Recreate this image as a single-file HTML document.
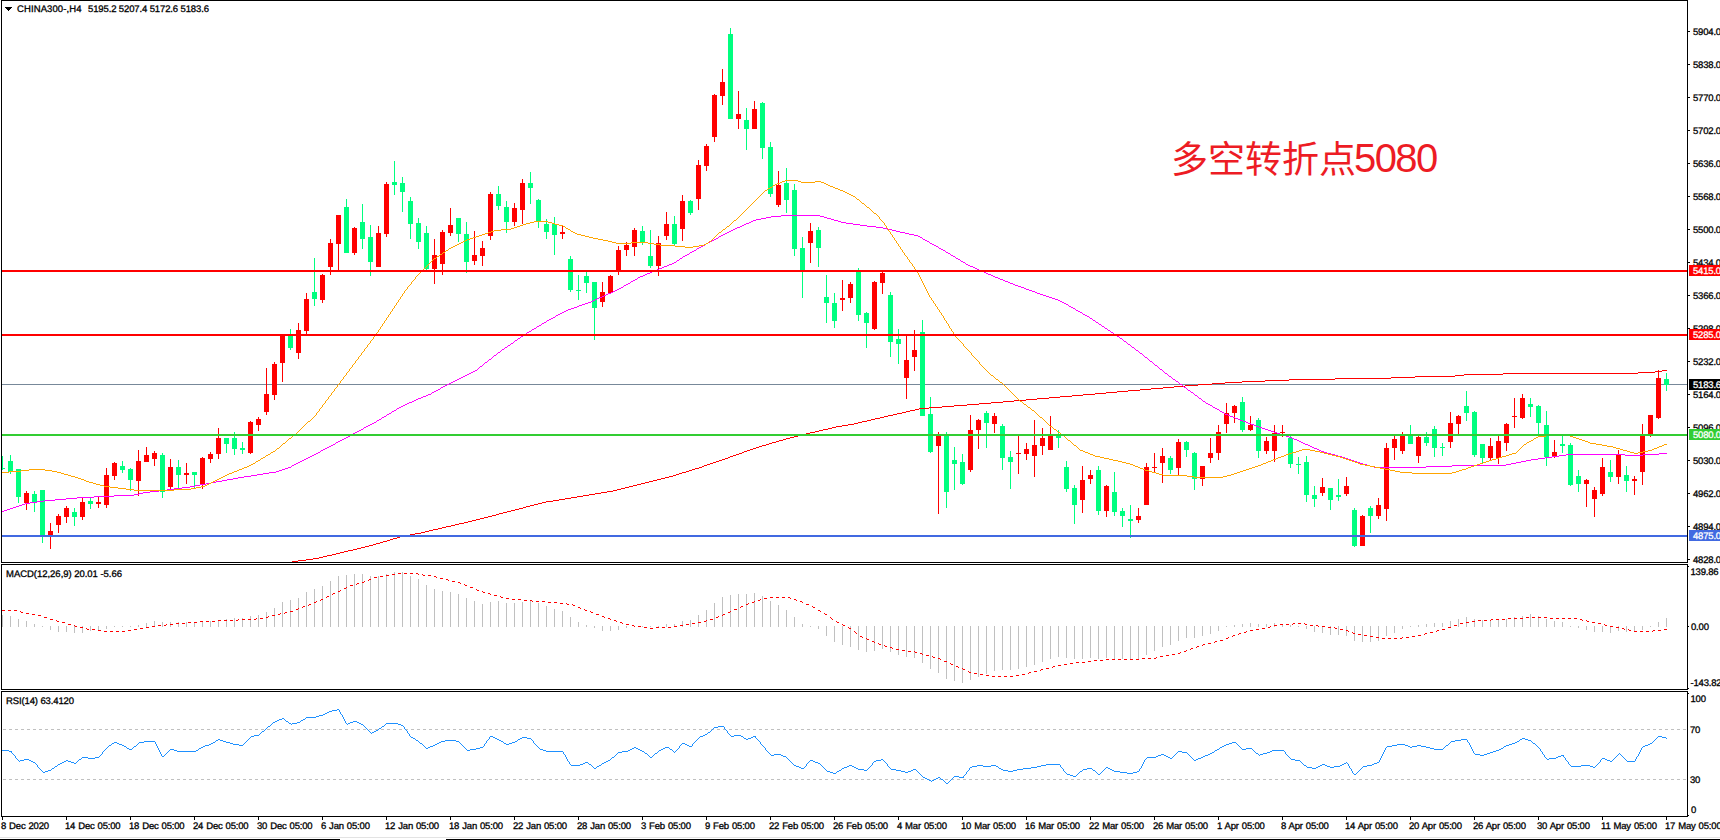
<!DOCTYPE html><html><head><meta charset="utf-8"><title>CHINA300 H4</title><style>html,body{margin:0;padding:0;background:#fff;overflow:hidden}#c{position:relative;width:1720px;height:840px;overflow:hidden}</style></head><body><div id="c"><svg width="1720" height="840" viewBox="0 0 1720 840" shape-rendering="crispEdges" style="position:absolute;left:0;top:0"><rect x="0" y="0" width="1720" height="840" fill="#fff"/><defs><clipPath id="cm"><rect x="2" y="1" width="1685" height="561"/></clipPath><clipPath id="c2"><rect x="2" y="565" width="1685" height="124"/></clipPath><clipPath id="c3"><rect x="2" y="692" width="1685" height="124"/></clipPath></defs><g clip-path="url(#cm)"><rect x="2" y="384" width="1685" height="1" fill="#778899"/><path d="M2 456h1v14h-1zM10 455h1v19h-1zM18 469h1v34h-1zM34 491h1v21h-1zM42 490h1v53h-1zM74 508h1v18h-1zM90 497h1v12h-1zM122 461h1v12h-1zM130 468h1v23h-1zM162 453h1v45h-1zM178 460h1v28h-1zM194 472h1v16h-1zM226 438h1v15h-1zM234 432h1v23h-1zM242 442h1v12h-1zM290 329h1v21h-1zM314 258h1v48h-1zM346 199h1v54h-1zM362 204h1v45h-1zM370 225h1v51h-1zM394 161h1v34h-1zM402 177h1v35h-1zM410 197h1v42h-1zM418 218h1v31h-1zM426 226h1v44h-1zM458 218h1v24h-1zM466 222h1v51h-1zM498 186h1v24h-1zM506 201h1v32h-1zM530 172h1v32h-1zM538 199h1v29h-1zM546 219h1v20h-1zM554 217h1v38h-1zM570 256h1v36h-1zM578 275h1v25h-1zM586 272h1v21h-1zM594 282h1v58h-1zM642 226h1v19h-1zM650 230h1v38h-1zM674 216h1v30h-1zM690 200h1v15h-1zM730 28h1v91h-1zM746 108h1v42h-1zM762 102h1v57h-1zM770 142h1v55h-1zM786 168h1v45h-1zM794 184h1v72h-1zM802 237h1v61h-1zM818 227h1v40h-1zM826 275h1v48h-1zM834 293h1v35h-1zM858 268h1v53h-1zM866 312h1v36h-1zM890 292h1v65h-1zM898 329h1v35h-1zM922 320h1v96h-1zM930 397h1v56h-1zM946 432h1v76h-1zM954 447h1v43h-1zM962 454h1v31h-1zM986 411h1v37h-1zM1002 424h1v46h-1zM1010 451h1v38h-1zM1058 430h1v18h-1zM1066 461h1v31h-1zM1074 485h1v39h-1zM1098 466h1v49h-1zM1114 472h1v44h-1zM1122 508h1v19h-1zM1130 505h1v33h-1zM1170 456h1v18h-1zM1186 441h1v16h-1zM1194 452h1v38h-1zM1242 397h1v35h-1zM1258 418h1v40h-1zM1290 436h1v32h-1zM1298 457h1v17h-1zM1306 456h1v46h-1zM1314 486h1v21h-1zM1330 488h1v22h-1zM1338 479h1v22h-1zM1354 508h1v39h-1zM1370 506h1v27h-1zM1410 425h1v19h-1zM1426 432h1v14h-1zM1434 426h1v31h-1zM1442 443h1v13h-1zM1466 391h1v30h-1zM1474 411h1v46h-1zM1482 444h1v19h-1zM1530 398h1v19h-1zM1538 405h1v30h-1zM1546 411h1v55h-1zM1562 436h1v17h-1zM1570 443h1v43h-1zM1578 470h1v22h-1zM1610 460h1v22h-1zM1626 466h1v26h-1zM1666 373h1v18h-1zM0 468h5v1h-5zM8 461h5v11h-5zM16 469h5v28h-5zM32 494h5v9h-5zM40 490h5v46h-5zM72 512h5v5h-5zM88 501h5v3h-5zM120 466h5v4h-5zM128 469h5v11h-5zM160 455h5v37h-5zM176 467h5v8h-5zM192 472h5v3h-5zM224 438h5v6h-5zM232 438h5v11h-5zM240 448h5v2h-5zM288 335h5v13h-5zM312 292h5v7h-5zM344 207h5v46h-5zM360 222h5v17h-5zM368 237h5v25h-5zM392 182h5v3h-5zM400 183h5v9h-5zM408 201h5v23h-5zM416 223h5v19h-5zM424 233h5v36h-5zM456 218h5v16h-5zM464 234h5v28h-5zM496 194h5v12h-5zM504 207h5v15h-5zM528 183h5v5h-5zM536 200h5v22h-5zM544 224h5v8h-5zM552 224h5v11h-5zM568 259h5v31h-5zM576 290h5v1h-5zM584 276h5v7h-5zM592 282h5v26h-5zM640 231h5v12h-5zM648 256h5v10h-5zM672 224h5v20h-5zM688 201h5v12h-5zM728 34h5v85h-5zM744 120h5v9h-5zM760 103h5v45h-5zM768 147h5v47h-5zM784 183h5v17h-5zM792 190h5v59h-5zM800 248h5v22h-5zM816 230h5v18h-5zM824 297h5v6h-5zM832 303h5v18h-5zM856 270h5v45h-5zM864 313h5v10h-5zM888 295h5v47h-5zM896 339h5v5h-5zM920 332h5v84h-5zM928 414h5v38h-5zM944 435h5v57h-5zM952 460h5v4h-5zM960 462h5v22h-5zM984 413h5v10h-5zM1000 426h5v32h-5zM1008 457h5v5h-5zM1056 436h5v2h-5zM1064 467h5v22h-5zM1072 488h5v17h-5zM1096 470h5v41h-5zM1112 492h5v20h-5zM1120 511h5v5h-5zM1128 519h5v2h-5zM1168 458h5v12h-5zM1184 442h5v8h-5zM1192 453h5v26h-5zM1240 402h5v28h-5zM1256 420h5v31h-5zM1288 438h5v26h-5zM1296 464h5v1h-5zM1304 462h5v33h-5zM1312 495h5v4h-5zM1328 488h5v12h-5zM1336 495h5v2h-5zM1352 510h5v36h-5zM1368 508h5v8h-5zM1408 436h5v8h-5zM1424 437h5v6h-5zM1432 429h5v19h-5zM1440 447h5v1h-5zM1464 406h5v7h-5zM1472 412h5v43h-5zM1480 444h5v14h-5zM1528 404h5v3h-5zM1536 406h5v17h-5zM1544 425h5v32h-5zM1560 444h5v2h-5zM1568 445h5v40h-5zM1576 476h5v8h-5zM1608 472h5v5h-5zM1624 475h5v6h-5zM1664 379h5v6h-5z" fill="#00ff7f"/><path d="M26 491h1v19h-1zM50 523h1v26h-1zM58 514h1v19h-1zM66 506h1v17h-1zM82 498h1v22h-1zM98 497h1v11h-1zM106 468h1v40h-1zM114 462h1v18h-1zM138 450h1v46h-1zM146 447h1v15h-1zM154 451h1v15h-1zM170 459h1v30h-1zM186 463h1v21h-1zM202 457h1v32h-1zM210 452h1v11h-1zM218 428h1v31h-1zM250 421h1v33h-1zM258 417h1v14h-1zM266 368h1v47h-1zM274 362h1v38h-1zM282 335h1v47h-1zM298 323h1v36h-1zM306 293h1v41h-1zM322 274h1v29h-1zM330 239h1v36h-1zM338 215h1v56h-1zM354 227h1v28h-1zM378 226h1v41h-1zM386 182h1v55h-1zM434 239h1v45h-1zM442 230h1v45h-1zM450 208h1v28h-1zM474 231h1v34h-1zM482 241h1v25h-1zM490 192h1v48h-1zM514 203h1v23h-1zM522 179h1v45h-1zM562 225h1v14h-1zM602 282h1v25h-1zM610 275h1v18h-1zM618 246h1v29h-1zM626 242h1v14h-1zM634 228h1v28h-1zM658 236h1v40h-1zM666 212h1v28h-1zM682 195h1v46h-1zM698 160h1v50h-1zM706 144h1v27h-1zM714 94h1v48h-1zM722 69h1v36h-1zM738 91h1v38h-1zM754 101h1v28h-1zM778 171h1v36h-1zM810 223h1v40h-1zM842 280h1v31h-1zM850 282h1v21h-1zM874 281h1v49h-1zM882 271h1v23h-1zM906 335h1v64h-1zM914 330h1v41h-1zM938 432h1v82h-1zM970 415h1v57h-1zM978 419h1v30h-1zM994 413h1v20h-1zM1018 436h1v38h-1zM1026 443h1v17h-1zM1034 420h1v57h-1zM1042 428h1v27h-1zM1050 416h1v34h-1zM1082 466h1v47h-1zM1090 470h1v14h-1zM1106 485h1v32h-1zM1138 508h1v15h-1zM1146 463h1v42h-1zM1154 453h1v19h-1zM1162 448h1v35h-1zM1178 439h1v36h-1zM1202 466h1v20h-1zM1210 438h1v25h-1zM1218 425h1v35h-1zM1226 403h1v30h-1zM1234 405h1v18h-1zM1250 416h1v15h-1zM1266 437h1v17h-1zM1274 425h1v37h-1zM1282 425h1v12h-1zM1322 478h1v18h-1zM1346 477h1v19h-1zM1362 515h1v31h-1zM1378 498h1v21h-1zM1386 443h1v78h-1zM1394 436h1v24h-1zM1402 432h1v22h-1zM1418 436h1v27h-1zM1450 412h1v36h-1zM1458 415h1v19h-1zM1490 438h1v22h-1zM1498 436h1v28h-1zM1506 423h1v28h-1zM1514 398h1v30h-1zM1522 394h1v25h-1zM1554 440h1v18h-1zM1586 479h1v28h-1zM1594 487h1v30h-1zM1602 458h1v38h-1zM1618 450h1v34h-1zM1634 476h1v19h-1zM1642 424h1v61h-1zM1650 415h1v22h-1zM1658 370h1v49h-1zM24 493h5v10h-5zM48 531h5v5h-5zM56 516h5v9h-5zM64 508h5v9h-5zM80 502h5v15h-5zM96 502h5v2h-5zM104 475h5v30h-5zM112 463h5v13h-5zM136 461h5v20h-5zM144 455h5v7h-5zM152 453h5v6h-5zM168 467h5v20h-5zM184 473h5v2h-5zM200 458h5v26h-5zM208 454h5v5h-5zM216 438h5v16h-5zM248 422h5v31h-5zM256 419h5v6h-5zM264 394h5v18h-5zM272 364h5v31h-5zM280 335h5v28h-5zM296 330h5v23h-5zM304 299h5v32h-5zM320 275h5v25h-5zM328 243h5v24h-5zM336 215h5v29h-5zM352 228h5v25h-5zM376 233h5v34h-5zM384 184h5v50h-5zM432 255h5v14h-5zM440 232h5v32h-5zM448 225h5v8h-5zM472 255h5v6h-5zM480 248h5v8h-5zM488 194h5v42h-5zM512 208h5v14h-5zM520 183h5v27h-5zM560 232h5v2h-5zM600 292h5v10h-5zM608 276h5v17h-5zM616 250h5v21h-5zM624 245h5v5h-5zM632 230h5v17h-5zM656 243h5v23h-5zM664 224h5v12h-5zM680 201h5v28h-5zM696 165h5v34h-5zM704 146h5v20h-5zM712 95h5v42h-5zM720 82h5v14h-5zM736 114h5v5h-5zM752 109h5v20h-5zM776 185h5v20h-5zM808 231h5v12h-5zM840 298h5v2h-5zM848 284h5v14h-5zM872 282h5v47h-5zM880 273h5v10h-5zM904 360h5v18h-5zM912 350h5v7h-5zM936 435h5v11h-5zM968 430h5v40h-5zM976 420h5v10h-5zM992 416h5v8h-5zM1016 453h5v1h-5zM1024 449h5v5h-5zM1032 445h5v11h-5zM1040 438h5v8h-5zM1048 435h5v15h-5zM1080 480h5v20h-5zM1088 475h5v4h-5zM1104 486h5v25h-5zM1136 516h5v4h-5zM1144 467h5v38h-5zM1152 467h5v1h-5zM1160 456h5v7h-5zM1176 442h5v26h-5zM1200 466h5v13h-5zM1208 453h5v5h-5zM1216 432h5v21h-5zM1224 413h5v11h-5zM1232 406h5v7h-5zM1248 425h5v5h-5zM1264 441h5v10h-5zM1272 433h5v18h-5zM1280 432h5v1h-5zM1320 487h5v6h-5zM1344 486h5v8h-5zM1360 516h5v30h-5zM1376 505h5v11h-5zM1384 448h5v61h-5zM1392 439h5v9h-5zM1400 436h5v15h-5zM1416 437h5v19h-5zM1448 423h5v19h-5zM1456 416h5v8h-5zM1488 446h5v12h-5zM1496 441h5v17h-5zM1504 424h5v19h-5zM1512 416h5v1h-5zM1520 398h5v20h-5zM1552 452h5v4h-5zM1584 480h5v4h-5zM1592 490h5v9h-5zM1600 467h5v27h-5zM1616 454h5v23h-5zM1632 479h5v2h-5zM1640 435h5v37h-5zM1648 415h5v20h-5zM1656 378h5v40h-5z" fill="#ff0000"/><path d="M291 562h1v1h-1zM292 561h1v1h-1zM293 561h1v1h-1zM294 561h1v1h-1zM295 561h1v1h-1zM296 561h1v1h-1zM297 561h1v1h-1zM298 560h1v1h-1zM299 560h1v1h-1zM300 560h1v1h-1zM301 560h1v1h-1zM302 560h1v1h-1zM303 560h1v1h-1zM304 560h1v1h-1zM305 560h1v1h-1zM306 559h1v1h-1zM307 559h1v1h-1zM308 559h1v1h-1zM309 559h1v1h-1zM310 559h1v1h-1zM311 559h1v1h-1zM312 559h1v1h-1zM313 558h1v1h-1zM314 558h1v1h-1zM315 558h1v1h-1zM316 558h1v1h-1zM317 558h1v1h-1zM318 558h1v1h-1zM319 557h1v1h-1zM320 557h1v1h-1zM321 557h1v1h-1zM322 557h1v1h-1zM323 556h1v1h-1zM324 556h1v1h-1zM325 556h1v1h-1zM326 556h1v1h-1zM327 555h1v1h-1zM328 555h1v1h-1zM329 555h1v1h-1zM330 555h1v1h-1zM331 555h1v1h-1zM332 554h1v1h-1zM333 554h1v1h-1zM334 554h1v1h-1zM335 554h1v1h-1zM336 553h1v1h-1zM337 553h1v1h-1zM338 553h1v1h-1zM339 553h1v1h-1zM340 552h1v1h-1zM341 552h1v1h-1zM342 552h1v1h-1zM343 552h1v1h-1zM344 551h1v1h-1zM345 551h1v1h-1zM346 551h1v1h-1zM347 551h1v1h-1zM348 550h1v1h-1zM349 550h1v1h-1zM350 550h1v1h-1zM351 550h1v1h-1zM352 550h1v1h-1zM353 549h1v1h-1zM354 549h1v1h-1zM355 549h1v1h-1zM356 549h1v1h-1zM357 548h1v1h-1zM358 548h1v1h-1zM359 548h1v1h-1zM360 548h1v1h-1zM361 547h1v1h-1zM362 547h1v1h-1zM363 547h1v1h-1zM364 547h1v1h-1zM365 546h1v1h-1zM366 546h1v1h-1zM367 546h1v1h-1zM368 546h1v1h-1zM369 545h1v1h-1zM370 545h1v1h-1zM371 545h1v1h-1zM372 545h1v1h-1zM373 544h1v1h-1zM374 544h1v1h-1zM375 544h1v1h-1zM376 543h1v1h-1zM377 543h1v1h-1zM378 543h1v1h-1zM379 543h1v1h-1zM380 542h1v1h-1zM381 542h1v1h-1zM382 542h1v1h-1zM383 541h1v1h-1zM384 541h1v1h-1zM385 541h1v1h-1zM386 541h1v1h-1zM387 540h1v1h-1zM388 540h1v1h-1zM389 540h1v1h-1zM390 539h1v1h-1zM391 539h1v1h-1zM392 539h1v1h-1zM393 538h1v1h-1zM394 538h1v1h-1zM395 538h1v1h-1zM396 538h1v1h-1zM397 537h1v1h-1zM398 537h1v1h-1zM399 537h1v1h-1zM400 536h1v1h-1zM401 536h1v1h-1zM402 536h1v1h-1zM403 536h1v1h-1zM404 536h1v1h-1zM405 535h1v1h-1zM406 535h1v1h-1zM407 535h1v1h-1zM408 535h1v1h-1zM409 535h1v1h-1zM410 534h1v1h-1zM411 534h1v1h-1zM412 534h1v1h-1zM413 534h1v1h-1zM414 534h1v1h-1zM415 533h1v1h-1zM416 533h1v1h-1zM417 533h1v1h-1zM418 533h1v1h-1zM419 533h1v1h-1zM420 533h1v1h-1zM421 532h1v1h-1zM422 532h1v1h-1zM423 532h1v1h-1zM424 532h1v1h-1zM425 531h1v1h-1zM426 531h1v1h-1zM427 531h1v1h-1zM428 531h1v1h-1zM429 530h1v1h-1zM430 530h1v1h-1zM431 530h1v1h-1zM432 530h1v1h-1zM433 529h1v1h-1zM434 529h1v1h-1zM435 529h1v1h-1zM436 529h1v1h-1zM437 529h1v1h-1zM438 528h1v1h-1zM439 528h1v1h-1zM440 528h1v1h-1zM441 528h1v1h-1zM442 527h1v1h-1zM443 527h1v1h-1zM444 527h1v1h-1zM445 527h1v1h-1zM446 526h1v1h-1zM447 526h1v1h-1zM448 526h1v1h-1zM449 526h1v1h-1zM450 526h1v1h-1zM451 525h1v1h-1zM452 525h1v1h-1zM453 525h1v1h-1zM454 525h1v1h-1zM455 524h1v1h-1zM456 524h1v1h-1zM457 524h1v1h-1zM458 524h1v1h-1zM459 523h1v1h-1zM460 523h1v1h-1zM461 523h1v1h-1zM462 523h1v1h-1zM463 523h1v1h-1zM464 522h1v1h-1zM465 522h1v1h-1zM466 522h1v1h-1zM467 522h1v1h-1zM468 521h1v1h-1zM469 521h1v1h-1zM470 521h1v1h-1zM471 521h1v1h-1zM472 520h1v1h-1zM473 520h1v1h-1zM474 520h1v1h-1zM475 520h1v1h-1zM476 519h1v1h-1zM477 519h1v1h-1zM478 519h1v1h-1zM479 519h1v1h-1zM480 518h1v1h-1zM481 518h1v1h-1zM482 518h1v1h-1zM483 518h1v1h-1zM484 517h1v1h-1zM485 517h1v1h-1zM486 517h1v1h-1zM487 517h1v1h-1zM488 516h1v1h-1zM489 516h1v1h-1zM490 516h1v1h-1zM491 516h1v1h-1zM492 515h1v1h-1zM493 515h1v1h-1zM494 515h1v1h-1zM495 515h1v1h-1zM496 514h1v1h-1zM497 514h1v1h-1zM498 514h1v1h-1zM499 513h1v1h-1zM500 513h1v1h-1zM501 513h1v1h-1zM502 513h1v1h-1zM503 512h1v1h-1zM504 512h1v1h-1zM505 512h1v1h-1zM506 512h1v1h-1zM507 511h1v1h-1zM508 511h1v1h-1zM509 511h1v1h-1zM510 511h1v1h-1zM511 510h1v1h-1zM512 510h1v1h-1zM513 510h1v1h-1zM514 510h1v1h-1zM515 509h1v1h-1zM516 509h1v1h-1zM517 509h1v1h-1zM518 509h1v1h-1zM519 508h1v1h-1zM520 508h1v1h-1zM521 508h1v1h-1zM522 508h1v1h-1zM523 507h1v1h-1zM524 507h1v1h-1zM525 507h1v1h-1zM526 506h1v1h-1zM527 506h1v1h-1zM528 506h1v1h-1zM529 506h1v1h-1zM530 505h1v1h-1zM531 505h1v1h-1zM532 505h1v1h-1zM533 505h1v1h-1zM534 504h1v1h-1zM535 504h1v1h-1zM536 504h1v1h-1zM537 504h1v1h-1zM538 503h1v1h-1zM539 503h1v1h-1zM540 503h1v1h-1zM541 503h1v1h-1zM542 502h1v1h-1zM543 502h1v1h-1zM544 502h1v1h-1zM545 502h1v1h-1zM546 501h1v1h-1zM547 501h1v1h-1zM548 501h1v1h-1zM549 501h1v1h-1zM550 501h1v1h-1zM551 501h1v1h-1zM552 501h1v1h-1zM553 500h1v1h-1zM554 500h1v1h-1zM555 500h1v1h-1zM556 500h1v1h-1zM557 500h1v1h-1zM558 500h1v1h-1zM559 499h1v1h-1zM560 499h1v1h-1zM561 499h1v1h-1zM562 499h1v1h-1zM563 499h1v1h-1zM564 499h1v1h-1zM565 498h1v1h-1zM566 498h1v1h-1zM567 498h1v1h-1zM568 498h1v1h-1zM569 498h1v1h-1zM570 498h1v1h-1zM571 497h1v1h-1zM572 497h1v1h-1zM573 497h1v1h-1zM574 497h1v1h-1zM575 497h1v1h-1zM576 497h1v1h-1zM577 496h1v1h-1zM578 496h1v1h-1zM579 496h1v1h-1zM580 496h1v1h-1zM581 496h1v1h-1zM582 496h1v1h-1zM583 495h1v1h-1zM584 495h1v1h-1zM585 495h1v1h-1zM586 495h1v1h-1zM587 495h1v1h-1zM588 495h1v1h-1zM589 494h1v1h-1zM590 494h1v1h-1zM591 494h1v1h-1zM592 494h1v1h-1zM593 494h1v1h-1zM594 494h1v1h-1zM595 493h1v1h-1zM596 493h1v1h-1zM597 493h1v1h-1zM598 493h1v1h-1zM599 493h1v1h-1zM600 493h1v1h-1zM601 492h1v1h-1zM602 492h1v1h-1zM603 492h1v1h-1zM604 492h1v1h-1zM605 492h1v1h-1zM606 492h1v1h-1zM607 491h1v1h-1zM608 491h1v1h-1zM609 491h1v1h-1zM610 491h1v1h-1zM611 491h1v1h-1zM612 491h1v1h-1zM613 490h1v1h-1zM614 490h1v1h-1zM615 490h1v1h-1zM616 490h1v1h-1zM617 489h1v1h-1zM618 489h1v1h-1zM619 489h1v1h-1zM620 489h1v1h-1zM621 488h1v1h-1zM622 488h1v1h-1zM623 488h1v1h-1zM624 488h1v1h-1zM625 487h1v1h-1zM626 487h1v1h-1zM627 487h1v1h-1zM628 487h1v1h-1zM629 486h1v1h-1zM630 486h1v1h-1zM631 486h1v1h-1zM632 486h1v1h-1zM633 485h1v1h-1zM634 485h1v1h-1zM635 485h1v1h-1zM636 485h1v1h-1zM637 484h1v1h-1zM638 484h1v1h-1zM639 484h1v1h-1zM640 484h1v1h-1zM641 483h1v1h-1zM642 483h1v1h-1zM643 483h1v1h-1zM644 483h1v1h-1zM645 482h1v1h-1zM646 482h1v1h-1zM647 482h1v1h-1zM648 482h1v1h-1zM649 481h1v1h-1zM650 481h1v1h-1zM651 481h1v1h-1zM652 481h1v1h-1zM653 480h1v1h-1zM654 480h1v1h-1zM655 480h1v1h-1zM656 480h1v1h-1zM657 479h1v1h-1zM658 479h1v1h-1zM659 479h1v1h-1zM660 479h1v1h-1zM661 478h1v1h-1zM662 478h1v1h-1zM663 478h1v1h-1zM664 478h1v1h-1zM665 477h1v1h-1zM666 477h1v1h-1zM667 477h1v1h-1zM668 477h1v1h-1zM669 476h1v1h-1zM670 476h1v1h-1zM671 476h1v1h-1zM672 476h1v1h-1zM673 475h1v1h-1zM674 475h1v1h-1zM675 475h1v1h-1zM676 474h1v1h-1zM677 474h1v1h-1zM678 474h1v1h-1zM679 473h1v1h-1zM680 473h1v1h-1zM681 473h1v1h-1zM682 472h1v1h-1zM683 472h1v1h-1zM684 472h1v1h-1zM685 472h1v1h-1zM686 471h1v1h-1zM687 471h1v1h-1zM688 471h1v1h-1zM689 470h1v1h-1zM690 470h1v1h-1zM691 470h1v1h-1zM692 469h1v1h-1zM693 469h1v1h-1zM694 469h1v1h-1zM695 468h1v1h-1zM696 468h1v1h-1zM697 468h1v1h-1zM698 468h1v1h-1zM699 467h1v1h-1zM700 467h1v1h-1zM701 467h1v1h-1zM702 466h1v1h-1zM703 466h1v1h-1zM704 465h1v1h-1zM705 465h1v1h-1zM706 465h1v1h-1zM707 464h1v1h-1zM708 464h1v1h-1zM709 464h1v1h-1zM710 463h1v1h-1zM711 463h1v1h-1zM712 463h1v1h-1zM713 462h1v1h-1zM714 462h1v1h-1zM715 462h1v1h-1zM716 461h1v1h-1zM717 461h1v1h-1zM718 461h1v1h-1zM719 460h1v1h-1zM720 460h1v1h-1zM721 460h1v1h-1zM722 459h1v1h-1zM723 459h1v1h-1zM724 459h1v1h-1zM725 458h1v1h-1zM726 458h1v1h-1zM727 458h1v1h-1zM728 457h1v1h-1zM729 457h1v1h-1zM730 456h1v1h-1zM731 456h1v1h-1zM732 456h1v1h-1zM733 455h1v1h-1zM734 455h1v1h-1zM735 455h1v1h-1zM736 454h1v1h-1zM737 454h1v1h-1zM738 454h1v1h-1zM739 453h1v1h-1zM740 453h1v1h-1zM741 453h1v1h-1zM742 452h1v1h-1zM743 452h1v1h-1zM744 451h1v1h-1zM745 451h1v1h-1zM746 451h1v1h-1zM747 450h1v1h-1zM748 450h1v1h-1zM749 450h1v1h-1zM750 449h1v1h-1zM751 449h1v1h-1zM752 449h1v1h-1zM753 448h1v1h-1zM754 448h1v1h-1zM755 448h1v1h-1zM756 447h1v1h-1zM757 447h1v1h-1zM758 447h1v1h-1zM759 446h1v1h-1zM760 446h1v1h-1zM761 446h1v1h-1zM762 445h1v1h-1zM763 445h1v1h-1zM764 445h1v1h-1zM765 445h1v1h-1zM766 444h1v1h-1zM767 444h1v1h-1zM768 444h1v1h-1zM769 443h1v1h-1zM770 443h1v1h-1zM771 443h1v1h-1zM772 442h1v1h-1zM773 442h1v1h-1zM774 442h1v1h-1zM775 442h1v1h-1zM776 441h1v1h-1zM777 441h1v1h-1zM778 441h1v1h-1zM779 440h1v1h-1zM780 440h1v1h-1zM781 440h1v1h-1zM782 440h1v1h-1zM783 439h1v1h-1zM784 439h1v1h-1zM785 439h1v1h-1zM786 438h1v1h-1zM787 438h1v1h-1zM788 438h1v1h-1zM789 438h1v1h-1zM790 437h1v1h-1zM791 437h1v1h-1zM792 437h1v1h-1zM793 437h1v1h-1zM794 436h1v1h-1zM795 436h1v1h-1zM796 436h1v1h-1zM797 436h1v1h-1zM798 435h1v1h-1zM799 435h1v1h-1zM800 435h1v1h-1zM801 435h1v1h-1zM802 434h1v1h-1zM803 434h1v1h-1zM804 434h1v1h-1zM805 434h1v1h-1zM806 433h1v1h-1zM807 433h1v1h-1zM808 433h1v1h-1zM809 433h1v1h-1zM810 432h1v1h-1zM811 432h1v1h-1zM812 432h1v1h-1zM813 432h1v1h-1zM814 432h1v1h-1zM815 431h1v1h-1zM816 431h1v1h-1zM817 431h1v1h-1zM818 431h1v1h-1zM819 430h1v1h-1zM820 430h1v1h-1zM821 430h1v1h-1zM822 430h1v1h-1zM823 429h1v1h-1zM824 429h1v1h-1zM825 429h1v1h-1zM826 429h1v1h-1zM827 429h1v1h-1zM828 428h1v1h-1zM829 428h1v1h-1zM830 428h1v1h-1zM831 428h1v1h-1zM832 427h1v1h-1zM833 427h1v1h-1zM834 427h1v1h-1zM835 427h1v1h-1zM836 426h1v1h-1zM837 426h1v1h-1zM838 426h1v1h-1zM839 426h1v1h-1zM840 426h1v1h-1zM841 426h1v1h-1zM842 425h1v1h-1zM843 425h1v1h-1zM844 425h1v1h-1zM845 425h1v1h-1zM846 425h1v1h-1zM847 425h1v1h-1zM848 424h1v1h-1zM849 424h1v1h-1zM850 424h1v1h-1zM851 424h1v1h-1zM852 424h1v1h-1zM853 424h1v1h-1zM854 423h1v1h-1zM855 423h1v1h-1zM856 423h1v1h-1zM857 423h1v1h-1zM858 422h1v1h-1zM859 422h1v1h-1zM860 422h1v1h-1zM861 422h1v1h-1zM862 421h1v1h-1zM863 421h1v1h-1zM864 421h1v1h-1zM865 421h1v1h-1zM866 421h1v1h-1zM867 420h1v1h-1zM868 420h1v1h-1zM869 420h1v1h-1zM870 420h1v1h-1zM871 419h1v1h-1zM872 419h1v1h-1zM873 419h1v1h-1zM874 419h1v1h-1zM875 418h1v1h-1zM876 418h1v1h-1zM877 418h1v1h-1zM878 418h1v1h-1zM879 418h1v1h-1zM880 417h1v1h-1zM881 417h1v1h-1zM882 417h1v1h-1zM883 417h1v1h-1zM884 416h1v1h-1zM885 416h1v1h-1zM886 416h1v1h-1zM887 416h1v1h-1zM888 415h1v1h-1zM889 415h1v1h-1zM890 415h1v1h-1zM891 415h1v1h-1zM892 415h1v1h-1zM893 414h1v1h-1zM894 414h1v1h-1zM895 414h1v1h-1zM896 414h1v1h-1zM897 413h1v1h-1zM898 413h1v1h-1zM899 413h1v1h-1zM900 413h1v1h-1zM901 413h1v1h-1zM902 412h1v1h-1zM903 412h1v1h-1zM904 412h1v1h-1zM905 412h1v1h-1zM906 411h1v1h-1zM907 411h1v1h-1zM908 411h1v1h-1zM909 411h1v1h-1zM910 410h1v1h-1zM911 410h1v1h-1zM912 410h1v1h-1zM913 410h1v1h-1zM914 410h1v1h-1zM915 409h1v1h-1zM916 409h1v1h-1zM917 409h1v1h-1zM918 409h1v1h-1zM919 408h1v1h-1zM920 408h1v1h-1zM921 408h1v1h-1zM922 408h1v1h-1zM923 408h1v1h-1zM924 408h1v1h-1zM925 408h1v1h-1zM926 408h1v1h-1zM927 408h1v1h-1zM928 408h1v1h-1zM929 407h1v1h-1zM930 407h1v1h-1zM931 407h1v1h-1zM932 407h1v1h-1zM933 407h1v1h-1zM934 407h1v1h-1zM935 407h1v1h-1zM936 407h1v1h-1zM937 407h1v1h-1zM938 407h1v1h-1zM939 407h1v1h-1zM940 407h1v1h-1zM941 407h1v1h-1zM942 406h1v1h-1zM943 406h1v1h-1zM944 406h1v1h-1zM945 406h1v1h-1zM946 406h1v1h-1zM947 406h1v1h-1zM948 406h1v1h-1zM949 406h1v1h-1zM950 406h1v1h-1zM951 406h1v1h-1zM952 406h1v1h-1zM953 406h1v1h-1zM954 405h1v1h-1zM955 405h1v1h-1zM956 405h1v1h-1zM957 405h1v1h-1zM958 405h1v1h-1zM959 405h1v1h-1zM960 405h1v1h-1zM961 405h1v1h-1zM962 405h1v1h-1zM963 405h1v1h-1zM964 405h1v1h-1zM965 405h1v1h-1zM966 405h1v1h-1zM967 404h1v1h-1zM968 404h1v1h-1zM969 404h1v1h-1zM970 404h1v1h-1zM971 404h1v1h-1zM972 404h1v1h-1zM973 404h1v1h-1zM974 404h1v1h-1zM975 404h1v1h-1zM976 404h1v1h-1zM977 404h1v1h-1zM978 404h1v1h-1zM979 403h1v1h-1zM980 403h1v1h-1zM981 403h1v1h-1zM982 403h1v1h-1zM983 403h1v1h-1zM984 403h1v1h-1zM985 403h1v1h-1zM986 403h1v1h-1zM987 403h1v1h-1zM988 403h1v1h-1zM989 403h1v1h-1zM990 403h1v1h-1zM991 402h1v1h-1zM992 402h1v1h-1zM993 402h1v1h-1zM994 402h1v1h-1zM995 402h1v1h-1zM996 402h1v1h-1zM997 402h1v1h-1zM998 402h1v1h-1zM999 402h1v1h-1zM1000 402h1v1h-1zM1001 402h1v1h-1zM1002 402h1v1h-1zM1003 401h1v1h-1zM1004 401h1v1h-1zM1005 401h1v1h-1zM1006 401h1v1h-1zM1007 401h1v1h-1zM1008 401h1v1h-1zM1009 401h1v1h-1zM1010 401h1v1h-1zM1011 401h1v1h-1zM1012 401h1v1h-1zM1013 401h1v1h-1zM1014 400h1v1h-1zM1015 400h1v1h-1zM1016 400h1v1h-1zM1017 400h1v1h-1zM1018 400h1v1h-1zM1019 400h1v1h-1zM1020 400h1v1h-1zM1021 400h1v1h-1zM1022 400h1v1h-1zM1023 400h1v1h-1zM1024 400h1v1h-1zM1025 400h1v1h-1zM1026 399h1v1h-1zM1027 399h1v1h-1zM1028 399h1v1h-1zM1029 399h1v1h-1zM1030 399h1v1h-1zM1031 399h1v1h-1zM1032 399h1v1h-1zM1033 399h1v1h-1zM1034 399h1v1h-1zM1035 399h1v1h-1zM1036 399h1v1h-1zM1037 398h1v1h-1zM1038 398h1v1h-1zM1039 398h1v1h-1zM1040 398h1v1h-1zM1041 398h1v1h-1zM1042 398h1v1h-1zM1043 398h1v1h-1zM1044 398h1v1h-1zM1045 398h1v1h-1zM1046 398h1v1h-1zM1047 398h1v1h-1zM1048 398h1v1h-1zM1049 397h1v1h-1zM1050 397h1v1h-1zM1051 397h1v1h-1zM1052 397h1v1h-1zM1053 397h1v1h-1zM1054 397h1v1h-1zM1055 397h1v1h-1zM1056 397h1v1h-1zM1057 397h1v1h-1zM1058 397h1v1h-1zM1059 397h1v1h-1zM1060 396h1v1h-1zM1061 396h1v1h-1zM1062 396h1v1h-1zM1063 396h1v1h-1zM1064 396h1v1h-1zM1065 396h1v1h-1zM1066 396h1v1h-1zM1067 396h1v1h-1zM1068 396h1v1h-1zM1069 396h1v1h-1zM1070 396h1v1h-1zM1071 396h1v1h-1zM1072 395h1v1h-1zM1073 395h1v1h-1zM1074 395h1v1h-1zM1075 395h1v1h-1zM1076 395h1v1h-1zM1077 395h1v1h-1zM1078 395h1v1h-1zM1079 395h1v1h-1zM1080 395h1v1h-1zM1081 395h1v1h-1zM1082 395h1v1h-1zM1083 394h1v1h-1zM1084 394h1v1h-1zM1085 394h1v1h-1zM1086 394h1v1h-1zM1087 394h1v1h-1zM1088 394h1v1h-1zM1089 394h1v1h-1zM1090 394h1v1h-1zM1091 394h1v1h-1zM1092 394h1v1h-1zM1093 394h1v1h-1zM1094 394h1v1h-1zM1095 393h1v1h-1zM1096 393h1v1h-1zM1097 393h1v1h-1zM1098 393h1v1h-1zM1099 393h1v1h-1zM1100 393h1v1h-1zM1101 393h1v1h-1zM1102 393h1v1h-1zM1103 393h1v1h-1zM1104 393h1v1h-1zM1105 393h1v1h-1zM1106 392h1v1h-1zM1107 392h1v1h-1zM1108 392h1v1h-1zM1109 392h1v1h-1zM1110 392h1v1h-1zM1111 392h1v1h-1zM1112 392h1v1h-1zM1113 392h1v1h-1zM1114 392h1v1h-1zM1115 392h1v1h-1zM1116 392h1v1h-1zM1117 391h1v1h-1zM1118 391h1v1h-1zM1119 391h1v1h-1zM1120 391h1v1h-1zM1121 391h1v1h-1zM1122 391h1v1h-1zM1123 391h1v1h-1zM1124 391h1v1h-1zM1125 391h1v1h-1zM1126 391h1v1h-1zM1127 391h1v1h-1zM1128 390h1v1h-1zM1129 390h1v1h-1zM1130 390h1v1h-1zM1131 390h1v1h-1zM1132 390h1v1h-1zM1133 390h1v1h-1zM1134 390h1v1h-1zM1135 390h1v1h-1zM1136 390h1v1h-1zM1137 390h1v1h-1zM1138 390h1v1h-1zM1139 390h1v1h-1zM1140 389h1v1h-1zM1141 389h1v1h-1zM1142 389h1v1h-1zM1143 389h1v1h-1zM1144 389h1v1h-1zM1145 389h1v1h-1zM1146 389h1v1h-1zM1147 389h1v1h-1zM1148 389h1v1h-1zM1149 389h1v1h-1zM1150 389h1v1h-1zM1151 388h1v1h-1zM1152 388h1v1h-1zM1153 388h1v1h-1zM1154 388h1v1h-1zM1155 388h1v1h-1zM1156 388h1v1h-1zM1157 388h1v1h-1zM1158 388h1v1h-1zM1159 388h1v1h-1zM1160 388h1v1h-1zM1161 388h1v1h-1zM1162 388h1v1h-1zM1163 387h1v1h-1zM1164 387h1v1h-1zM1165 387h1v1h-1zM1166 387h1v1h-1zM1167 387h1v1h-1zM1168 387h1v1h-1zM1169 387h1v1h-1zM1170 387h1v1h-1zM1171 387h1v1h-1zM1172 387h1v1h-1zM1173 387h1v1h-1zM1174 386h1v1h-1zM1175 386h1v1h-1zM1176 386h1v1h-1zM1177 386h1v1h-1zM1178 386h1v1h-1zM1179 386h1v1h-1zM1180 386h1v1h-1zM1181 386h1v1h-1zM1182 386h1v1h-1zM1183 386h1v1h-1zM1184 386h1v1h-1zM1185 385h1v1h-1zM1186 385h1v1h-1zM1187 385h1v1h-1zM1188 385h1v1h-1zM1189 385h1v1h-1zM1190 385h1v1h-1zM1191 385h1v1h-1zM1192 385h1v1h-1zM1193 385h1v1h-1zM1194 385h1v1h-1zM1195 385h1v1h-1zM1196 385h1v1h-1zM1197 385h1v1h-1zM1198 384h1v1h-1zM1199 384h1v1h-1zM1200 384h1v1h-1zM1201 384h1v1h-1zM1202 384h1v1h-1zM1203 384h1v1h-1zM1204 384h1v1h-1zM1205 384h1v1h-1zM1206 384h1v1h-1zM1207 384h1v1h-1zM1208 384h1v1h-1zM1209 384h1v1h-1zM1210 384h1v1h-1zM1211 384h1v1h-1zM1212 383h1v1h-1zM1213 383h1v1h-1zM1214 383h1v1h-1zM1215 383h1v1h-1zM1216 383h1v1h-1zM1217 383h1v1h-1zM1218 383h1v1h-1zM1219 383h1v1h-1zM1220 383h1v1h-1zM1221 383h1v1h-1zM1222 383h1v1h-1zM1223 383h1v1h-1zM1224 383h1v1h-1zM1225 382h1v1h-1zM1226 382h1v1h-1zM1227 382h1v1h-1zM1228 382h1v1h-1zM1229 382h1v1h-1zM1230 382h1v1h-1zM1231 382h1v1h-1zM1232 382h1v1h-1zM1233 382h1v1h-1zM1234 382h1v1h-1zM1235 382h1v1h-1zM1236 382h1v1h-1zM1237 382h1v1h-1zM1238 382h1v1h-1zM1239 382h1v1h-1zM1240 382h1v1h-1zM1241 382h1v1h-1zM1242 381h1v1h-1zM1243 381h1v1h-1zM1244 381h1v1h-1zM1245 381h1v1h-1zM1246 381h1v1h-1zM1247 381h1v1h-1zM1248 381h1v1h-1zM1249 381h1v1h-1zM1250 381h1v1h-1zM1251 381h1v1h-1zM1252 381h1v1h-1zM1253 381h1v1h-1zM1254 381h1v1h-1zM1255 381h1v1h-1zM1256 381h1v1h-1zM1257 381h1v1h-1zM1258 381h1v1h-1zM1259 381h1v1h-1zM1260 381h1v1h-1zM1261 381h1v1h-1zM1262 381h1v1h-1zM1263 381h1v1h-1zM1264 381h1v1h-1zM1265 380h1v1h-1zM1266 380h1v1h-1zM1267 380h1v1h-1zM1268 380h1v1h-1zM1269 380h1v1h-1zM1270 380h1v1h-1zM1271 380h1v1h-1zM1272 380h1v1h-1zM1273 380h1v1h-1zM1274 380h1v1h-1zM1275 380h1v1h-1zM1276 380h1v1h-1zM1277 380h1v1h-1zM1278 380h1v1h-1zM1279 380h1v1h-1zM1280 380h1v1h-1zM1281 380h1v1h-1zM1282 380h1v1h-1zM1283 380h1v1h-1zM1284 380h1v1h-1zM1285 380h1v1h-1zM1286 380h1v1h-1zM1287 380h1v1h-1zM1288 380h1v1h-1zM1289 379h1v1h-1zM1290 379h1v1h-1zM1291 379h1v1h-1zM1292 379h1v1h-1zM1293 379h1v1h-1zM1294 379h1v1h-1zM1295 379h1v1h-1zM1296 379h1v1h-1zM1297 379h1v1h-1zM1298 379h1v1h-1zM1299 379h1v1h-1zM1300 379h1v1h-1zM1301 379h1v1h-1zM1302 379h1v1h-1zM1303 379h1v1h-1zM1304 379h1v1h-1zM1305 379h1v1h-1zM1306 379h1v1h-1zM1307 379h1v1h-1zM1308 379h1v1h-1zM1309 379h1v1h-1zM1310 379h1v1h-1zM1311 379h1v1h-1zM1312 379h1v1h-1zM1313 379h1v1h-1zM1314 379h1v1h-1zM1315 379h1v1h-1zM1316 379h1v1h-1zM1317 379h1v1h-1zM1318 379h1v1h-1zM1319 379h1v1h-1zM1320 379h1v1h-1zM1321 379h1v1h-1zM1322 379h1v1h-1zM1323 379h1v1h-1zM1324 379h1v1h-1zM1325 379h1v1h-1zM1326 379h1v1h-1zM1327 379h1v1h-1zM1328 379h1v1h-1zM1329 379h1v1h-1zM1330 379h1v1h-1zM1331 379h1v1h-1zM1332 379h1v1h-1zM1333 379h1v1h-1zM1334 379h1v1h-1zM1335 378h1v1h-1zM1336 378h1v1h-1zM1337 378h1v1h-1zM1338 378h1v1h-1zM1339 378h1v1h-1zM1340 378h1v1h-1zM1341 378h1v1h-1zM1342 378h1v1h-1zM1343 378h1v1h-1zM1344 378h1v1h-1zM1345 378h1v1h-1zM1346 378h1v1h-1zM1347 378h1v1h-1zM1348 378h1v1h-1zM1349 378h1v1h-1zM1350 378h1v1h-1zM1351 378h1v1h-1zM1352 378h1v1h-1zM1353 378h1v1h-1zM1354 378h1v1h-1zM1355 378h1v1h-1zM1356 378h1v1h-1zM1357 378h1v1h-1zM1358 378h1v1h-1zM1359 378h1v1h-1zM1360 378h1v1h-1zM1361 378h1v1h-1zM1362 378h1v1h-1zM1363 378h1v1h-1zM1364 378h1v1h-1zM1365 378h1v1h-1zM1366 378h1v1h-1zM1367 378h1v1h-1zM1368 378h1v1h-1zM1369 378h1v1h-1zM1370 378h1v1h-1zM1371 378h1v1h-1zM1372 378h1v1h-1zM1373 378h1v1h-1zM1374 378h1v1h-1zM1375 378h1v1h-1zM1376 378h1v1h-1zM1377 378h1v1h-1zM1378 378h1v1h-1zM1379 378h1v1h-1zM1380 378h1v1h-1zM1381 378h1v1h-1zM1382 378h1v1h-1zM1383 378h1v1h-1zM1384 378h1v1h-1zM1385 378h1v1h-1zM1386 378h1v1h-1zM1387 378h1v1h-1zM1388 378h1v1h-1zM1389 378h1v1h-1zM1390 378h1v1h-1zM1391 377h1v1h-1zM1392 377h1v1h-1zM1393 377h1v1h-1zM1394 377h1v1h-1zM1395 377h1v1h-1zM1396 377h1v1h-1zM1397 377h1v1h-1zM1398 377h1v1h-1zM1399 377h1v1h-1zM1400 377h1v1h-1zM1401 377h1v1h-1zM1402 377h1v1h-1zM1403 377h1v1h-1zM1404 377h1v1h-1zM1405 377h1v1h-1zM1406 377h1v1h-1zM1407 377h1v1h-1zM1408 377h1v1h-1zM1409 377h1v1h-1zM1410 377h1v1h-1zM1411 377h1v1h-1zM1412 377h1v1h-1zM1413 377h1v1h-1zM1414 377h1v1h-1zM1415 376h1v1h-1zM1416 376h1v1h-1zM1417 376h1v1h-1zM1418 376h1v1h-1zM1419 376h1v1h-1zM1420 376h1v1h-1zM1421 376h1v1h-1zM1422 376h1v1h-1zM1423 376h1v1h-1zM1424 376h1v1h-1zM1425 376h1v1h-1zM1426 376h1v1h-1zM1427 376h1v1h-1zM1428 376h1v1h-1zM1429 376h1v1h-1zM1430 376h1v1h-1zM1431 376h1v1h-1zM1432 376h1v1h-1zM1433 376h1v1h-1zM1434 376h1v1h-1zM1435 376h1v1h-1zM1436 376h1v1h-1zM1437 376h1v1h-1zM1438 376h1v1h-1zM1439 376h1v1h-1zM1440 376h1v1h-1zM1441 376h1v1h-1zM1442 376h1v1h-1zM1443 376h1v1h-1zM1444 376h1v1h-1zM1445 376h1v1h-1zM1446 376h1v1h-1zM1447 376h1v1h-1zM1448 376h1v1h-1zM1449 376h1v1h-1zM1450 376h1v1h-1zM1451 376h1v1h-1zM1452 376h1v1h-1zM1453 376h1v1h-1zM1454 376h1v1h-1zM1455 375h1v1h-1zM1456 375h1v1h-1zM1457 375h1v1h-1zM1458 375h1v1h-1zM1459 375h1v1h-1zM1460 375h1v1h-1zM1461 375h1v1h-1zM1462 375h1v1h-1zM1463 375h1v1h-1zM1464 374h1v1h-1zM1465 374h1v1h-1zM1466 374h1v1h-1zM1467 374h1v1h-1zM1468 374h1v1h-1zM1469 374h1v1h-1zM1470 374h1v1h-1zM1471 374h1v1h-1zM1472 374h1v1h-1zM1473 374h1v1h-1zM1474 374h1v1h-1zM1475 374h1v1h-1zM1476 374h1v1h-1zM1477 374h1v1h-1zM1478 374h1v1h-1zM1479 374h1v1h-1zM1480 374h1v1h-1zM1481 374h1v1h-1zM1482 374h1v1h-1zM1483 374h1v1h-1zM1484 374h1v1h-1zM1485 374h1v1h-1zM1486 374h1v1h-1zM1487 374h1v1h-1zM1488 374h1v1h-1zM1489 374h1v1h-1zM1490 374h1v1h-1zM1491 374h1v1h-1zM1492 374h1v1h-1zM1493 374h1v1h-1zM1494 374h1v1h-1zM1495 374h1v1h-1zM1496 374h1v1h-1zM1497 374h1v1h-1zM1498 374h1v1h-1zM1499 374h1v1h-1zM1500 374h1v1h-1zM1501 374h1v1h-1zM1502 374h1v1h-1zM1503 373h1v1h-1zM1504 373h1v1h-1zM1505 373h1v1h-1zM1506 373h1v1h-1zM1507 373h1v1h-1zM1508 373h1v1h-1zM1509 373h1v1h-1zM1510 373h1v1h-1zM1511 373h1v1h-1zM1512 373h1v1h-1zM1513 373h1v1h-1zM1514 373h1v1h-1zM1515 373h1v1h-1zM1516 373h1v1h-1zM1517 373h1v1h-1zM1518 373h1v1h-1zM1519 373h1v1h-1zM1520 373h1v1h-1zM1521 373h1v1h-1zM1522 373h1v1h-1zM1523 373h1v1h-1zM1524 373h1v1h-1zM1525 373h1v1h-1zM1526 373h1v1h-1zM1527 373h1v1h-1zM1528 373h1v1h-1zM1529 373h1v1h-1zM1530 373h1v1h-1zM1531 373h1v1h-1zM1532 373h1v1h-1zM1533 373h1v1h-1zM1534 373h1v1h-1zM1535 373h1v1h-1zM1536 373h1v1h-1zM1537 373h1v1h-1zM1538 373h1v1h-1zM1539 373h1v1h-1zM1540 373h1v1h-1zM1541 373h1v1h-1zM1542 373h1v1h-1zM1543 373h1v1h-1zM1544 373h1v1h-1zM1545 373h1v1h-1zM1546 373h1v1h-1zM1547 373h1v1h-1zM1548 373h1v1h-1zM1549 373h1v1h-1zM1550 373h1v1h-1zM1551 373h1v1h-1zM1552 373h1v1h-1zM1553 373h1v1h-1zM1554 373h1v1h-1zM1555 373h1v1h-1zM1556 373h1v1h-1zM1557 373h1v1h-1zM1558 373h1v1h-1zM1559 373h1v1h-1zM1560 373h1v1h-1zM1561 373h1v1h-1zM1562 373h1v1h-1zM1563 373h1v1h-1zM1564 373h1v1h-1zM1565 373h1v1h-1zM1566 373h1v1h-1zM1567 373h1v1h-1zM1568 373h1v1h-1zM1569 373h1v1h-1zM1570 373h1v1h-1zM1571 373h1v1h-1zM1572 373h1v1h-1zM1573 373h1v1h-1zM1574 373h1v1h-1zM1575 373h1v1h-1zM1576 373h1v1h-1zM1577 373h1v1h-1zM1578 373h1v1h-1zM1579 373h1v1h-1zM1580 373h1v1h-1zM1581 373h1v1h-1zM1582 373h1v1h-1zM1583 373h1v1h-1zM1584 373h1v1h-1zM1585 373h1v1h-1zM1586 373h1v1h-1zM1587 373h1v1h-1zM1588 373h1v1h-1zM1589 373h1v1h-1zM1590 373h1v1h-1zM1591 373h1v1h-1zM1592 373h1v1h-1zM1593 373h1v1h-1zM1594 373h1v1h-1zM1595 373h1v1h-1zM1596 373h1v1h-1zM1597 373h1v1h-1zM1598 373h1v1h-1zM1599 373h1v1h-1zM1600 373h1v1h-1zM1601 373h1v1h-1zM1602 373h1v1h-1zM1603 373h1v1h-1zM1604 373h1v1h-1zM1605 373h1v1h-1zM1606 373h1v1h-1zM1607 373h1v1h-1zM1608 373h1v1h-1zM1609 373h1v1h-1zM1610 373h1v1h-1zM1611 373h1v1h-1zM1612 373h1v1h-1zM1613 373h1v1h-1zM1614 373h1v1h-1zM1615 373h1v1h-1zM1616 373h1v1h-1zM1617 373h1v1h-1zM1618 373h1v1h-1zM1619 373h1v1h-1zM1620 373h1v1h-1zM1621 373h1v1h-1zM1622 373h1v1h-1zM1623 373h1v1h-1zM1624 373h1v1h-1zM1625 373h1v1h-1zM1626 373h1v1h-1zM1627 373h1v1h-1zM1628 373h1v1h-1zM1629 373h1v1h-1zM1630 373h1v1h-1zM1631 373h1v1h-1zM1632 373h1v1h-1zM1633 373h1v1h-1zM1634 373h1v1h-1zM1635 373h1v1h-1zM1636 373h1v1h-1zM1637 373h1v1h-1zM1638 372h1v1h-1zM1639 372h1v1h-1zM1640 372h1v1h-1zM1641 372h1v1h-1zM1642 372h1v1h-1zM1643 372h1v1h-1zM1644 372h1v1h-1zM1645 372h1v1h-1zM1646 372h1v1h-1zM1647 372h1v1h-1zM1648 372h1v1h-1zM1649 372h1v1h-1zM1650 372h1v1h-1zM1651 372h1v1h-1zM1652 372h1v1h-1zM1653 372h1v1h-1zM1654 372h1v1h-1zM1655 371h1v1h-1zM1656 371h1v1h-1zM1657 371h1v1h-1zM1658 371h1v1h-1zM1659 371h1v1h-1zM1660 371h1v1h-1zM1661 371h1v1h-1zM1662 370h1v1h-1zM1663 370h1v1h-1zM1664 370h1v1h-1zM1665 370h1v1h-1zM1666 370h1v1h-1z" fill="#ff0000"/><path d="M2 511h1v1h-1zM3 511h1v1h-1zM4 510h1v1h-1zM5 510h1v1h-1zM6 510h1v1h-1zM7 509h1v1h-1zM8 509h1v1h-1zM9 509h1v1h-1zM10 508h1v1h-1zM11 508h1v1h-1zM12 508h1v1h-1zM13 507h1v1h-1zM14 507h1v1h-1zM15 507h1v1h-1zM16 506h1v1h-1zM17 506h1v1h-1zM18 506h1v1h-1zM19 505h1v1h-1zM20 505h1v1h-1zM21 505h1v1h-1zM22 504h1v1h-1zM23 504h1v1h-1zM24 504h1v1h-1zM25 503h1v1h-1zM26 503h1v1h-1zM27 503h1v1h-1zM28 503h1v1h-1zM29 503h1v1h-1zM30 502h1v1h-1zM31 502h1v1h-1zM32 502h1v1h-1zM33 502h1v1h-1zM34 502h1v1h-1zM35 502h1v1h-1zM36 502h1v1h-1zM37 501h1v1h-1zM38 501h1v1h-1zM39 501h1v1h-1zM40 501h1v1h-1zM41 501h1v1h-1zM42 501h1v1h-1zM43 501h1v1h-1zM44 500h1v1h-1zM45 500h1v1h-1zM46 500h1v1h-1zM47 500h1v1h-1zM48 500h1v1h-1zM49 500h1v1h-1zM50 500h1v1h-1zM51 500h1v1h-1zM52 500h1v1h-1zM53 500h1v1h-1zM54 500h1v1h-1zM55 499h1v1h-1zM56 499h1v1h-1zM57 499h1v1h-1zM58 499h1v1h-1zM59 499h1v1h-1zM60 499h1v1h-1zM61 499h1v1h-1zM62 499h1v1h-1zM63 499h1v1h-1zM64 499h1v1h-1zM65 499h1v1h-1zM66 498h1v1h-1zM67 498h1v1h-1zM68 498h1v1h-1zM69 498h1v1h-1zM70 498h1v1h-1zM71 498h1v1h-1zM72 498h1v1h-1zM73 498h1v1h-1zM74 498h1v1h-1zM75 498h1v1h-1zM76 498h1v1h-1zM77 497h1v1h-1zM78 497h1v1h-1zM79 497h1v1h-1zM80 497h1v1h-1zM81 497h1v1h-1zM82 497h1v1h-1zM83 497h1v1h-1zM84 497h1v1h-1zM85 497h1v1h-1zM86 497h1v1h-1zM87 497h1v1h-1zM88 497h1v1h-1zM89 497h1v1h-1zM90 497h1v1h-1zM91 497h1v1h-1zM92 497h1v1h-1zM93 497h1v1h-1zM94 496h1v1h-1zM95 496h1v1h-1zM96 496h1v1h-1zM97 496h1v1h-1zM98 496h1v1h-1zM99 496h1v1h-1zM100 496h1v1h-1zM101 496h1v1h-1zM102 496h1v1h-1zM103 496h1v1h-1zM104 496h1v1h-1zM105 496h1v1h-1zM106 496h1v1h-1zM107 496h1v1h-1zM108 496h1v1h-1zM109 496h1v1h-1zM110 496h1v1h-1zM111 496h1v1h-1zM112 496h1v1h-1zM113 496h1v1h-1zM114 495h1v1h-1zM115 495h1v1h-1zM116 495h1v1h-1zM117 495h1v1h-1zM118 495h1v1h-1zM119 495h1v1h-1zM120 495h1v1h-1zM121 495h1v1h-1zM122 495h1v1h-1zM123 495h1v1h-1zM124 495h1v1h-1zM125 495h1v1h-1zM126 495h1v1h-1zM127 495h1v1h-1zM128 495h1v1h-1zM129 495h1v1h-1zM130 495h1v1h-1zM131 495h1v1h-1zM132 495h1v1h-1zM133 495h1v1h-1zM134 494h1v1h-1zM135 494h1v1h-1zM136 494h1v1h-1zM137 494h1v1h-1zM138 494h1v1h-1zM139 493h1v1h-1zM140 493h1v1h-1zM141 493h1v1h-1zM142 493h1v1h-1zM143 492h1v1h-1zM144 492h1v1h-1zM145 492h1v1h-1zM146 492h1v1h-1zM147 492h1v1h-1zM148 492h1v1h-1zM149 492h1v1h-1zM150 491h1v1h-1zM151 491h1v1h-1zM152 491h1v1h-1zM153 491h1v1h-1zM154 491h1v1h-1zM155 491h1v1h-1zM156 491h1v1h-1zM157 491h1v1h-1zM158 491h1v1h-1zM159 490h1v1h-1zM160 490h1v1h-1zM161 490h1v1h-1zM162 490h1v1h-1zM163 490h1v1h-1zM164 490h1v1h-1zM165 490h1v1h-1zM166 490h1v1h-1zM167 489h1v1h-1zM168 489h1v1h-1zM169 489h1v1h-1zM170 489h1v1h-1zM171 489h1v1h-1zM172 489h1v1h-1zM173 489h1v1h-1zM174 488h1v1h-1zM175 488h1v1h-1zM176 488h1v1h-1zM177 488h1v1h-1zM178 488h1v1h-1zM179 488h1v1h-1zM180 488h1v1h-1zM181 488h1v1h-1zM182 487h1v1h-1zM183 487h1v1h-1zM184 487h1v1h-1zM185 487h1v1h-1zM186 487h1v1h-1zM187 487h1v1h-1zM188 487h1v1h-1zM189 487h1v1h-1zM190 486h1v1h-1zM191 486h1v1h-1zM192 486h1v1h-1zM193 486h1v1h-1zM194 486h1v1h-1zM195 485h1v1h-1zM196 485h1v1h-1zM197 485h1v1h-1zM198 485h1v1h-1zM199 485h1v1h-1zM200 484h1v1h-1zM201 484h1v1h-1zM202 484h1v1h-1zM203 484h1v1h-1zM204 484h1v1h-1zM205 484h1v1h-1zM206 483h1v1h-1zM207 483h1v1h-1zM208 483h1v1h-1zM209 483h1v1h-1zM210 483h1v1h-1zM211 482h1v1h-1zM212 482h1v1h-1zM213 482h1v1h-1zM214 482h1v1h-1zM215 482h1v1h-1zM216 481h1v1h-1zM217 481h1v1h-1zM218 481h1v1h-1zM219 481h1v1h-1zM220 481h1v1h-1zM221 481h1v1h-1zM222 480h1v1h-1zM223 480h1v1h-1zM224 480h1v1h-1zM225 480h1v1h-1zM226 480h1v1h-1zM227 479h1v1h-1zM228 479h1v1h-1zM229 479h1v1h-1zM230 479h1v1h-1zM231 479h1v1h-1zM232 479h1v1h-1zM233 478h1v1h-1zM234 478h1v1h-1zM235 478h1v1h-1zM236 478h1v1h-1zM237 478h1v1h-1zM238 477h1v1h-1zM239 477h1v1h-1zM240 477h1v1h-1zM241 477h1v1h-1zM242 477h1v1h-1zM243 477h1v1h-1zM244 476h1v1h-1zM245 476h1v1h-1zM246 476h1v1h-1zM247 476h1v1h-1zM248 476h1v1h-1zM249 476h1v1h-1zM250 476h1v1h-1zM251 475h1v1h-1zM252 475h1v1h-1zM253 475h1v1h-1zM254 475h1v1h-1zM255 475h1v1h-1zM256 475h1v1h-1zM257 474h1v1h-1zM258 474h1v1h-1zM259 474h1v1h-1zM260 474h1v1h-1zM261 474h1v1h-1zM262 474h1v1h-1zM263 473h1v1h-1zM264 473h1v1h-1zM265 473h1v1h-1zM266 473h1v1h-1zM267 473h1v1h-1zM268 473h1v1h-1zM269 472h1v1h-1zM270 472h1v1h-1zM271 472h1v1h-1zM272 472h1v1h-1zM273 472h1v1h-1zM274 472h1v1h-1zM275 472h1v1h-1zM276 471h1v1h-1zM277 471h1v1h-1zM278 471h1v1h-1zM279 470h1v1h-1zM280 470h1v1h-1zM281 470h1v1h-1zM282 469h1v1h-1zM283 469h1v1h-1zM284 469h1v1h-1zM285 468h1v1h-1zM286 468h1v1h-1zM287 468h1v1h-1zM288 467h1v1h-1zM289 467h1v1h-1zM290 467h1v1h-1zM291 466h1v1h-1zM292 465h1v1h-1zM293 465h1v1h-1zM294 464h1v1h-1zM295 464h1v1h-1zM296 463h1v1h-1zM297 463h1v1h-1zM298 462h1v1h-1zM299 462h1v1h-1zM300 461h1v1h-1zM301 461h1v1h-1zM302 460h1v1h-1zM303 460h1v1h-1zM304 459h1v1h-1zM305 459h1v1h-1zM306 458h1v1h-1zM307 458h1v1h-1zM308 457h1v1h-1zM309 457h1v1h-1zM310 456h1v1h-1zM311 456h1v1h-1zM312 455h1v1h-1zM313 455h1v1h-1zM314 454h1v1h-1zM315 454h1v1h-1zM316 453h1v1h-1zM317 453h1v1h-1zM318 452h1v1h-1zM319 452h1v1h-1zM320 451h1v1h-1zM321 450h1v1h-1zM322 450h1v1h-1zM323 449h1v1h-1zM324 449h1v1h-1zM325 448h1v1h-1zM326 448h1v1h-1zM327 447h1v1h-1zM328 447h1v1h-1zM329 446h1v1h-1zM330 446h1v1h-1zM331 445h1v1h-1zM332 445h1v1h-1zM333 444h1v1h-1zM334 444h1v1h-1zM335 443h1v1h-1zM336 442h1v1h-1zM337 442h1v1h-1zM338 441h1v1h-1zM339 441h1v1h-1zM340 440h1v1h-1zM341 440h1v1h-1zM342 439h1v1h-1zM343 439h1v1h-1zM344 438h1v1h-1zM345 438h1v1h-1zM346 437h1v1h-1zM347 437h1v1h-1zM348 436h1v1h-1zM349 436h1v1h-1zM350 435h1v1h-1zM351 434h1v1h-1zM352 434h1v1h-1zM353 433h1v1h-1zM354 433h1v1h-1zM355 432h1v1h-1zM356 432h1v1h-1zM357 431h1v1h-1zM358 431h1v1h-1zM359 430h1v1h-1zM360 430h1v1h-1zM361 429h1v1h-1zM362 429h1v1h-1zM363 428h1v1h-1zM364 427h1v1h-1zM365 427h1v1h-1zM366 426h1v1h-1zM367 426h1v1h-1zM368 425h1v1h-1zM369 425h1v1h-1zM370 424h1v1h-1zM371 424h1v1h-1zM372 423h1v1h-1zM373 423h1v1h-1zM374 422h1v1h-1zM375 422h1v1h-1zM376 421h1v1h-1zM377 420h1v1h-1zM378 420h1v1h-1zM379 419h1v1h-1zM380 419h1v1h-1zM381 418h1v1h-1zM382 417h1v1h-1zM383 417h1v1h-1zM384 416h1v1h-1zM385 416h1v1h-1zM386 415h1v1h-1zM387 414h1v1h-1zM388 414h1v1h-1zM389 413h1v1h-1zM390 413h1v1h-1zM391 412h1v1h-1zM392 411h1v1h-1zM393 411h1v1h-1zM394 410h1v1h-1zM395 410h1v1h-1zM396 409h1v1h-1zM397 408h1v1h-1zM398 408h1v1h-1zM399 407h1v1h-1zM400 407h1v1h-1zM401 406h1v1h-1zM402 406h1v1h-1zM403 405h1v1h-1zM404 405h1v1h-1zM405 404h1v1h-1zM406 404h1v1h-1zM407 403h1v1h-1zM408 403h1v1h-1zM409 402h1v1h-1zM410 402h1v1h-1zM411 402h1v1h-1zM412 401h1v1h-1zM413 401h1v1h-1zM414 400h1v1h-1zM415 400h1v1h-1zM416 399h1v1h-1zM417 399h1v1h-1zM418 398h1v1h-1zM419 398h1v1h-1zM420 398h1v1h-1zM421 397h1v1h-1zM422 397h1v1h-1zM423 396h1v1h-1zM424 396h1v1h-1zM425 396h1v1h-1zM426 395h1v1h-1zM427 395h1v1h-1zM428 394h1v1h-1zM429 394h1v1h-1zM430 394h1v1h-1zM431 393h1v1h-1zM432 392h1v1h-1zM433 392h1v1h-1zM434 391h1v1h-1zM435 391h1v1h-1zM436 390h1v1h-1zM437 390h1v1h-1zM438 389h1v1h-1zM439 389h1v1h-1zM440 388h1v1h-1zM441 387h1v1h-1zM442 387h1v1h-1zM443 386h1v1h-1zM444 386h1v1h-1zM445 385h1v1h-1zM446 385h1v1h-1zM447 384h1v1h-1zM448 384h1v1h-1zM449 383h1v1h-1zM450 383h1v1h-1zM451 382h1v1h-1zM452 382h1v1h-1zM453 381h1v1h-1zM454 381h1v1h-1zM455 380h1v1h-1zM456 380h1v1h-1zM457 379h1v1h-1zM458 379h1v1h-1zM459 378h1v1h-1zM460 378h1v1h-1zM461 377h1v1h-1zM462 377h1v1h-1zM463 376h1v1h-1zM464 376h1v1h-1zM465 375h1v1h-1zM466 375h1v1h-1zM467 374h1v1h-1zM468 374h1v1h-1zM469 373h1v1h-1zM470 373h1v1h-1zM471 372h1v1h-1zM472 372h1v1h-1zM473 371h1v1h-1zM474 371h1v1h-1zM475 370h1v1h-1zM476 370h1v1h-1zM477 369h1v1h-1zM478 368h1v1h-1zM479 367h1v1h-1zM480 366h1v1h-1zM481 366h1v1h-1zM482 365h1v1h-1zM483 364h1v1h-1zM484 363h1v1h-1zM485 362h1v1h-1zM486 362h1v1h-1zM487 361h1v1h-1zM488 360h1v1h-1zM489 359h1v1h-1zM490 359h1v1h-1zM491 358h1v1h-1zM492 357h1v1h-1zM493 356h1v1h-1zM494 355h1v1h-1zM495 355h1v1h-1zM496 354h1v1h-1zM497 353h1v1h-1zM498 352h1v1h-1zM499 352h1v1h-1zM500 351h1v1h-1zM501 350h1v1h-1zM502 349h1v1h-1zM503 349h1v1h-1zM504 348h1v1h-1zM505 347h1v1h-1zM506 347h1v1h-1zM507 346h1v1h-1zM508 345h1v1h-1zM509 345h1v1h-1zM510 344h1v1h-1zM511 343h1v1h-1zM512 343h1v1h-1zM513 342h1v1h-1zM514 341h1v1h-1zM515 340h1v1h-1zM516 340h1v1h-1zM517 339h1v1h-1zM518 338h1v1h-1zM519 338h1v1h-1zM520 337h1v1h-1zM521 336h1v1h-1zM522 336h1v1h-1zM523 335h1v1h-1zM524 334h1v1h-1zM525 334h1v1h-1zM526 333h1v1h-1zM527 332h1v1h-1zM528 332h1v1h-1zM529 331h1v1h-1zM530 331h1v1h-1zM531 330h1v1h-1zM532 329h1v1h-1zM533 329h1v1h-1zM534 328h1v1h-1zM535 328h1v1h-1zM536 327h1v1h-1zM537 326h1v1h-1zM538 326h1v1h-1zM539 325h1v1h-1zM540 325h1v1h-1zM541 324h1v1h-1zM542 323h1v1h-1zM543 323h1v1h-1zM544 322h1v1h-1zM545 322h1v1h-1zM546 321h1v1h-1zM547 320h1v1h-1zM548 320h1v1h-1zM549 319h1v1h-1zM550 319h1v1h-1zM551 318h1v1h-1zM552 318h1v1h-1zM553 317h1v1h-1zM554 317h1v1h-1zM555 316h1v1h-1zM556 315h1v1h-1zM557 315h1v1h-1zM558 314h1v1h-1zM559 314h1v1h-1zM560 313h1v1h-1zM561 313h1v1h-1zM562 312h1v1h-1zM563 312h1v1h-1zM564 311h1v1h-1zM565 311h1v1h-1zM566 310h1v1h-1zM567 310h1v1h-1zM568 309h1v1h-1zM569 309h1v1h-1zM570 309h1v1h-1zM571 308h1v1h-1zM572 308h1v1h-1zM573 308h1v1h-1zM574 307h1v1h-1zM575 307h1v1h-1zM576 307h1v1h-1zM577 306h1v1h-1zM578 306h1v1h-1zM579 305h1v1h-1zM580 305h1v1h-1zM581 305h1v1h-1zM582 304h1v1h-1zM583 304h1v1h-1zM584 304h1v1h-1zM585 303h1v1h-1zM586 303h1v1h-1zM587 303h1v1h-1zM588 302h1v1h-1zM589 302h1v1h-1zM590 302h1v1h-1zM591 301h1v1h-1zM592 301h1v1h-1zM593 300h1v1h-1zM594 300h1v1h-1zM595 299h1v1h-1zM596 299h1v1h-1zM597 298h1v1h-1zM598 298h1v1h-1zM599 297h1v1h-1zM600 297h1v1h-1zM601 297h1v1h-1zM602 296h1v1h-1zM603 296h1v1h-1zM604 295h1v1h-1zM605 295h1v1h-1zM606 294h1v1h-1zM607 294h1v1h-1zM608 293h1v1h-1zM609 293h1v1h-1zM610 293h1v1h-1zM611 292h1v1h-1zM612 292h1v1h-1zM613 291h1v1h-1zM614 291h1v1h-1zM615 290h1v1h-1zM616 290h1v1h-1zM617 289h1v1h-1zM618 289h1v1h-1zM619 288h1v1h-1zM620 288h1v1h-1zM621 287h1v1h-1zM622 287h1v1h-1zM623 286h1v1h-1zM624 285h1v1h-1zM625 285h1v1h-1zM626 284h1v1h-1zM627 284h1v1h-1zM628 283h1v1h-1zM629 283h1v1h-1zM630 282h1v1h-1zM631 281h1v1h-1zM632 281h1v1h-1zM633 280h1v1h-1zM634 280h1v1h-1zM635 279h1v1h-1zM636 279h1v1h-1zM637 278h1v1h-1zM638 277h1v1h-1zM639 277h1v1h-1zM640 276h1v1h-1zM641 276h1v1h-1zM642 276h1v1h-1zM643 275h1v1h-1zM644 275h1v1h-1zM645 274h1v1h-1zM646 274h1v1h-1zM647 273h1v1h-1zM648 273h1v1h-1zM649 273h1v1h-1zM650 272h1v1h-1zM651 272h1v1h-1zM652 271h1v1h-1zM653 271h1v1h-1zM654 270h1v1h-1zM655 270h1v1h-1zM656 270h1v1h-1zM657 269h1v1h-1zM658 269h1v1h-1zM659 268h1v1h-1zM660 268h1v1h-1zM661 268h1v1h-1zM662 267h1v1h-1zM663 267h1v1h-1zM664 266h1v1h-1zM665 266h1v1h-1zM666 266h1v1h-1zM667 265h1v1h-1zM668 265h1v1h-1zM669 264h1v1h-1zM670 264h1v1h-1zM671 264h1v1h-1zM672 263h1v1h-1zM673 263h1v1h-1zM674 262h1v1h-1zM675 262h1v1h-1zM676 261h1v1h-1zM677 260h1v1h-1zM678 260h1v1h-1zM679 259h1v1h-1zM680 258h1v1h-1zM681 258h1v1h-1zM682 257h1v1h-1zM683 256h1v1h-1zM684 256h1v1h-1zM685 255h1v1h-1zM686 255h1v1h-1zM687 254h1v1h-1zM688 254h1v1h-1zM689 253h1v1h-1zM690 252h1v1h-1zM691 252h1v1h-1zM692 251h1v1h-1zM693 251h1v1h-1zM694 250h1v1h-1zM695 250h1v1h-1zM696 249h1v1h-1zM697 248h1v1h-1zM698 248h1v1h-1zM699 247h1v1h-1zM700 247h1v1h-1zM701 246h1v1h-1zM702 246h1v1h-1zM703 245h1v1h-1zM704 245h1v1h-1zM705 244h1v1h-1zM706 243h1v1h-1zM707 243h1v1h-1zM708 242h1v1h-1zM709 242h1v1h-1zM710 241h1v1h-1zM711 241h1v1h-1zM712 240h1v1h-1zM713 240h1v1h-1zM714 239h1v1h-1zM715 239h1v1h-1zM716 238h1v1h-1zM717 238h1v1h-1zM718 237h1v1h-1zM719 236h1v1h-1zM720 236h1v1h-1zM721 235h1v1h-1zM722 235h1v1h-1zM723 234h1v1h-1zM724 234h1v1h-1zM725 233h1v1h-1zM726 233h1v1h-1zM727 232h1v1h-1zM728 232h1v1h-1zM729 231h1v1h-1zM730 231h1v1h-1zM731 230h1v1h-1zM732 230h1v1h-1zM733 229h1v1h-1zM734 229h1v1h-1zM735 228h1v1h-1zM736 228h1v1h-1zM737 227h1v1h-1zM738 227h1v1h-1zM739 227h1v1h-1zM740 226h1v1h-1zM741 226h1v1h-1zM742 225h1v1h-1zM743 225h1v1h-1zM744 224h1v1h-1zM745 224h1v1h-1zM746 223h1v1h-1zM747 223h1v1h-1zM748 223h1v1h-1zM749 222h1v1h-1zM750 222h1v1h-1zM751 221h1v1h-1zM752 221h1v1h-1zM753 220h1v1h-1zM754 220h1v1h-1zM755 220h1v1h-1zM756 219h1v1h-1zM757 219h1v1h-1zM758 219h1v1h-1zM759 219h1v1h-1zM760 219h1v1h-1zM761 218h1v1h-1zM762 218h1v1h-1zM763 218h1v1h-1zM764 218h1v1h-1zM765 218h1v1h-1zM766 217h1v1h-1zM767 217h1v1h-1zM768 217h1v1h-1zM769 217h1v1h-1zM770 217h1v1h-1zM771 216h1v1h-1zM772 216h1v1h-1zM773 216h1v1h-1zM774 216h1v1h-1zM775 216h1v1h-1zM776 216h1v1h-1zM777 216h1v1h-1zM778 216h1v1h-1zM779 216h1v1h-1zM780 216h1v1h-1zM781 215h1v1h-1zM782 215h1v1h-1zM783 215h1v1h-1zM784 215h1v1h-1zM785 215h1v1h-1zM786 215h1v1h-1zM787 215h1v1h-1zM788 215h1v1h-1zM789 215h1v1h-1zM790 215h1v1h-1zM791 215h1v1h-1zM792 215h1v1h-1zM793 215h1v1h-1zM794 215h1v1h-1zM795 215h1v1h-1zM796 215h1v1h-1zM797 215h1v1h-1zM798 215h1v1h-1zM799 215h1v1h-1zM800 215h1v1h-1zM801 215h1v1h-1zM802 215h1v1h-1zM803 215h1v1h-1zM804 215h1v1h-1zM805 215h1v1h-1zM806 215h1v1h-1zM807 215h1v1h-1zM808 215h1v1h-1zM809 215h1v1h-1zM810 215h1v1h-1zM811 215h1v1h-1zM812 215h1v1h-1zM813 215h1v1h-1zM814 215h1v1h-1zM815 215h1v1h-1zM816 215h1v1h-1zM817 215h1v1h-1zM818 215h1v1h-1zM819 215h1v1h-1zM820 216h1v1h-1zM821 216h1v1h-1zM822 216h1v1h-1zM823 216h1v1h-1zM824 217h1v1h-1zM825 217h1v1h-1zM826 217h1v1h-1zM827 218h1v1h-1zM828 218h1v1h-1zM829 218h1v1h-1zM830 218h1v1h-1zM831 219h1v1h-1zM832 219h1v1h-1zM833 219h1v1h-1zM834 220h1v1h-1zM835 220h1v1h-1zM836 220h1v1h-1zM837 220h1v1h-1zM838 221h1v1h-1zM839 221h1v1h-1zM840 221h1v1h-1zM841 222h1v1h-1zM842 222h1v1h-1zM843 222h1v1h-1zM844 222h1v1h-1zM845 222h1v1h-1zM846 223h1v1h-1zM847 223h1v1h-1zM848 223h1v1h-1zM849 223h1v1h-1zM850 223h1v1h-1zM851 223h1v1h-1zM852 223h1v1h-1zM853 224h1v1h-1zM854 224h1v1h-1zM855 224h1v1h-1zM856 224h1v1h-1zM857 224h1v1h-1zM858 224h1v1h-1zM859 224h1v1h-1zM860 225h1v1h-1zM861 225h1v1h-1zM862 225h1v1h-1zM863 225h1v1h-1zM864 225h1v1h-1zM865 225h1v1h-1zM866 225h1v1h-1zM867 226h1v1h-1zM868 226h1v1h-1zM869 226h1v1h-1zM870 226h1v1h-1zM871 226h1v1h-1zM872 226h1v1h-1zM873 226h1v1h-1zM874 226h1v1h-1zM875 226h1v1h-1zM876 227h1v1h-1zM877 227h1v1h-1zM878 227h1v1h-1zM879 227h1v1h-1zM880 227h1v1h-1zM881 227h1v1h-1zM882 227h1v1h-1zM883 228h1v1h-1zM884 228h1v1h-1zM885 228h1v1h-1zM886 228h1v1h-1zM887 229h1v1h-1zM888 229h1v1h-1zM889 229h1v1h-1zM890 229h1v1h-1zM891 229h1v1h-1zM892 230h1v1h-1zM893 230h1v1h-1zM894 230h1v1h-1zM895 230h1v1h-1zM896 231h1v1h-1zM897 231h1v1h-1zM898 231h1v1h-1zM899 231h1v1h-1zM900 232h1v1h-1zM901 232h1v1h-1zM902 232h1v1h-1zM903 232h1v1h-1zM904 232h1v1h-1zM905 233h1v1h-1zM906 233h1v1h-1zM907 233h1v1h-1zM908 233h1v1h-1zM909 234h1v1h-1zM910 234h1v1h-1zM911 234h1v1h-1zM912 234h1v1h-1zM913 234h1v1h-1zM914 235h1v1h-1zM915 235h1v1h-1zM916 235h1v1h-1zM917 235h1v1h-1zM918 236h1v1h-1zM919 236h1v1h-1zM920 237h1v1h-1zM921 237h1v1h-1zM922 238h1v1h-1zM923 239h1v1h-1zM924 239h1v1h-1zM925 240h1v1h-1zM926 240h1v1h-1zM927 241h1v1h-1zM928 241h1v1h-1zM929 242h1v1h-1zM930 243h1v1h-1zM931 243h1v1h-1zM932 244h1v1h-1zM933 244h1v1h-1zM934 245h1v1h-1zM935 245h1v1h-1zM936 246h1v1h-1zM937 246h1v1h-1zM938 247h1v1h-1zM939 248h1v1h-1zM940 248h1v1h-1zM941 249h1v1h-1zM942 249h1v1h-1zM943 250h1v1h-1zM944 250h1v1h-1zM945 251h1v1h-1zM946 252h1v1h-1zM947 252h1v1h-1zM948 253h1v1h-1zM949 253h1v1h-1zM950 254h1v1h-1zM951 255h1v1h-1zM952 255h1v1h-1zM953 256h1v1h-1zM954 256h1v1h-1zM955 257h1v1h-1zM956 258h1v1h-1zM957 258h1v1h-1zM958 259h1v1h-1zM959 259h1v1h-1zM960 260h1v1h-1zM961 261h1v1h-1zM962 261h1v1h-1zM963 262h1v1h-1zM964 262h1v1h-1zM965 263h1v1h-1zM966 264h1v1h-1zM967 264h1v1h-1zM968 265h1v1h-1zM969 265h1v1h-1zM970 266h1v1h-1zM971 266h1v1h-1zM972 266h1v1h-1zM973 267h1v1h-1zM974 267h1v1h-1zM975 268h1v1h-1zM976 268h1v1h-1zM977 269h1v1h-1zM978 269h1v1h-1zM979 270h1v1h-1zM980 270h1v1h-1zM981 270h1v1h-1zM982 271h1v1h-1zM983 271h1v1h-1zM984 272h1v1h-1zM985 272h1v1h-1zM986 273h1v1h-1zM987 273h1v1h-1zM988 274h1v1h-1zM989 274h1v1h-1zM990 274h1v1h-1zM991 275h1v1h-1zM992 275h1v1h-1zM993 276h1v1h-1zM994 276h1v1h-1zM995 277h1v1h-1zM996 277h1v1h-1zM997 277h1v1h-1zM998 278h1v1h-1zM999 278h1v1h-1zM1000 279h1v1h-1zM1001 279h1v1h-1zM1002 279h1v1h-1zM1003 280h1v1h-1zM1004 280h1v1h-1zM1005 281h1v1h-1zM1006 281h1v1h-1zM1007 281h1v1h-1zM1008 282h1v1h-1zM1009 282h1v1h-1zM1010 283h1v1h-1zM1011 283h1v1h-1zM1012 283h1v1h-1zM1013 284h1v1h-1zM1014 284h1v1h-1zM1015 285h1v1h-1zM1016 285h1v1h-1zM1017 285h1v1h-1zM1018 286h1v1h-1zM1019 286h1v1h-1zM1020 286h1v1h-1zM1021 287h1v1h-1zM1022 287h1v1h-1zM1023 287h1v1h-1zM1024 288h1v1h-1zM1025 288h1v1h-1zM1026 289h1v1h-1zM1027 289h1v1h-1zM1028 289h1v1h-1zM1029 290h1v1h-1zM1030 290h1v1h-1zM1031 290h1v1h-1zM1032 291h1v1h-1zM1033 291h1v1h-1zM1034 291h1v1h-1zM1035 292h1v1h-1zM1036 292h1v1h-1zM1037 293h1v1h-1zM1038 293h1v1h-1zM1039 293h1v1h-1zM1040 294h1v1h-1zM1041 294h1v1h-1zM1042 294h1v1h-1zM1043 295h1v1h-1zM1044 295h1v1h-1zM1045 295h1v1h-1zM1046 296h1v1h-1zM1047 296h1v1h-1zM1048 296h1v1h-1zM1049 297h1v1h-1zM1050 297h1v1h-1zM1051 297h1v1h-1zM1052 298h1v1h-1zM1053 298h1v1h-1zM1054 298h1v1h-1zM1055 299h1v1h-1zM1056 299h1v1h-1zM1057 299h1v1h-1zM1058 300h1v1h-1zM1059 300h1v1h-1zM1060 301h1v1h-1zM1061 301h1v1h-1zM1062 302h1v1h-1zM1063 302h1v1h-1zM1064 303h1v1h-1zM1065 303h1v1h-1zM1066 304h1v1h-1zM1067 304h1v1h-1zM1068 305h1v1h-1zM1069 306h1v1h-1zM1070 306h1v1h-1zM1071 307h1v1h-1zM1072 307h1v1h-1zM1073 308h1v1h-1zM1074 308h1v1h-1zM1075 309h1v1h-1zM1076 310h1v1h-1zM1077 310h1v1h-1zM1078 311h1v1h-1zM1079 311h1v1h-1zM1080 312h1v1h-1zM1081 312h1v1h-1zM1082 313h1v1h-1zM1083 314h1v1h-1zM1084 314h1v1h-1zM1085 315h1v1h-1zM1086 315h1v1h-1zM1087 316h1v1h-1zM1088 316h1v1h-1zM1089 317h1v1h-1zM1090 318h1v1h-1zM1091 318h1v1h-1zM1092 319h1v1h-1zM1093 320h1v1h-1zM1094 320h1v1h-1zM1095 321h1v1h-1zM1096 322h1v1h-1zM1097 322h1v1h-1zM1098 323h1v1h-1zM1099 324h1v1h-1zM1100 324h1v1h-1zM1101 325h1v1h-1zM1102 326h1v1h-1zM1103 326h1v1h-1zM1104 327h1v1h-1zM1105 328h1v1h-1zM1106 328h1v1h-1zM1107 329h1v1h-1zM1108 330h1v1h-1zM1109 330h1v1h-1zM1110 331h1v1h-1zM1111 332h1v1h-1zM1112 332h1v1h-1zM1113 333h1v1h-1zM1114 334h1v1h-1zM1115 334h1v1h-1zM1116 335h1v1h-1zM1117 336h1v1h-1zM1118 336h1v1h-1zM1119 337h1v1h-1zM1120 338h1v1h-1zM1121 338h1v1h-1zM1122 339h1v1h-1zM1123 340h1v1h-1zM1124 341h1v1h-1zM1125 341h1v1h-1zM1126 342h1v1h-1zM1127 343h1v1h-1zM1128 344h1v1h-1zM1129 344h1v1h-1zM1130 345h1v1h-1zM1131 346h1v1h-1zM1132 347h1v1h-1zM1133 347h1v1h-1zM1134 348h1v1h-1zM1135 349h1v1h-1zM1136 350h1v1h-1zM1137 350h1v1h-1zM1138 351h1v1h-1zM1139 352h1v1h-1zM1140 353h1v1h-1zM1141 353h1v1h-1zM1142 354h1v1h-1zM1143 355h1v1h-1zM1144 356h1v1h-1zM1145 357h1v1h-1zM1146 357h1v1h-1zM1147 358h1v1h-1zM1148 359h1v1h-1zM1149 360h1v1h-1zM1150 361h1v1h-1zM1151 361h1v1h-1zM1152 362h1v1h-1zM1153 363h1v1h-1zM1154 364h1v1h-1zM1155 365h1v1h-1zM1156 365h1v1h-1zM1157 366h1v1h-1zM1158 367h1v1h-1zM1159 368h1v1h-1zM1160 369h1v1h-1zM1161 369h1v1h-1zM1162 370h1v1h-1zM1163 371h1v1h-1zM1164 372h1v1h-1zM1165 373h1v1h-1zM1166 373h1v1h-1zM1167 374h1v1h-1zM1168 375h1v1h-1zM1169 376h1v1h-1zM1170 376h1v1h-1zM1171 377h1v1h-1zM1172 378h1v1h-1zM1173 379h1v1h-1zM1174 379h1v1h-1zM1175 380h1v1h-1zM1176 381h1v1h-1zM1177 381h1v1h-1zM1178 382h1v1h-1zM1179 383h1v1h-1zM1180 384h1v1h-1zM1181 384h1v1h-1zM1182 385h1v1h-1zM1183 386h1v1h-1zM1184 387h1v1h-1zM1185 387h1v1h-1zM1186 388h1v1h-1zM1187 389h1v1h-1zM1188 390h1v1h-1zM1189 390h1v1h-1zM1190 391h1v1h-1zM1191 392h1v1h-1zM1192 392h1v1h-1zM1193 393h1v1h-1zM1194 394h1v1h-1zM1195 395h1v1h-1zM1196 395h1v1h-1zM1197 396h1v1h-1zM1198 397h1v1h-1zM1199 398h1v1h-1zM1200 398h1v1h-1zM1201 399h1v1h-1zM1202 400h1v1h-1zM1203 401h1v1h-1zM1204 401h1v1h-1zM1205 402h1v1h-1zM1206 403h1v1h-1zM1207 403h1v1h-1zM1208 404h1v1h-1zM1209 404h1v1h-1zM1210 405h1v1h-1zM1211 405h1v1h-1zM1212 406h1v1h-1zM1213 407h1v1h-1zM1214 407h1v1h-1zM1215 408h1v1h-1zM1216 408h1v1h-1zM1217 409h1v1h-1zM1218 409h1v1h-1zM1219 410h1v1h-1zM1220 411h1v1h-1zM1221 411h1v1h-1zM1222 412h1v1h-1zM1223 412h1v1h-1zM1224 413h1v1h-1zM1225 414h1v1h-1zM1226 414h1v1h-1zM1227 414h1v1h-1zM1228 415h1v1h-1zM1229 415h1v1h-1zM1230 416h1v1h-1zM1231 416h1v1h-1zM1232 416h1v1h-1zM1233 417h1v1h-1zM1234 417h1v1h-1zM1235 418h1v1h-1zM1236 418h1v1h-1zM1237 418h1v1h-1zM1238 419h1v1h-1zM1239 419h1v1h-1zM1240 420h1v1h-1zM1241 420h1v1h-1zM1242 420h1v1h-1zM1243 421h1v1h-1zM1244 421h1v1h-1zM1245 421h1v1h-1zM1246 422h1v1h-1zM1247 422h1v1h-1zM1248 423h1v1h-1zM1249 423h1v1h-1zM1250 423h1v1h-1zM1251 424h1v1h-1zM1252 424h1v1h-1zM1253 424h1v1h-1zM1254 425h1v1h-1zM1255 425h1v1h-1zM1256 426h1v1h-1zM1257 426h1v1h-1zM1258 426h1v1h-1zM1259 427h1v1h-1zM1260 427h1v1h-1zM1261 427h1v1h-1zM1262 428h1v1h-1zM1263 428h1v1h-1zM1264 428h1v1h-1zM1265 429h1v1h-1zM1266 429h1v1h-1zM1267 429h1v1h-1zM1268 430h1v1h-1zM1269 430h1v1h-1zM1270 430h1v1h-1zM1271 431h1v1h-1zM1272 431h1v1h-1zM1273 431h1v1h-1zM1274 432h1v1h-1zM1275 432h1v1h-1zM1276 432h1v1h-1zM1277 433h1v1h-1zM1278 433h1v1h-1zM1279 433h1v1h-1zM1280 434h1v1h-1zM1281 434h1v1h-1zM1282 434h1v1h-1zM1283 435h1v1h-1zM1284 435h1v1h-1zM1285 435h1v1h-1zM1286 436h1v1h-1zM1287 436h1v1h-1zM1288 436h1v1h-1zM1289 437h1v1h-1zM1290 437h1v1h-1zM1291 437h1v1h-1zM1292 438h1v1h-1zM1293 438h1v1h-1zM1294 439h1v1h-1zM1295 439h1v1h-1zM1296 439h1v1h-1zM1297 440h1v1h-1zM1298 440h1v1h-1zM1299 441h1v1h-1zM1300 441h1v1h-1zM1301 442h1v1h-1zM1302 442h1v1h-1zM1303 443h1v1h-1zM1304 443h1v1h-1zM1305 444h1v1h-1zM1306 444h1v1h-1zM1307 444h1v1h-1zM1308 445h1v1h-1zM1309 445h1v1h-1zM1310 446h1v1h-1zM1311 446h1v1h-1zM1312 447h1v1h-1zM1313 447h1v1h-1zM1314 448h1v1h-1zM1315 448h1v1h-1zM1316 448h1v1h-1zM1317 449h1v1h-1zM1318 449h1v1h-1zM1319 450h1v1h-1zM1320 450h1v1h-1zM1321 451h1v1h-1zM1322 451h1v1h-1zM1323 451h1v1h-1zM1324 452h1v1h-1zM1325 452h1v1h-1zM1326 452h1v1h-1zM1327 453h1v1h-1zM1328 453h1v1h-1zM1329 453h1v1h-1zM1330 453h1v1h-1zM1331 454h1v1h-1zM1332 454h1v1h-1zM1333 454h1v1h-1zM1334 454h1v1h-1zM1335 455h1v1h-1zM1336 455h1v1h-1zM1337 455h1v1h-1zM1338 456h1v1h-1zM1339 456h1v1h-1zM1340 456h1v1h-1zM1341 456h1v1h-1zM1342 457h1v1h-1zM1343 457h1v1h-1zM1344 457h1v1h-1zM1345 458h1v1h-1zM1346 458h1v1h-1zM1347 458h1v1h-1zM1348 459h1v1h-1zM1349 459h1v1h-1zM1350 459h1v1h-1zM1351 460h1v1h-1zM1352 460h1v1h-1zM1353 460h1v1h-1zM1354 461h1v1h-1zM1355 461h1v1h-1zM1356 461h1v1h-1zM1357 462h1v1h-1zM1358 462h1v1h-1zM1359 462h1v1h-1zM1360 463h1v1h-1zM1361 463h1v1h-1zM1362 463h1v1h-1zM1363 464h1v1h-1zM1364 464h1v1h-1zM1365 464h1v1h-1zM1366 464h1v1h-1zM1367 465h1v1h-1zM1368 465h1v1h-1zM1369 465h1v1h-1zM1370 466h1v1h-1zM1371 466h1v1h-1zM1372 466h1v1h-1zM1373 466h1v1h-1zM1374 467h1v1h-1zM1375 467h1v1h-1zM1376 467h1v1h-1zM1377 467h1v1h-1zM1378 467h1v1h-1zM1379 467h1v1h-1zM1380 467h1v1h-1zM1381 467h1v1h-1zM1382 467h1v1h-1zM1383 467h1v1h-1zM1384 467h1v1h-1zM1385 467h1v1h-1zM1386 467h1v1h-1zM1387 467h1v1h-1zM1388 467h1v1h-1zM1389 467h1v1h-1zM1390 467h1v1h-1zM1391 467h1v1h-1zM1392 467h1v1h-1zM1393 467h1v1h-1zM1394 467h1v1h-1zM1395 467h1v1h-1zM1396 467h1v1h-1zM1397 467h1v1h-1zM1398 467h1v1h-1zM1399 467h1v1h-1zM1400 467h1v1h-1zM1401 467h1v1h-1zM1402 467h1v1h-1zM1403 467h1v1h-1zM1404 467h1v1h-1zM1405 467h1v1h-1zM1406 467h1v1h-1zM1407 467h1v1h-1zM1408 467h1v1h-1zM1409 467h1v1h-1zM1410 467h1v1h-1zM1411 467h1v1h-1zM1412 467h1v1h-1zM1413 467h1v1h-1zM1414 467h1v1h-1zM1415 467h1v1h-1zM1416 467h1v1h-1zM1417 467h1v1h-1zM1418 467h1v1h-1zM1419 467h1v1h-1zM1420 467h1v1h-1zM1421 467h1v1h-1zM1422 467h1v1h-1zM1423 467h1v1h-1zM1424 467h1v1h-1zM1425 467h1v1h-1zM1426 466h1v1h-1zM1427 466h1v1h-1zM1428 466h1v1h-1zM1429 466h1v1h-1zM1430 466h1v1h-1zM1431 466h1v1h-1zM1432 466h1v1h-1zM1433 466h1v1h-1zM1434 466h1v1h-1zM1435 466h1v1h-1zM1436 466h1v1h-1zM1437 466h1v1h-1zM1438 466h1v1h-1zM1439 466h1v1h-1zM1440 466h1v1h-1zM1441 466h1v1h-1zM1442 466h1v1h-1zM1443 466h1v1h-1zM1444 466h1v1h-1zM1445 466h1v1h-1zM1446 466h1v1h-1zM1447 466h1v1h-1zM1448 466h1v1h-1zM1449 466h1v1h-1zM1450 466h1v1h-1zM1451 466h1v1h-1zM1452 465h1v1h-1zM1453 465h1v1h-1zM1454 465h1v1h-1zM1455 465h1v1h-1zM1456 465h1v1h-1zM1457 465h1v1h-1zM1458 465h1v1h-1zM1459 465h1v1h-1zM1460 465h1v1h-1zM1461 465h1v1h-1zM1462 465h1v1h-1zM1463 465h1v1h-1zM1464 465h1v1h-1zM1465 465h1v1h-1zM1466 465h1v1h-1zM1467 465h1v1h-1zM1468 465h1v1h-1zM1469 465h1v1h-1zM1470 465h1v1h-1zM1471 465h1v1h-1zM1472 465h1v1h-1zM1473 465h1v1h-1zM1474 465h1v1h-1zM1475 465h1v1h-1zM1476 465h1v1h-1zM1477 465h1v1h-1zM1478 465h1v1h-1zM1479 465h1v1h-1zM1480 465h1v1h-1zM1481 465h1v1h-1zM1482 465h1v1h-1zM1483 465h1v1h-1zM1484 465h1v1h-1zM1485 465h1v1h-1zM1486 465h1v1h-1zM1487 465h1v1h-1zM1488 465h1v1h-1zM1489 465h1v1h-1zM1490 465h1v1h-1zM1491 465h1v1h-1zM1492 465h1v1h-1zM1493 465h1v1h-1zM1494 465h1v1h-1zM1495 465h1v1h-1zM1496 465h1v1h-1zM1497 465h1v1h-1zM1498 465h1v1h-1zM1499 465h1v1h-1zM1500 465h1v1h-1zM1501 465h1v1h-1zM1502 465h1v1h-1zM1503 465h1v1h-1zM1504 465h1v1h-1zM1505 465h1v1h-1zM1506 464h1v1h-1zM1507 464h1v1h-1zM1508 464h1v1h-1zM1509 464h1v1h-1zM1510 464h1v1h-1zM1511 463h1v1h-1zM1512 463h1v1h-1zM1513 463h1v1h-1zM1514 463h1v1h-1zM1515 463h1v1h-1zM1516 462h1v1h-1zM1517 462h1v1h-1zM1518 462h1v1h-1zM1519 462h1v1h-1zM1520 462h1v1h-1zM1521 461h1v1h-1zM1522 461h1v1h-1zM1523 461h1v1h-1zM1524 461h1v1h-1zM1525 461h1v1h-1zM1526 460h1v1h-1zM1527 460h1v1h-1zM1528 460h1v1h-1zM1529 460h1v1h-1zM1530 460h1v1h-1zM1531 459h1v1h-1zM1532 459h1v1h-1zM1533 459h1v1h-1zM1534 459h1v1h-1zM1535 459h1v1h-1zM1536 459h1v1h-1zM1537 459h1v1h-1zM1538 458h1v1h-1zM1539 458h1v1h-1zM1540 458h1v1h-1zM1541 458h1v1h-1zM1542 458h1v1h-1zM1543 458h1v1h-1zM1544 458h1v1h-1zM1545 457h1v1h-1zM1546 457h1v1h-1zM1547 457h1v1h-1zM1548 457h1v1h-1zM1549 457h1v1h-1zM1550 457h1v1h-1zM1551 457h1v1h-1zM1552 456h1v1h-1zM1553 456h1v1h-1zM1554 456h1v1h-1zM1555 456h1v1h-1zM1556 456h1v1h-1zM1557 456h1v1h-1zM1558 456h1v1h-1zM1559 455h1v1h-1zM1560 455h1v1h-1zM1561 455h1v1h-1zM1562 455h1v1h-1zM1563 455h1v1h-1zM1564 455h1v1h-1zM1565 455h1v1h-1zM1566 454h1v1h-1zM1567 454h1v1h-1zM1568 454h1v1h-1zM1569 454h1v1h-1zM1570 454h1v1h-1zM1571 454h1v1h-1zM1572 454h1v1h-1zM1573 454h1v1h-1zM1574 454h1v1h-1zM1575 454h1v1h-1zM1576 454h1v1h-1zM1577 454h1v1h-1zM1578 454h1v1h-1zM1579 454h1v1h-1zM1580 454h1v1h-1zM1581 454h1v1h-1zM1582 454h1v1h-1zM1583 454h1v1h-1zM1584 454h1v1h-1zM1585 454h1v1h-1zM1586 454h1v1h-1zM1587 454h1v1h-1zM1588 454h1v1h-1zM1589 454h1v1h-1zM1590 454h1v1h-1zM1591 454h1v1h-1zM1592 454h1v1h-1zM1593 454h1v1h-1zM1594 454h1v1h-1zM1595 454h1v1h-1zM1596 454h1v1h-1zM1597 454h1v1h-1zM1598 454h1v1h-1zM1599 454h1v1h-1zM1600 454h1v1h-1zM1601 454h1v1h-1zM1602 454h1v1h-1zM1603 454h1v1h-1zM1604 454h1v1h-1zM1605 454h1v1h-1zM1606 454h1v1h-1zM1607 454h1v1h-1zM1608 454h1v1h-1zM1609 454h1v1h-1zM1610 454h1v1h-1zM1611 454h1v1h-1zM1612 454h1v1h-1zM1613 454h1v1h-1zM1614 454h1v1h-1zM1615 454h1v1h-1zM1616 454h1v1h-1zM1617 454h1v1h-1zM1618 454h1v1h-1zM1619 454h1v1h-1zM1620 454h1v1h-1zM1621 454h1v1h-1zM1622 454h1v1h-1zM1623 454h1v1h-1zM1624 454h1v1h-1zM1625 455h1v1h-1zM1626 455h1v1h-1zM1627 455h1v1h-1zM1628 455h1v1h-1zM1629 455h1v1h-1zM1630 455h1v1h-1zM1631 455h1v1h-1zM1632 455h1v1h-1zM1633 455h1v1h-1zM1634 455h1v1h-1zM1635 455h1v1h-1zM1636 455h1v1h-1zM1637 455h1v1h-1zM1638 455h1v1h-1zM1639 455h1v1h-1zM1640 455h1v1h-1zM1641 455h1v1h-1zM1642 455h1v1h-1zM1643 454h1v1h-1zM1644 454h1v1h-1zM1645 454h1v1h-1zM1646 454h1v1h-1zM1647 454h1v1h-1zM1648 454h1v1h-1zM1649 454h1v1h-1zM1650 454h1v1h-1zM1651 454h1v1h-1zM1652 454h1v1h-1zM1653 454h1v1h-1zM1654 454h1v1h-1zM1655 454h1v1h-1zM1656 454h1v1h-1zM1657 454h1v1h-1zM1658 454h1v1h-1zM1659 453h1v1h-1zM1660 453h1v1h-1zM1661 453h1v1h-1zM1662 453h1v1h-1zM1663 453h1v1h-1zM1664 453h1v1h-1zM1665 453h1v1h-1zM1666 453h1v1h-1z" fill="#ff00ff"/><path d="M2 472h1v1h-1zM3 472h1v1h-1zM4 472h1v1h-1zM5 472h1v1h-1zM6 472h1v1h-1zM7 472h1v1h-1zM8 472h1v1h-1zM9 471h1v1h-1zM10 471h1v1h-1zM11 471h1v1h-1zM12 471h1v1h-1zM13 471h1v1h-1zM14 471h1v1h-1zM15 471h1v1h-1zM16 471h1v1h-1zM17 471h1v1h-1zM18 471h1v1h-1zM19 471h1v1h-1zM20 471h1v1h-1zM21 470h1v1h-1zM22 470h1v1h-1zM23 470h1v1h-1zM24 470h1v1h-1zM25 470h1v1h-1zM26 470h1v1h-1zM27 470h1v1h-1zM28 470h1v1h-1zM29 469h1v1h-1zM30 469h1v1h-1zM31 469h1v1h-1zM32 469h1v1h-1zM33 469h1v1h-1zM34 469h1v1h-1zM35 469h1v1h-1zM36 469h1v1h-1zM37 469h1v1h-1zM38 469h1v1h-1zM39 469h1v1h-1zM40 469h1v1h-1zM41 469h1v1h-1zM42 469h1v1h-1zM43 469h1v1h-1zM44 469h1v1h-1zM45 470h1v1h-1zM46 470h1v1h-1zM47 470h1v1h-1zM48 470h1v1h-1zM49 470h1v1h-1zM50 470h1v1h-1zM51 470h1v1h-1zM52 471h1v1h-1zM53 471h1v1h-1zM54 471h1v1h-1zM55 471h1v1h-1zM56 471h1v1h-1zM57 472h1v1h-1zM58 472h1v1h-1zM59 472h1v1h-1zM60 472h1v1h-1zM61 473h1v1h-1zM62 473h1v1h-1zM63 473h1v1h-1zM64 474h1v1h-1zM65 474h1v1h-1zM66 474h1v1h-1zM67 474h1v1h-1zM68 475h1v1h-1zM69 475h1v1h-1zM70 475h1v1h-1zM71 476h1v1h-1zM72 476h1v1h-1zM73 476h1v1h-1zM74 476h1v1h-1zM75 477h1v1h-1zM76 477h1v1h-1zM77 477h1v1h-1zM78 478h1v1h-1zM79 478h1v1h-1zM80 478h1v1h-1zM81 479h1v1h-1zM82 479h1v1h-1zM83 479h1v1h-1zM84 480h1v1h-1zM85 480h1v1h-1zM86 481h1v1h-1zM87 481h1v1h-1zM88 481h1v1h-1zM89 482h1v1h-1zM90 482h1v1h-1zM91 482h1v1h-1zM92 482h1v1h-1zM93 483h1v1h-1zM94 483h1v1h-1zM95 483h1v1h-1zM96 484h1v1h-1zM97 484h1v1h-1zM98 484h1v1h-1zM99 484h1v1h-1zM100 485h1v1h-1zM101 485h1v1h-1zM102 485h1v1h-1zM103 485h1v1h-1zM104 486h1v1h-1zM105 486h1v1h-1zM106 486h1v1h-1zM107 486h1v1h-1zM108 486h1v1h-1zM109 486h1v1h-1zM110 487h1v1h-1zM111 487h1v1h-1zM112 487h1v1h-1zM113 487h1v1h-1zM114 487h1v1h-1zM115 487h1v1h-1zM116 487h1v1h-1zM117 487h1v1h-1zM118 488h1v1h-1zM119 488h1v1h-1zM120 488h1v1h-1zM121 488h1v1h-1zM122 488h1v1h-1zM123 488h1v1h-1zM124 488h1v1h-1zM125 488h1v1h-1zM126 489h1v1h-1zM127 489h1v1h-1zM128 489h1v1h-1zM129 489h1v1h-1zM130 489h1v1h-1zM131 489h1v1h-1zM132 489h1v1h-1zM133 489h1v1h-1zM134 490h1v1h-1zM135 490h1v1h-1zM136 490h1v1h-1zM137 490h1v1h-1zM138 490h1v1h-1zM139 490h1v1h-1zM140 490h1v1h-1zM141 490h1v1h-1zM142 490h1v1h-1zM143 490h1v1h-1zM144 490h1v1h-1zM145 490h1v1h-1zM146 490h1v1h-1zM147 490h1v1h-1zM148 490h1v1h-1zM149 490h1v1h-1zM150 490h1v1h-1zM151 490h1v1h-1zM152 490h1v1h-1zM153 490h1v1h-1zM154 490h1v1h-1zM155 490h1v1h-1zM156 490h1v1h-1zM157 490h1v1h-1zM158 490h1v1h-1zM159 490h1v1h-1zM160 490h1v1h-1zM161 490h1v1h-1zM162 490h1v1h-1zM163 490h1v1h-1zM164 490h1v1h-1zM165 490h1v1h-1zM166 490h1v1h-1zM167 490h1v1h-1zM168 490h1v1h-1zM169 490h1v1h-1zM170 490h1v1h-1zM171 490h1v1h-1zM172 490h1v1h-1zM173 490h1v1h-1zM174 489h1v1h-1zM175 489h1v1h-1zM176 489h1v1h-1zM177 489h1v1h-1zM178 489h1v1h-1zM179 489h1v1h-1zM180 489h1v1h-1zM181 489h1v1h-1zM182 489h1v1h-1zM183 489h1v1h-1zM184 489h1v1h-1zM185 489h1v1h-1zM186 489h1v1h-1zM187 489h1v1h-1zM188 489h1v1h-1zM189 489h1v1h-1zM190 489h1v1h-1zM191 488h1v1h-1zM192 488h1v1h-1zM193 488h1v1h-1zM194 488h1v1h-1zM195 488h1v1h-1zM196 487h1v1h-1zM197 487h1v1h-1zM198 487h1v1h-1zM199 487h1v1h-1zM200 487h1v1h-1zM201 486h1v1h-1zM202 486h1v1h-1zM203 486h1v1h-1zM204 486h1v1h-1zM205 485h1v1h-1zM206 485h1v1h-1zM207 484h1v1h-1zM208 484h1v1h-1zM209 483h1v1h-1zM210 483h1v1h-1zM211 482h1v1h-1zM212 482h1v1h-1zM213 481h1v1h-1zM214 481h1v1h-1zM215 480h1v1h-1zM216 480h1v1h-1zM217 479h1v1h-1zM218 479h1v1h-1zM219 478h1v1h-1zM220 478h1v1h-1zM221 477h1v1h-1zM222 477h1v1h-1zM223 476h1v1h-1zM224 476h1v1h-1zM225 475h1v1h-1zM226 475h1v1h-1zM227 474h1v1h-1zM228 474h1v1h-1zM229 473h1v1h-1zM230 473h1v1h-1zM231 473h1v1h-1zM232 472h1v1h-1zM233 472h1v1h-1zM234 471h1v1h-1zM235 471h1v1h-1zM236 471h1v1h-1zM237 470h1v1h-1zM238 470h1v1h-1zM239 469h1v1h-1zM240 469h1v1h-1zM241 469h1v1h-1zM242 468h1v1h-1zM243 468h1v1h-1zM244 467h1v1h-1zM245 467h1v1h-1zM246 467h1v1h-1zM247 466h1v1h-1zM248 466h1v1h-1zM249 465h1v1h-1zM250 465h1v1h-1zM251 464h1v1h-1zM252 464h1v1h-1zM253 463h1v1h-1zM254 463h1v1h-1zM255 462h1v1h-1zM256 461h1v1h-1zM257 461h1v1h-1zM258 460h1v1h-1zM259 460h1v1h-1zM260 459h1v1h-1zM261 458h1v1h-1zM262 458h1v1h-1zM263 457h1v1h-1zM264 457h1v1h-1zM265 456h1v1h-1zM266 455h1v1h-1zM267 455h1v1h-1zM268 454h1v1h-1zM269 454h1v1h-1zM270 453h1v1h-1zM271 452h1v1h-1zM272 452h1v1h-1zM273 451h1v1h-1zM274 451h1v1h-1zM275 450h1v1h-1zM276 449h1v1h-1zM277 448h1v1h-1zM278 448h1v1h-1zM279 447h1v1h-1zM280 446h1v1h-1zM281 445h1v1h-1zM282 444h1v1h-1zM283 443h1v1h-1zM284 443h1v1h-1zM285 442h1v1h-1zM286 441h1v1h-1zM287 440h1v1h-1zM288 439h1v1h-1zM289 438h1v1h-1zM290 438h1v1h-1zM291 437h1v1h-1zM292 436h1v1h-1zM293 435h1v1h-1zM294 434h1v1h-1zM295 434h1v1h-1zM296 433h1v1h-1zM297 432h1v1h-1zM298 431h1v1h-1zM299 430h1v1h-1zM300 429h1v1h-1zM301 428h1v1h-1zM302 427h1v1h-1zM303 426h1v1h-1zM304 425h1v1h-1zM305 424h1v1h-1zM306 423h1v1h-1zM307 422h1v1h-1zM308 421h1v1h-1zM309 421h1v1h-1zM310 420h1v1h-1zM311 419h1v1h-1zM312 418h1v1h-1zM313 417h1v1h-1zM314 416h1v1h-1zM315 415h1v1h-1zM316 413h1v2h-1zM317 412h1v1h-1zM318 411h1v1h-1zM319 409h1v2h-1zM320 408h1v1h-1zM321 407h1v1h-1zM322 405h1v2h-1zM323 404h1v1h-1zM324 403h1v1h-1zM325 401h1v2h-1zM326 400h1v1h-1zM327 399h1v1h-1zM328 397h1v2h-1zM329 396h1v1h-1zM330 395h1v1h-1zM331 393h1v2h-1zM332 392h1v1h-1zM333 391h1v1h-1zM334 389h1v2h-1zM335 388h1v1h-1zM336 387h1v1h-1zM337 385h1v2h-1zM338 384h1v1h-1zM339 383h1v1h-1zM340 381h1v2h-1zM341 380h1v1h-1zM342 379h1v1h-1zM343 377h1v2h-1zM344 376h1v1h-1zM345 375h1v1h-1zM346 373h1v2h-1zM347 372h1v1h-1zM348 371h1v1h-1zM349 369h1v2h-1zM350 368h1v1h-1zM351 367h1v1h-1zM352 365h1v2h-1zM353 364h1v1h-1zM354 363h1v1h-1zM355 361h1v2h-1zM356 360h1v1h-1zM357 359h1v1h-1zM358 357h1v2h-1zM359 356h1v1h-1zM360 355h1v1h-1zM361 353h1v2h-1zM362 352h1v1h-1zM363 351h1v1h-1zM364 349h1v2h-1zM365 348h1v1h-1zM366 347h1v1h-1zM367 345h1v2h-1zM368 344h1v1h-1zM369 343h1v1h-1zM370 341h1v2h-1zM371 340h1v1h-1zM372 339h1v1h-1zM373 337h1v2h-1zM374 336h1v1h-1zM375 335h1v1h-1zM376 333h1v2h-1zM377 332h1v1h-1zM378 330h1v2h-1zM379 329h1v1h-1zM380 327h1v2h-1zM381 326h1v1h-1zM382 324h1v2h-1zM383 323h1v1h-1zM384 321h1v2h-1zM385 320h1v1h-1zM386 318h1v2h-1zM387 317h1v1h-1zM388 315h1v2h-1zM389 314h1v1h-1zM390 312h1v2h-1zM391 311h1v1h-1zM392 309h1v2h-1zM393 308h1v1h-1zM394 306h1v2h-1zM395 305h1v1h-1zM396 303h1v2h-1zM397 302h1v1h-1zM398 300h1v2h-1zM399 299h1v1h-1zM400 297h1v2h-1zM401 296h1v1h-1zM402 294h1v2h-1zM403 293h1v1h-1zM404 291h1v2h-1zM405 290h1v1h-1zM406 289h1v1h-1zM407 287h1v2h-1zM408 286h1v1h-1zM409 285h1v1h-1zM410 284h1v1h-1zM411 282h1v2h-1zM412 281h1v1h-1zM413 280h1v1h-1zM414 279h1v1h-1zM415 277h1v2h-1zM416 276h1v1h-1zM417 275h1v1h-1zM418 274h1v1h-1zM419 273h1v1h-1zM420 272h1v1h-1zM421 271h1v1h-1zM422 270h1v1h-1zM423 269h1v1h-1zM424 268h1v1h-1zM425 267h1v1h-1zM426 266h1v1h-1zM427 265h1v1h-1zM428 264h1v1h-1zM429 263h1v1h-1zM430 262h1v1h-1zM431 261h1v1h-1zM432 260h1v1h-1zM433 259h1v1h-1zM434 258h1v1h-1zM435 258h1v1h-1zM436 257h1v1h-1zM437 256h1v1h-1zM438 256h1v1h-1zM439 255h1v1h-1zM440 254h1v1h-1zM441 254h1v1h-1zM442 253h1v1h-1zM443 252h1v1h-1zM444 252h1v1h-1zM445 251h1v1h-1zM446 250h1v1h-1zM447 250h1v1h-1zM448 249h1v1h-1zM449 248h1v1h-1zM450 248h1v1h-1zM451 247h1v1h-1zM452 247h1v1h-1zM453 246h1v1h-1zM454 246h1v1h-1zM455 245h1v1h-1zM456 245h1v1h-1zM457 244h1v1h-1zM458 244h1v1h-1zM459 243h1v1h-1zM460 243h1v1h-1zM461 242h1v1h-1zM462 242h1v1h-1zM463 241h1v1h-1zM464 241h1v1h-1zM465 240h1v1h-1zM466 240h1v1h-1zM467 239h1v1h-1zM468 239h1v1h-1zM469 239h1v1h-1zM470 238h1v1h-1zM471 238h1v1h-1zM472 238h1v1h-1zM473 237h1v1h-1zM474 237h1v1h-1zM475 237h1v1h-1zM476 236h1v1h-1zM477 236h1v1h-1zM478 236h1v1h-1zM479 235h1v1h-1zM480 235h1v1h-1zM481 235h1v1h-1zM482 234h1v1h-1zM483 234h1v1h-1zM484 234h1v1h-1zM485 233h1v1h-1zM486 233h1v1h-1zM487 233h1v1h-1zM488 232h1v1h-1zM489 232h1v1h-1zM490 232h1v1h-1zM491 231h1v1h-1zM492 231h1v1h-1zM493 231h1v1h-1zM494 230h1v1h-1zM495 230h1v1h-1zM496 230h1v1h-1zM497 230h1v1h-1zM498 230h1v1h-1zM499 230h1v1h-1zM500 230h1v1h-1zM501 229h1v1h-1zM502 229h1v1h-1zM503 229h1v1h-1zM504 229h1v1h-1zM505 229h1v1h-1zM506 229h1v1h-1zM507 229h1v1h-1zM508 229h1v1h-1zM509 229h1v1h-1zM510 229h1v1h-1zM511 228h1v1h-1zM512 228h1v1h-1zM513 228h1v1h-1zM514 227h1v1h-1zM515 227h1v1h-1zM516 227h1v1h-1zM517 226h1v1h-1zM518 226h1v1h-1zM519 226h1v1h-1zM520 225h1v1h-1zM521 225h1v1h-1zM522 225h1v1h-1zM523 224h1v1h-1zM524 224h1v1h-1zM525 224h1v1h-1zM526 223h1v1h-1zM527 223h1v1h-1zM528 223h1v1h-1zM529 223h1v1h-1zM530 222h1v1h-1zM531 222h1v1h-1zM532 222h1v1h-1zM533 222h1v1h-1zM534 221h1v1h-1zM535 221h1v1h-1zM536 221h1v1h-1zM537 221h1v1h-1zM538 221h1v1h-1zM539 221h1v1h-1zM540 221h1v1h-1zM541 221h1v1h-1zM542 221h1v1h-1zM543 221h1v1h-1zM544 221h1v1h-1zM545 221h1v1h-1zM546 221h1v1h-1zM547 221h1v1h-1zM548 222h1v1h-1zM549 222h1v1h-1zM550 222h1v1h-1zM551 222h1v1h-1zM552 223h1v1h-1zM553 223h1v1h-1zM554 223h1v1h-1zM555 224h1v1h-1zM556 224h1v1h-1zM557 224h1v1h-1zM558 224h1v1h-1zM559 225h1v1h-1zM560 225h1v1h-1zM561 225h1v1h-1zM562 225h1v1h-1zM563 226h1v1h-1zM564 226h1v1h-1zM565 227h1v1h-1zM566 228h1v1h-1zM567 228h1v1h-1zM568 229h1v1h-1zM569 229h1v1h-1zM570 230h1v1h-1zM571 231h1v1h-1zM572 231h1v1h-1zM573 232h1v1h-1zM574 232h1v1h-1zM575 233h1v1h-1zM576 233h1v1h-1zM577 234h1v1h-1zM578 234h1v1h-1zM579 234h1v1h-1zM580 234h1v1h-1zM581 235h1v1h-1zM582 235h1v1h-1zM583 235h1v1h-1zM584 235h1v1h-1zM585 236h1v1h-1zM586 236h1v1h-1zM587 236h1v1h-1zM588 236h1v1h-1zM589 237h1v1h-1zM590 237h1v1h-1zM591 237h1v1h-1zM592 237h1v1h-1zM593 238h1v1h-1zM594 238h1v1h-1zM595 238h1v1h-1zM596 238h1v1h-1zM597 238h1v1h-1zM598 239h1v1h-1zM599 239h1v1h-1zM600 239h1v1h-1zM601 239h1v1h-1zM602 239h1v1h-1zM603 240h1v1h-1zM604 240h1v1h-1zM605 240h1v1h-1zM606 240h1v1h-1zM607 240h1v1h-1zM608 241h1v1h-1zM609 241h1v1h-1zM610 241h1v1h-1zM611 241h1v1h-1zM612 242h1v1h-1zM613 242h1v1h-1zM614 242h1v1h-1zM615 242h1v1h-1zM616 243h1v1h-1zM617 243h1v1h-1zM618 243h1v1h-1zM619 243h1v1h-1zM620 243h1v1h-1zM621 243h1v1h-1zM622 243h1v1h-1zM623 243h1v1h-1zM624 243h1v1h-1zM625 243h1v1h-1zM626 243h1v1h-1zM627 243h1v1h-1zM628 243h1v1h-1zM629 243h1v1h-1zM630 243h1v1h-1zM631 242h1v1h-1zM632 242h1v1h-1zM633 242h1v1h-1zM634 242h1v1h-1zM635 242h1v1h-1zM636 242h1v1h-1zM637 242h1v1h-1zM638 242h1v1h-1zM639 242h1v1h-1zM640 242h1v1h-1zM641 242h1v1h-1zM642 242h1v1h-1zM643 242h1v1h-1zM644 242h1v1h-1zM645 242h1v1h-1zM646 242h1v1h-1zM647 242h1v1h-1zM648 243h1v1h-1zM649 243h1v1h-1zM650 243h1v1h-1zM651 243h1v1h-1zM652 243h1v1h-1zM653 243h1v1h-1zM654 244h1v1h-1zM655 244h1v1h-1zM656 244h1v1h-1zM657 244h1v1h-1zM658 244h1v1h-1zM659 244h1v1h-1zM660 245h1v1h-1zM661 245h1v1h-1zM662 245h1v1h-1zM663 245h1v1h-1zM664 245h1v1h-1zM665 245h1v1h-1zM666 245h1v1h-1zM667 245h1v1h-1zM668 245h1v1h-1zM669 245h1v1h-1zM670 245h1v1h-1zM671 245h1v1h-1zM672 245h1v1h-1zM673 245h1v1h-1zM674 245h1v1h-1zM675 246h1v1h-1zM676 246h1v1h-1zM677 246h1v1h-1zM678 246h1v1h-1zM679 246h1v1h-1zM680 246h1v1h-1zM681 246h1v1h-1zM682 246h1v1h-1zM683 246h1v1h-1zM684 246h1v1h-1zM685 247h1v1h-1zM686 247h1v1h-1zM687 247h1v1h-1zM688 247h1v1h-1zM689 247h1v1h-1zM690 247h1v1h-1zM691 247h1v1h-1zM692 247h1v1h-1zM693 246h1v1h-1zM694 246h1v1h-1zM695 246h1v1h-1zM696 246h1v1h-1zM697 246h1v1h-1zM698 246h1v1h-1zM699 245h1v1h-1zM700 245h1v1h-1zM701 245h1v1h-1zM702 245h1v1h-1zM703 245h1v1h-1zM704 244h1v1h-1zM705 244h1v1h-1zM706 243h1v1h-1zM707 243h1v1h-1zM708 242h1v1h-1zM709 241h1v1h-1zM710 241h1v1h-1zM711 240h1v1h-1zM712 239h1v1h-1zM713 238h1v1h-1zM714 237h1v1h-1zM715 236h1v1h-1zM716 235h1v1h-1zM717 234h1v1h-1zM718 233h1v1h-1zM719 232h1v1h-1zM720 232h1v1h-1zM721 231h1v1h-1zM722 230h1v1h-1zM723 229h1v1h-1zM724 229h1v1h-1zM725 228h1v1h-1zM726 227h1v1h-1zM727 226h1v1h-1zM728 226h1v1h-1zM729 225h1v1h-1zM730 224h1v1h-1zM731 223h1v1h-1zM732 222h1v1h-1zM733 221h1v1h-1zM734 220h1v1h-1zM735 220h1v1h-1zM736 219h1v1h-1zM737 218h1v1h-1zM738 217h1v1h-1zM739 216h1v1h-1zM740 215h1v1h-1zM741 214h1v1h-1zM742 213h1v1h-1zM743 212h1v1h-1zM744 211h1v1h-1zM745 210h1v1h-1zM746 209h1v1h-1zM747 208h1v1h-1zM748 207h1v1h-1zM749 206h1v1h-1zM750 205h1v1h-1zM751 204h1v1h-1zM752 203h1v1h-1zM753 202h1v1h-1zM754 201h1v1h-1zM755 200h1v1h-1zM756 199h1v1h-1zM757 198h1v1h-1zM758 197h1v1h-1zM759 196h1v1h-1zM760 195h1v1h-1zM761 194h1v1h-1zM762 193h1v1h-1zM763 192h1v1h-1zM764 191h1v1h-1zM765 190h1v1h-1zM766 190h1v1h-1zM767 189h1v1h-1zM768 188h1v1h-1zM769 188h1v1h-1zM770 187h1v1h-1zM771 187h1v1h-1zM772 186h1v1h-1zM773 185h1v1h-1zM774 185h1v1h-1zM775 184h1v1h-1zM776 184h1v1h-1zM777 183h1v1h-1zM778 183h1v1h-1zM779 183h1v1h-1zM780 182h1v1h-1zM781 182h1v1h-1zM782 181h1v1h-1zM783 181h1v1h-1zM784 181h1v1h-1zM785 180h1v1h-1zM786 180h1v1h-1zM787 180h1v1h-1zM788 180h1v1h-1zM789 180h1v1h-1zM790 180h1v1h-1zM791 180h1v1h-1zM792 180h1v1h-1zM793 180h1v1h-1zM794 180h1v1h-1zM795 180h1v1h-1zM796 180h1v1h-1zM797 180h1v1h-1zM798 181h1v1h-1zM799 181h1v1h-1zM800 181h1v1h-1zM801 182h1v1h-1zM802 182h1v1h-1zM803 182h1v1h-1zM804 182h1v1h-1zM805 182h1v1h-1zM806 182h1v1h-1zM807 182h1v1h-1zM808 182h1v1h-1zM809 182h1v1h-1zM810 182h1v1h-1zM811 182h1v1h-1zM812 182h1v1h-1zM813 182h1v1h-1zM814 182h1v1h-1zM815 181h1v1h-1zM816 181h1v1h-1zM817 181h1v1h-1zM818 181h1v1h-1zM819 181h1v1h-1zM820 181h1v1h-1zM821 182h1v1h-1zM822 182h1v1h-1zM823 182h1v1h-1zM824 183h1v1h-1zM825 183h1v1h-1zM826 184h1v1h-1zM827 184h1v1h-1zM828 185h1v1h-1zM829 185h1v1h-1zM830 186h1v1h-1zM831 186h1v1h-1zM832 186h1v1h-1zM833 187h1v1h-1zM834 187h1v1h-1zM835 188h1v1h-1zM836 188h1v1h-1zM837 188h1v1h-1zM838 189h1v1h-1zM839 189h1v1h-1zM840 190h1v1h-1zM841 190h1v1h-1zM842 190h1v1h-1zM843 191h1v1h-1zM844 191h1v1h-1zM845 192h1v1h-1zM846 192h1v1h-1zM847 193h1v1h-1zM848 193h1v1h-1zM849 194h1v1h-1zM850 194h1v1h-1zM851 195h1v1h-1zM852 195h1v1h-1zM853 196h1v1h-1zM854 196h1v1h-1zM855 197h1v1h-1zM856 198h1v1h-1zM857 199h1v1h-1zM858 199h1v1h-1zM859 200h1v1h-1zM860 201h1v1h-1zM861 202h1v1h-1zM862 203h1v1h-1zM863 203h1v1h-1zM864 204h1v1h-1zM865 205h1v1h-1zM866 206h1v1h-1zM867 207h1v1h-1zM868 207h1v1h-1zM869 208h1v1h-1zM870 209h1v1h-1zM871 210h1v1h-1zM872 211h1v1h-1zM873 212h1v1h-1zM874 213h1v1h-1zM875 213h1v1h-1zM876 214h1v1h-1zM877 215h1v1h-1zM878 216h1v1h-1zM879 217h1v2h-1zM880 219h1v1h-1zM881 220h1v1h-1zM882 221h1v1h-1zM883 222h1v1h-1zM884 223h1v2h-1zM885 225h1v1h-1zM886 226h1v2h-1zM887 228h1v1h-1zM888 229h1v2h-1zM889 231h1v1h-1zM890 232h1v2h-1zM891 234h1v1h-1zM892 235h1v2h-1zM893 237h1v1h-1zM894 238h1v2h-1zM895 240h1v1h-1zM896 241h1v2h-1zM897 243h1v1h-1zM898 244h1v2h-1zM899 246h1v1h-1zM900 247h1v2h-1zM901 249h1v1h-1zM902 250h1v2h-1zM903 252h1v1h-1zM904 253h1v2h-1zM905 255h1v1h-1zM906 256h1v1h-1zM907 257h1v2h-1zM908 259h1v1h-1zM909 260h1v2h-1zM910 262h1v1h-1zM911 263h1v1h-1zM912 264h1v2h-1zM913 266h1v1h-1zM914 267h1v2h-1zM915 269h1v1h-1zM916 270h1v1h-1zM917 271h1v2h-1zM918 273h1v2h-1zM919 275h1v2h-1zM920 277h1v2h-1zM921 279h1v2h-1zM922 281h1v2h-1zM923 283h1v2h-1zM924 285h1v2h-1zM925 287h1v2h-1zM926 289h1v2h-1zM927 291h1v2h-1zM928 293h1v2h-1zM929 295h1v2h-1zM930 297h1v1h-1zM931 298h1v2h-1zM932 300h1v1h-1zM933 301h1v2h-1zM934 303h1v1h-1zM935 304h1v2h-1zM936 306h1v1h-1zM937 307h1v2h-1zM938 309h1v1h-1zM939 310h1v2h-1zM940 312h1v1h-1zM941 313h1v2h-1zM942 315h1v1h-1zM943 316h1v2h-1zM944 318h1v2h-1zM945 320h1v1h-1zM946 321h1v2h-1zM947 323h1v1h-1zM948 324h1v2h-1zM949 326h1v2h-1zM950 328h1v1h-1zM951 329h1v2h-1zM952 331h1v1h-1zM953 332h1v2h-1zM954 334h1v2h-1zM955 336h1v1h-1zM956 337h1v1h-1zM957 338h1v1h-1zM958 339h1v1h-1zM959 340h1v1h-1zM960 341h1v1h-1zM961 342h1v1h-1zM962 343h1v1h-1zM963 344h1v2h-1zM964 346h1v1h-1zM965 347h1v1h-1zM966 348h1v1h-1zM967 349h1v1h-1zM968 350h1v1h-1zM969 351h1v1h-1zM970 352h1v1h-1zM971 353h1v2h-1zM972 355h1v1h-1zM973 356h1v1h-1zM974 357h1v1h-1zM975 358h1v1h-1zM976 359h1v1h-1zM977 360h1v1h-1zM978 361h1v1h-1zM979 362h1v2h-1zM980 364h1v1h-1zM981 365h1v1h-1zM982 366h1v1h-1zM983 367h1v1h-1zM984 368h1v1h-1zM985 369h1v1h-1zM986 370h1v1h-1zM987 371h1v1h-1zM988 372h1v1h-1zM989 373h1v1h-1zM990 374h1v1h-1zM991 375h1v1h-1zM992 375h1v1h-1zM993 376h1v1h-1zM994 377h1v1h-1zM995 378h1v1h-1zM996 379h1v1h-1zM997 379h1v1h-1zM998 380h1v1h-1zM999 381h1v1h-1zM1000 382h1v1h-1zM1001 382h1v1h-1zM1002 383h1v1h-1zM1003 384h1v1h-1zM1004 385h1v1h-1zM1005 386h1v1h-1zM1006 387h1v1h-1zM1007 388h1v1h-1zM1008 389h1v1h-1zM1009 390h1v1h-1zM1010 391h1v1h-1zM1011 392h1v1h-1zM1012 393h1v1h-1zM1013 394h1v1h-1zM1014 395h1v1h-1zM1015 396h1v1h-1zM1016 397h1v1h-1zM1017 398h1v1h-1zM1018 399h1v1h-1zM1019 400h1v1h-1zM1020 401h1v1h-1zM1021 401h1v1h-1zM1022 402h1v1h-1zM1023 403h1v1h-1zM1024 404h1v1h-1zM1025 404h1v1h-1zM1026 405h1v1h-1zM1027 406h1v1h-1zM1028 407h1v1h-1zM1029 407h1v1h-1zM1030 408h1v1h-1zM1031 409h1v1h-1zM1032 410h1v1h-1zM1033 410h1v1h-1zM1034 411h1v1h-1zM1035 412h1v1h-1zM1036 413h1v1h-1zM1037 414h1v1h-1zM1038 415h1v1h-1zM1039 416h1v1h-1zM1040 417h1v1h-1zM1041 417h1v1h-1zM1042 418h1v1h-1zM1043 419h1v1h-1zM1044 420h1v1h-1zM1045 421h1v1h-1zM1046 422h1v1h-1zM1047 423h1v1h-1zM1048 424h1v1h-1zM1049 425h1v1h-1zM1050 426h1v1h-1zM1051 426h1v1h-1zM1052 427h1v1h-1zM1053 428h1v1h-1zM1054 429h1v1h-1zM1055 429h1v1h-1zM1056 430h1v1h-1zM1057 431h1v1h-1zM1058 432h1v1h-1zM1059 432h1v1h-1zM1060 433h1v1h-1zM1061 434h1v1h-1zM1062 435h1v1h-1zM1063 435h1v1h-1zM1064 436h1v1h-1zM1065 437h1v1h-1zM1066 438h1v1h-1zM1067 439h1v1h-1zM1068 440h1v1h-1zM1069 440h1v1h-1zM1070 441h1v1h-1zM1071 442h1v1h-1zM1072 443h1v1h-1zM1073 444h1v1h-1zM1074 445h1v1h-1zM1075 445h1v1h-1zM1076 446h1v1h-1zM1077 447h1v1h-1zM1078 448h1v1h-1zM1079 449h1v1h-1zM1080 450h1v1h-1zM1081 450h1v1h-1zM1082 450h1v1h-1zM1083 451h1v1h-1zM1084 451h1v1h-1zM1085 452h1v1h-1zM1086 452h1v1h-1zM1087 452h1v1h-1zM1088 453h1v1h-1zM1089 453h1v1h-1zM1090 454h1v1h-1zM1091 454h1v1h-1zM1092 454h1v1h-1zM1093 455h1v1h-1zM1094 455h1v1h-1zM1095 456h1v1h-1zM1096 456h1v1h-1zM1097 456h1v1h-1zM1098 456h1v1h-1zM1099 456h1v1h-1zM1100 457h1v1h-1zM1101 457h1v1h-1zM1102 457h1v1h-1zM1103 457h1v1h-1zM1104 458h1v1h-1zM1105 458h1v1h-1zM1106 458h1v1h-1zM1107 458h1v1h-1zM1108 458h1v1h-1zM1109 459h1v1h-1zM1110 459h1v1h-1zM1111 459h1v1h-1zM1112 459h1v1h-1zM1113 460h1v1h-1zM1114 460h1v1h-1zM1115 460h1v1h-1zM1116 460h1v1h-1zM1117 460h1v1h-1zM1118 461h1v1h-1zM1119 461h1v1h-1zM1120 461h1v1h-1zM1121 461h1v1h-1zM1122 462h1v1h-1zM1123 462h1v1h-1zM1124 462h1v1h-1zM1125 462h1v1h-1zM1126 463h1v1h-1zM1127 463h1v1h-1zM1128 463h1v1h-1zM1129 463h1v1h-1zM1130 464h1v1h-1zM1131 464h1v1h-1zM1132 464h1v1h-1zM1133 465h1v1h-1zM1134 465h1v1h-1zM1135 466h1v1h-1zM1136 466h1v1h-1zM1137 466h1v1h-1zM1138 467h1v1h-1zM1139 467h1v1h-1zM1140 468h1v1h-1zM1141 468h1v1h-1zM1142 468h1v1h-1zM1143 469h1v1h-1zM1144 469h1v1h-1zM1145 470h1v1h-1zM1146 470h1v1h-1zM1147 470h1v1h-1zM1148 470h1v1h-1zM1149 471h1v1h-1zM1150 471h1v1h-1zM1151 471h1v1h-1zM1152 472h1v1h-1zM1153 472h1v1h-1zM1154 472h1v1h-1zM1155 472h1v1h-1zM1156 473h1v1h-1zM1157 473h1v1h-1zM1158 473h1v1h-1zM1159 474h1v1h-1zM1160 474h1v1h-1zM1161 474h1v1h-1zM1162 474h1v1h-1zM1163 475h1v1h-1zM1164 475h1v1h-1zM1165 475h1v1h-1zM1166 475h1v1h-1zM1167 475h1v1h-1zM1168 475h1v1h-1zM1169 475h1v1h-1zM1170 475h1v1h-1zM1171 475h1v1h-1zM1172 475h1v1h-1zM1173 475h1v1h-1zM1174 475h1v1h-1zM1175 475h1v1h-1zM1176 475h1v1h-1zM1177 475h1v1h-1zM1178 475h1v1h-1zM1179 475h1v1h-1zM1180 475h1v1h-1zM1181 475h1v1h-1zM1182 475h1v1h-1zM1183 475h1v1h-1zM1184 475h1v1h-1zM1185 475h1v1h-1zM1186 475h1v1h-1zM1187 476h1v1h-1zM1188 476h1v1h-1zM1189 476h1v1h-1zM1190 476h1v1h-1zM1191 476h1v1h-1zM1192 476h1v1h-1zM1193 476h1v1h-1zM1194 477h1v1h-1zM1195 477h1v1h-1zM1196 477h1v1h-1zM1197 477h1v1h-1zM1198 477h1v1h-1zM1199 477h1v1h-1zM1200 477h1v1h-1zM1201 477h1v1h-1zM1202 477h1v1h-1zM1203 477h1v1h-1zM1204 477h1v1h-1zM1205 477h1v1h-1zM1206 477h1v1h-1zM1207 477h1v1h-1zM1208 477h1v1h-1zM1209 477h1v1h-1zM1210 477h1v1h-1zM1211 477h1v1h-1zM1212 477h1v1h-1zM1213 477h1v1h-1zM1214 477h1v1h-1zM1215 477h1v1h-1zM1216 477h1v1h-1zM1217 477h1v1h-1zM1218 477h1v1h-1zM1219 477h1v1h-1zM1220 477h1v1h-1zM1221 477h1v1h-1zM1222 477h1v1h-1zM1223 476h1v1h-1zM1224 476h1v1h-1zM1225 476h1v1h-1zM1226 476h1v1h-1zM1227 475h1v1h-1zM1228 475h1v1h-1zM1229 475h1v1h-1zM1230 475h1v1h-1zM1231 474h1v1h-1zM1232 474h1v1h-1zM1233 474h1v1h-1zM1234 473h1v1h-1zM1235 473h1v1h-1zM1236 473h1v1h-1zM1237 472h1v1h-1zM1238 472h1v1h-1zM1239 472h1v1h-1zM1240 471h1v1h-1zM1241 471h1v1h-1zM1242 471h1v1h-1zM1243 470h1v1h-1zM1244 470h1v1h-1zM1245 470h1v1h-1zM1246 469h1v1h-1zM1247 469h1v1h-1zM1248 469h1v1h-1zM1249 468h1v1h-1zM1250 468h1v1h-1zM1251 468h1v1h-1zM1252 467h1v1h-1zM1253 467h1v1h-1zM1254 467h1v1h-1zM1255 466h1v1h-1zM1256 466h1v1h-1zM1257 466h1v1h-1zM1258 465h1v1h-1zM1259 465h1v1h-1zM1260 465h1v1h-1zM1261 464h1v1h-1zM1262 464h1v1h-1zM1263 463h1v1h-1zM1264 463h1v1h-1zM1265 463h1v1h-1zM1266 462h1v1h-1zM1267 462h1v1h-1zM1268 461h1v1h-1zM1269 461h1v1h-1zM1270 461h1v1h-1zM1271 460h1v1h-1zM1272 460h1v1h-1zM1273 459h1v1h-1zM1274 459h1v1h-1zM1275 459h1v1h-1zM1276 458h1v1h-1zM1277 458h1v1h-1zM1278 457h1v1h-1zM1279 457h1v1h-1zM1280 457h1v1h-1zM1281 456h1v1h-1zM1282 456h1v1h-1zM1283 456h1v1h-1zM1284 455h1v1h-1zM1285 455h1v1h-1zM1286 454h1v1h-1zM1287 454h1v1h-1zM1288 454h1v1h-1zM1289 453h1v1h-1zM1290 453h1v1h-1zM1291 453h1v1h-1zM1292 452h1v1h-1zM1293 452h1v1h-1zM1294 452h1v1h-1zM1295 452h1v1h-1zM1296 451h1v1h-1zM1297 451h1v1h-1zM1298 451h1v1h-1zM1299 450h1v1h-1zM1300 450h1v1h-1zM1301 450h1v1h-1zM1302 449h1v1h-1zM1303 449h1v1h-1zM1304 449h1v1h-1zM1305 449h1v1h-1zM1306 449h1v1h-1zM1307 449h1v1h-1zM1308 449h1v1h-1zM1309 449h1v1h-1zM1310 450h1v1h-1zM1311 450h1v1h-1zM1312 450h1v1h-1zM1313 450h1v1h-1zM1314 450h1v1h-1zM1315 451h1v1h-1zM1316 451h1v1h-1zM1317 451h1v1h-1zM1318 451h1v1h-1zM1319 451h1v1h-1zM1320 452h1v1h-1zM1321 452h1v1h-1zM1322 452h1v1h-1zM1323 452h1v1h-1zM1324 453h1v1h-1zM1325 453h1v1h-1zM1326 453h1v1h-1zM1327 453h1v1h-1zM1328 454h1v1h-1zM1329 454h1v1h-1zM1330 454h1v1h-1zM1331 454h1v1h-1zM1332 455h1v1h-1zM1333 455h1v1h-1zM1334 455h1v1h-1zM1335 455h1v1h-1zM1336 456h1v1h-1zM1337 456h1v1h-1zM1338 456h1v1h-1zM1339 456h1v1h-1zM1340 457h1v1h-1zM1341 457h1v1h-1zM1342 457h1v1h-1zM1343 458h1v1h-1zM1344 458h1v1h-1zM1345 458h1v1h-1zM1346 459h1v1h-1zM1347 459h1v1h-1zM1348 459h1v1h-1zM1349 460h1v1h-1zM1350 460h1v1h-1zM1351 460h1v1h-1zM1352 461h1v1h-1zM1353 461h1v1h-1zM1354 461h1v1h-1zM1355 462h1v1h-1zM1356 462h1v1h-1zM1357 462h1v1h-1zM1358 463h1v1h-1zM1359 463h1v1h-1zM1360 464h1v1h-1zM1361 464h1v1h-1zM1362 464h1v1h-1zM1363 464h1v1h-1zM1364 464h1v1h-1zM1365 465h1v1h-1zM1366 465h1v1h-1zM1367 465h1v1h-1zM1368 465h1v1h-1zM1369 465h1v1h-1zM1370 466h1v1h-1zM1371 466h1v1h-1zM1372 466h1v1h-1zM1373 466h1v1h-1zM1374 466h1v1h-1zM1375 467h1v1h-1zM1376 467h1v1h-1zM1377 467h1v1h-1zM1378 467h1v1h-1zM1379 467h1v1h-1zM1380 468h1v1h-1zM1381 468h1v1h-1zM1382 468h1v1h-1zM1383 468h1v1h-1zM1384 468h1v1h-1zM1385 469h1v1h-1zM1386 469h1v1h-1zM1387 469h1v1h-1zM1388 469h1v1h-1zM1389 469h1v1h-1zM1390 470h1v1h-1zM1391 470h1v1h-1zM1392 470h1v1h-1zM1393 470h1v1h-1zM1394 470h1v1h-1zM1395 471h1v1h-1zM1396 471h1v1h-1zM1397 471h1v1h-1zM1398 471h1v1h-1zM1399 471h1v1h-1zM1400 472h1v1h-1zM1401 472h1v1h-1zM1402 472h1v1h-1zM1403 472h1v1h-1zM1404 472h1v1h-1zM1405 472h1v1h-1zM1406 472h1v1h-1zM1407 472h1v1h-1zM1408 472h1v1h-1zM1409 472h1v1h-1zM1410 472h1v1h-1zM1411 472h1v1h-1zM1412 473h1v1h-1zM1413 473h1v1h-1zM1414 473h1v1h-1zM1415 473h1v1h-1zM1416 473h1v1h-1zM1417 473h1v1h-1zM1418 473h1v1h-1zM1419 473h1v1h-1zM1420 473h1v1h-1zM1421 473h1v1h-1zM1422 473h1v1h-1zM1423 473h1v1h-1zM1424 473h1v1h-1zM1425 473h1v1h-1zM1426 473h1v1h-1zM1427 473h1v1h-1zM1428 473h1v1h-1zM1429 473h1v1h-1zM1430 473h1v1h-1zM1431 473h1v1h-1zM1432 473h1v1h-1zM1433 473h1v1h-1zM1434 473h1v1h-1zM1435 473h1v1h-1zM1436 473h1v1h-1zM1437 473h1v1h-1zM1438 473h1v1h-1zM1439 473h1v1h-1zM1440 473h1v1h-1zM1441 473h1v1h-1zM1442 473h1v1h-1zM1443 473h1v1h-1zM1444 473h1v1h-1zM1445 473h1v1h-1zM1446 473h1v1h-1zM1447 473h1v1h-1zM1448 473h1v1h-1zM1449 473h1v1h-1zM1450 473h1v1h-1zM1451 473h1v1h-1zM1452 472h1v1h-1zM1453 472h1v1h-1zM1454 472h1v1h-1zM1455 472h1v1h-1zM1456 471h1v1h-1zM1457 471h1v1h-1zM1458 471h1v1h-1zM1459 470h1v1h-1zM1460 470h1v1h-1zM1461 470h1v1h-1zM1462 469h1v1h-1zM1463 469h1v1h-1zM1464 469h1v1h-1zM1465 469h1v1h-1zM1466 468h1v1h-1zM1467 468h1v1h-1zM1468 467h1v1h-1zM1469 467h1v1h-1zM1470 467h1v1h-1zM1471 466h1v1h-1zM1472 466h1v1h-1zM1473 466h1v1h-1zM1474 465h1v1h-1zM1475 465h1v1h-1zM1476 465h1v1h-1zM1477 464h1v1h-1zM1478 464h1v1h-1zM1479 464h1v1h-1zM1480 463h1v1h-1zM1481 463h1v1h-1zM1482 463h1v1h-1zM1483 462h1v1h-1zM1484 462h1v1h-1zM1485 462h1v1h-1zM1486 461h1v1h-1zM1487 461h1v1h-1zM1488 461h1v1h-1zM1489 460h1v1h-1zM1490 460h1v1h-1zM1491 460h1v1h-1zM1492 459h1v1h-1zM1493 459h1v1h-1zM1494 459h1v1h-1zM1495 459h1v1h-1zM1496 458h1v1h-1zM1497 458h1v1h-1zM1498 458h1v1h-1zM1499 457h1v1h-1zM1500 457h1v1h-1zM1501 457h1v1h-1zM1502 456h1v1h-1zM1503 456h1v1h-1zM1504 456h1v1h-1zM1505 456h1v1h-1zM1506 455h1v1h-1zM1507 455h1v1h-1zM1508 455h1v1h-1zM1509 454h1v1h-1zM1510 454h1v1h-1zM1511 454h1v1h-1zM1512 453h1v1h-1zM1513 453h1v1h-1zM1514 453h1v1h-1zM1515 453h1v1h-1zM1516 452h1v1h-1zM1517 451h1v1h-1zM1518 450h1v1h-1zM1519 449h1v1h-1zM1520 448h1v1h-1zM1521 447h1v1h-1zM1522 446h1v1h-1zM1523 445h1v1h-1zM1524 444h1v1h-1zM1525 444h1v1h-1zM1526 443h1v1h-1zM1527 442h1v1h-1zM1528 442h1v1h-1zM1529 441h1v1h-1zM1530 441h1v1h-1zM1531 440h1v1h-1zM1532 440h1v1h-1zM1533 439h1v1h-1zM1534 438h1v1h-1zM1535 438h1v1h-1zM1536 437h1v1h-1zM1537 437h1v1h-1zM1538 436h1v1h-1zM1539 436h1v1h-1zM1540 436h1v1h-1zM1541 436h1v1h-1zM1542 436h1v1h-1zM1543 436h1v1h-1zM1544 436h1v1h-1zM1545 436h1v1h-1zM1546 435h1v1h-1zM1547 435h1v1h-1zM1548 435h1v1h-1zM1549 435h1v1h-1zM1550 435h1v1h-1zM1551 435h1v1h-1zM1552 435h1v1h-1zM1553 435h1v1h-1zM1554 435h1v1h-1zM1555 435h1v1h-1zM1556 435h1v1h-1zM1557 435h1v1h-1zM1558 435h1v1h-1zM1559 435h1v1h-1zM1560 435h1v1h-1zM1561 435h1v1h-1zM1562 435h1v1h-1zM1563 435h1v1h-1zM1564 435h1v1h-1zM1565 435h1v1h-1zM1566 435h1v1h-1zM1567 435h1v1h-1zM1568 435h1v1h-1zM1569 435h1v1h-1zM1570 436h1v1h-1zM1571 436h1v1h-1zM1572 436h1v1h-1zM1573 437h1v1h-1zM1574 437h1v1h-1zM1575 437h1v1h-1zM1576 438h1v1h-1zM1577 438h1v1h-1zM1578 438h1v1h-1zM1579 439h1v1h-1zM1580 439h1v1h-1zM1581 439h1v1h-1zM1582 440h1v1h-1zM1583 440h1v1h-1zM1584 440h1v1h-1zM1585 441h1v1h-1zM1586 441h1v1h-1zM1587 441h1v1h-1zM1588 442h1v1h-1zM1589 442h1v1h-1zM1590 443h1v1h-1zM1591 443h1v1h-1zM1592 443h1v1h-1zM1593 443h1v1h-1zM1594 443h1v1h-1zM1595 443h1v1h-1zM1596 444h1v1h-1zM1597 444h1v1h-1zM1598 444h1v1h-1zM1599 444h1v1h-1zM1600 444h1v1h-1zM1601 444h1v1h-1zM1602 445h1v1h-1zM1603 445h1v1h-1zM1604 445h1v1h-1zM1605 445h1v1h-1zM1606 445h1v1h-1zM1607 446h1v1h-1zM1608 446h1v1h-1zM1609 446h1v1h-1zM1610 446h1v1h-1zM1611 446h1v1h-1zM1612 446h1v1h-1zM1613 447h1v1h-1zM1614 447h1v1h-1zM1615 447h1v1h-1zM1616 448h1v1h-1zM1617 448h1v1h-1zM1618 448h1v1h-1zM1619 448h1v1h-1zM1620 449h1v1h-1zM1621 449h1v1h-1zM1622 449h1v1h-1zM1623 450h1v1h-1zM1624 450h1v1h-1zM1625 450h1v1h-1zM1626 450h1v1h-1zM1627 451h1v1h-1zM1628 451h1v1h-1zM1629 451h1v1h-1zM1630 452h1v1h-1zM1631 452h1v1h-1zM1632 452h1v1h-1zM1633 452h1v1h-1zM1634 453h1v1h-1zM1635 453h1v1h-1zM1636 453h1v1h-1zM1637 453h1v1h-1zM1638 452h1v1h-1zM1639 452h1v1h-1zM1640 452h1v1h-1zM1641 452h1v1h-1zM1642 452h1v1h-1zM1643 451h1v1h-1zM1644 451h1v1h-1zM1645 451h1v1h-1zM1646 451h1v1h-1zM1647 451h1v1h-1zM1648 450h1v1h-1zM1649 450h1v1h-1zM1650 450h1v1h-1zM1651 450h1v1h-1zM1652 449h1v1h-1zM1653 449h1v1h-1zM1654 448h1v1h-1zM1655 448h1v1h-1zM1656 448h1v1h-1zM1657 447h1v1h-1zM1658 447h1v1h-1zM1659 446h1v1h-1zM1660 446h1v1h-1zM1661 446h1v1h-1zM1662 445h1v1h-1zM1663 445h1v1h-1zM1664 444h1v1h-1zM1665 444h1v1h-1zM1666 444h1v1h-1z" fill="#ffa500"/><rect x="2" y="270" width="1685" height="2" fill="#ff0000"/><rect x="2" y="334" width="1685" height="2" fill="#ff0000"/><rect x="2" y="434" width="1685" height="2" fill="#32cd32"/><rect x="2" y="535" width="1685" height="2" fill="#4169e1"/></g><g clip-path="url(#c2)"><path d="M2 615h1v12h-1zM10 616h1v11h-1zM18 619h1v8h-1zM26 621h1v6h-1zM34 624h1v3h-1zM42 626h1v1h-1zM50 626h1v4h-1zM58 626h1v6h-1zM66 626h1v6h-1zM74 626h1v7h-1zM82 626h1v7h-1zM90 626h1v5h-1zM98 626h1v5h-1zM106 626h1v3h-1zM114 626h1v1h-1zM122 626h1v1h-1zM130 626h1v1h-1zM138 625h1v2h-1zM146 623h1v4h-1zM154 621h1v6h-1zM162 622h1v5h-1zM170 622h1v5h-1zM178 622h1v5h-1zM186 622h1v5h-1zM194 622h1v5h-1zM202 621h1v6h-1zM210 621h1v6h-1zM218 620h1v7h-1zM226 619h1v8h-1zM234 618h1v9h-1zM242 618h1v9h-1zM250 616h1v11h-1zM258 615h1v12h-1zM266 612h1v15h-1zM274 608h1v19h-1zM282 602h1v25h-1zM290 600h1v27h-1zM298 598h1v29h-1zM306 592h1v35h-1zM314 589h1v38h-1zM322 586h1v41h-1zM330 581h1v46h-1zM338 576h1v51h-1zM346 575h1v52h-1zM354 574h1v53h-1zM362 574h1v53h-1zM370 576h1v51h-1zM378 576h1v51h-1zM386 574h1v53h-1zM394 572h1v55h-1zM402 572h1v55h-1zM410 576h1v51h-1zM418 579h1v48h-1zM426 585h1v42h-1zM434 589h1v38h-1zM442 591h1v36h-1zM450 592h1v35h-1zM458 594h1v33h-1zM466 598h1v29h-1zM474 601h1v26h-1zM482 604h1v23h-1zM490 602h1v25h-1zM498 601h1v26h-1zM506 603h1v24h-1zM514 603h1v24h-1zM522 602h1v25h-1zM530 601h1v26h-1zM538 603h1v24h-1zM546 606h1v21h-1zM554 609h1v18h-1zM562 611h1v16h-1zM570 617h1v10h-1zM578 622h1v5h-1zM586 625h1v2h-1zM594 626h1v2h-1zM602 626h1v5h-1zM610 626h1v5h-1zM618 626h1v4h-1zM626 626h1v2h-1zM634 626h1v1h-1zM642 626h1v1h-1zM650 626h1v1h-1zM658 626h1v1h-1zM666 624h1v3h-1zM674 624h1v3h-1zM682 621h1v6h-1zM690 620h1v7h-1zM698 615h1v12h-1zM706 610h1v17h-1zM714 603h1v24h-1zM722 597h1v30h-1zM730 595h1v32h-1zM738 594h1v33h-1zM746 594h1v33h-1zM754 593h1v34h-1zM762 596h1v31h-1zM770 601h1v26h-1zM778 605h1v22h-1zM786 610h1v17h-1zM794 617h1v10h-1zM802 624h1v3h-1zM810 626h1v1h-1zM818 626h1v3h-1zM826 626h1v10h-1zM834 626h1v16h-1zM842 626h1v19h-1zM850 626h1v21h-1zM858 626h1v24h-1zM866 626h1v26h-1zM874 626h1v25h-1zM882 626h1v23h-1zM890 626h1v26h-1zM898 626h1v29h-1zM906 626h1v31h-1zM914 626h1v32h-1zM922 626h1v37h-1zM930 626h1v43h-1zM938 626h1v47h-1zM946 626h1v53h-1zM954 626h1v55h-1zM962 626h1v57h-1zM970 626h1v54h-1zM978 626h1v51h-1zM986 626h1v48h-1zM994 626h1v45h-1zM1002 626h1v44h-1zM1010 626h1v44h-1zM1018 626h1v43h-1zM1026 626h1v41h-1zM1034 626h1v39h-1zM1042 626h1v36h-1zM1050 626h1v33h-1zM1058 626h1v31h-1zM1066 626h1v32h-1zM1074 626h1v33h-1zM1082 626h1v33h-1zM1090 626h1v32h-1zM1098 626h1v33h-1zM1106 626h1v32h-1zM1114 626h1v33h-1zM1122 626h1v33h-1zM1130 626h1v34h-1zM1138 626h1v34h-1zM1146 626h1v29h-1zM1154 626h1v25h-1zM1162 626h1v21h-1zM1170 626h1v19h-1zM1178 626h1v15h-1zM1186 626h1v12h-1zM1194 626h1v12h-1zM1202 626h1v10h-1zM1210 626h1v8h-1zM1218 626h1v5h-1zM1226 626h1v1h-1zM1234 625h1v2h-1zM1242 624h1v3h-1zM1250 623h1v4h-1zM1258 624h1v3h-1zM1266 624h1v3h-1zM1274 623h1v4h-1zM1282 624h1v3h-1zM1290 625h1v2h-1zM1298 626h1v1h-1zM1306 626h1v3h-1zM1314 626h1v6h-1zM1322 626h1v7h-1zM1330 626h1v9h-1zM1338 626h1v9h-1zM1346 626h1v10h-1zM1354 626h1v15h-1zM1362 626h1v16h-1zM1370 626h1v16h-1zM1378 626h1v15h-1zM1386 626h1v10h-1zM1394 626h1v7h-1zM1402 626h1v3h-1zM1410 626h1v1h-1zM1418 625h1v2h-1zM1426 624h1v3h-1zM1434 623h1v4h-1zM1442 623h1v4h-1zM1450 621h1v6h-1zM1458 619h1v8h-1zM1466 617h1v10h-1zM1474 619h1v8h-1zM1482 620h1v7h-1zM1490 620h1v7h-1zM1498 619h1v8h-1zM1506 619h1v8h-1zM1514 617h1v10h-1zM1522 616h1v11h-1zM1530 614h1v13h-1zM1538 616h1v11h-1zM1546 619h1v8h-1zM1554 621h1v6h-1zM1562 622h1v5h-1zM1570 626h1v1h-1zM1578 626h1v2h-1zM1586 626h1v4h-1zM1594 626h1v6h-1zM1602 626h1v6h-1zM1610 626h1v7h-1zM1618 626h1v5h-1zM1626 626h1v6h-1zM1634 626h1v5h-1zM1642 626h1v4h-1zM1650 626h1v1h-1zM1658 622h1v5h-1zM1666 618h1v9h-1z" fill="#c0c0c0"/><path d="M2 610h1v1h-1zM3 610h1v1h-1zM4 610h1v1h-1zM8 610h1v1h-1zM9 610h1v1h-1zM10 610h1v1h-1zM14 610h1v1h-1zM15 610h1v1h-1zM16 610h1v1h-1zM20 611h1v1h-1zM21 612h1v1h-1zM22 612h1v1h-1zM26 613h1v1h-1zM27 613h1v1h-1zM28 613h1v1h-1zM32 614h1v1h-1zM33 614h1v1h-1zM34 614h1v1h-1zM38 615h1v1h-1zM39 615h1v1h-1zM40 615h1v1h-1zM44 617h1v1h-1zM45 617h1v1h-1zM46 617h1v1h-1zM50 619h1v1h-1zM51 619h1v1h-1zM52 619h1v1h-1zM56 620h1v1h-1zM57 621h1v1h-1zM58 621h1v1h-1zM62 622h1v1h-1zM63 622h1v1h-1zM64 622h1v1h-1zM68 624h1v1h-1zM69 624h1v1h-1zM70 624h1v1h-1zM74 625h1v1h-1zM75 626h1v1h-1zM76 626h1v1h-1zM80 627h1v1h-1zM81 627h1v1h-1zM82 627h1v1h-1zM86 628h1v1h-1zM87 629h1v1h-1zM88 629h1v1h-1zM92 629h1v1h-1zM93 629h1v1h-1zM94 629h1v1h-1zM98 630h1v1h-1zM99 630h1v1h-1zM100 630h1v1h-1zM104 631h1v1h-1zM105 631h1v1h-1zM106 631h1v1h-1zM110 631h1v1h-1zM111 631h1v1h-1zM112 631h1v1h-1zM116 631h1v1h-1zM117 631h1v1h-1zM118 631h1v1h-1zM122 631h1v1h-1zM123 631h1v1h-1zM124 631h1v1h-1zM128 630h1v1h-1zM129 630h1v1h-1zM130 630h1v1h-1zM134 629h1v1h-1zM135 629h1v1h-1zM136 629h1v1h-1zM140 628h1v1h-1zM141 628h1v1h-1zM142 628h1v1h-1zM146 627h1v1h-1zM147 627h1v1h-1zM148 627h1v1h-1zM152 626h1v1h-1zM153 626h1v1h-1zM154 626h1v1h-1zM158 625h1v1h-1zM159 625h1v1h-1zM160 625h1v1h-1zM164 625h1v1h-1zM165 625h1v1h-1zM166 624h1v1h-1zM170 624h1v1h-1zM171 624h1v1h-1zM172 624h1v1h-1zM176 623h1v1h-1zM177 623h1v1h-1zM178 623h1v1h-1zM182 623h1v1h-1zM183 623h1v1h-1zM184 623h1v1h-1zM188 622h1v1h-1zM189 622h1v1h-1zM190 622h1v1h-1zM194 622h1v1h-1zM195 622h1v1h-1zM196 622h1v1h-1zM200 621h1v1h-1zM201 621h1v1h-1zM202 621h1v1h-1zM206 621h1v1h-1zM207 621h1v1h-1zM208 621h1v1h-1zM212 621h1v1h-1zM213 621h1v1h-1zM214 621h1v1h-1zM218 620h1v1h-1zM219 620h1v1h-1zM220 620h1v1h-1zM224 620h1v1h-1zM225 620h1v1h-1zM226 620h1v1h-1zM230 620h1v1h-1zM231 620h1v1h-1zM232 620h1v1h-1zM236 620h1v1h-1zM237 620h1v1h-1zM238 619h1v1h-1zM242 619h1v1h-1zM243 619h1v1h-1zM244 619h1v1h-1zM248 619h1v1h-1zM249 619h1v1h-1zM250 619h1v1h-1zM254 619h1v1h-1zM255 619h1v1h-1zM256 618h1v1h-1zM260 618h1v1h-1zM261 618h1v1h-1zM262 618h1v1h-1zM266 617h1v1h-1zM267 617h1v1h-1zM268 616h1v1h-1zM272 615h1v1h-1zM273 615h1v1h-1zM274 615h1v1h-1zM278 614h1v1h-1zM279 614h1v1h-1zM280 613h1v1h-1zM284 613h1v1h-1zM285 612h1v1h-1zM286 612h1v1h-1zM290 611h1v1h-1zM291 611h1v1h-1zM292 611h1v1h-1zM296 609h1v1h-1zM297 609h1v1h-1zM298 608h1v1h-1zM302 607h1v1h-1zM303 606h1v1h-1zM304 606h1v1h-1zM308 605h1v1h-1zM309 604h1v1h-1zM310 604h1v1h-1zM314 602h1v1h-1zM315 602h1v1h-1zM316 601h1v1h-1zM320 600h1v1h-1zM321 599h1v1h-1zM322 599h1v1h-1zM326 597h1v1h-1zM327 596h1v1h-1zM328 596h1v1h-1zM332 594h1v1h-1zM333 593h1v1h-1zM334 593h1v1h-1zM338 591h1v1h-1zM339 591h1v1h-1zM340 590h1v1h-1zM344 588h1v1h-1zM345 588h1v1h-1zM346 587h1v1h-1zM350 585h1v1h-1zM351 585h1v1h-1zM352 585h1v1h-1zM356 584h1v1h-1zM357 583h1v1h-1zM358 583h1v1h-1zM362 582h1v1h-1zM363 582h1v1h-1zM364 581h1v1h-1zM368 580h1v1h-1zM369 579h1v1h-1zM370 579h1v1h-1zM374 577h1v1h-1zM375 577h1v1h-1zM376 577h1v1h-1zM380 576h1v1h-1zM381 576h1v1h-1zM382 576h1v1h-1zM386 575h1v1h-1zM387 575h1v1h-1zM388 575h1v1h-1zM392 574h1v1h-1zM393 574h1v1h-1zM394 574h1v1h-1zM398 573h1v1h-1zM399 573h1v1h-1zM400 573h1v1h-1zM404 573h1v1h-1zM405 573h1v1h-1zM406 573h1v1h-1zM410 573h1v1h-1zM411 573h1v1h-1zM412 573h1v1h-1zM416 573h1v1h-1zM417 573h1v1h-1zM418 574h1v1h-1zM422 574h1v1h-1zM423 575h1v1h-1zM424 575h1v1h-1zM428 575h1v1h-1zM429 575h1v1h-1zM430 575h1v1h-1zM434 576h1v1h-1zM435 576h1v1h-1zM436 577h1v1h-1zM440 578h1v1h-1zM441 578h1v1h-1zM442 578h1v1h-1zM446 579h1v1h-1zM447 579h1v1h-1zM448 580h1v1h-1zM452 581h1v1h-1zM453 581h1v1h-1zM454 581h1v1h-1zM458 582h1v1h-1zM459 582h1v1h-1zM460 583h1v1h-1zM464 584h1v1h-1zM465 585h1v1h-1zM466 585h1v1h-1zM470 587h1v1h-1zM471 587h1v1h-1zM472 587h1v1h-1zM476 589h1v1h-1zM477 590h1v1h-1zM478 590h1v1h-1zM482 591h1v1h-1zM483 592h1v1h-1zM484 592h1v1h-1zM488 593h1v1h-1zM489 593h1v1h-1zM490 594h1v1h-1zM494 595h1v1h-1zM495 595h1v1h-1zM496 595h1v1h-1zM500 596h1v1h-1zM501 597h1v1h-1zM502 597h1v1h-1zM506 598h1v1h-1zM507 598h1v1h-1zM508 598h1v1h-1zM512 599h1v1h-1zM513 599h1v1h-1zM514 599h1v1h-1zM518 599h1v1h-1zM519 599h1v1h-1zM520 599h1v1h-1zM524 600h1v1h-1zM525 600h1v1h-1zM526 600h1v1h-1zM530 600h1v1h-1zM531 600h1v1h-1zM532 601h1v1h-1zM536 601h1v1h-1zM537 601h1v1h-1zM538 601h1v1h-1zM542 601h1v1h-1zM543 601h1v1h-1zM544 601h1v1h-1zM548 602h1v1h-1zM549 602h1v1h-1zM550 602h1v1h-1zM554 602h1v1h-1zM555 602h1v1h-1zM556 602h1v1h-1zM560 603h1v1h-1zM561 603h1v1h-1zM562 603h1v1h-1zM566 603h1v1h-1zM567 604h1v1h-1zM568 604h1v1h-1zM572 604h1v1h-1zM573 605h1v1h-1zM574 605h1v1h-1zM578 607h1v1h-1zM579 607h1v1h-1zM580 608h1v1h-1zM584 609h1v1h-1zM585 610h1v1h-1zM586 610h1v1h-1zM590 611h1v1h-1zM591 612h1v1h-1zM592 612h1v1h-1zM596 614h1v1h-1zM597 614h1v1h-1zM598 614h1v1h-1zM602 616h1v1h-1zM603 616h1v1h-1zM604 617h1v1h-1zM608 618h1v1h-1zM609 618h1v1h-1zM610 619h1v1h-1zM614 620h1v1h-1zM615 620h1v1h-1zM616 621h1v1h-1zM620 622h1v1h-1zM621 622h1v1h-1zM622 623h1v1h-1zM626 624h1v1h-1zM627 624h1v1h-1zM628 624h1v1h-1zM632 625h1v1h-1zM633 625h1v1h-1zM634 626h1v1h-1zM638 626h1v1h-1zM639 626h1v1h-1zM640 626h1v1h-1zM644 627h1v1h-1zM645 627h1v1h-1zM646 627h1v1h-1zM650 628h1v1h-1zM651 628h1v1h-1zM652 628h1v1h-1zM656 627h1v1h-1zM657 627h1v1h-1zM658 627h1v1h-1zM662 627h1v1h-1zM663 627h1v1h-1zM664 627h1v1h-1zM668 627h1v1h-1zM669 627h1v1h-1zM670 627h1v1h-1zM674 626h1v1h-1zM675 626h1v1h-1zM676 626h1v1h-1zM680 625h1v1h-1zM681 625h1v1h-1zM682 625h1v1h-1zM686 624h1v1h-1zM687 624h1v1h-1zM688 624h1v1h-1zM692 623h1v1h-1zM693 623h1v1h-1zM694 623h1v1h-1zM698 622h1v1h-1zM699 622h1v1h-1zM700 622h1v1h-1zM704 621h1v1h-1zM705 621h1v1h-1zM706 620h1v1h-1zM710 619h1v1h-1zM711 619h1v1h-1zM712 619h1v1h-1zM716 617h1v1h-1zM717 617h1v1h-1zM718 616h1v1h-1zM722 615h1v1h-1zM723 614h1v1h-1zM724 614h1v1h-1zM728 612h1v1h-1zM729 612h1v1h-1zM730 611h1v1h-1zM734 609h1v1h-1zM735 609h1v1h-1zM736 609h1v1h-1zM740 607h1v1h-1zM741 606h1v1h-1zM742 606h1v1h-1zM746 604h1v1h-1zM747 604h1v1h-1zM748 603h1v1h-1zM752 602h1v1h-1zM753 602h1v1h-1zM754 601h1v1h-1zM758 600h1v1h-1zM759 600h1v1h-1zM760 599h1v1h-1zM764 598h1v1h-1zM765 598h1v1h-1zM766 598h1v1h-1zM770 597h1v1h-1zM771 597h1v1h-1zM772 597h1v1h-1zM776 597h1v1h-1zM777 597h1v1h-1zM778 597h1v1h-1zM782 597h1v1h-1zM783 597h1v1h-1zM784 597h1v1h-1zM788 597h1v1h-1zM789 597h1v1h-1zM790 598h1v1h-1zM794 599h1v1h-1zM795 599h1v1h-1zM796 600h1v1h-1zM800 601h1v1h-1zM801 601h1v1h-1zM802 602h1v1h-1zM806 604h1v1h-1zM807 604h1v1h-1zM808 604h1v1h-1zM812 606h1v1h-1zM813 607h1v1h-1zM814 607h1v1h-1zM818 610h1v1h-1zM819 610h1v1h-1zM820 611h1v1h-1zM824 613h1v1h-1zM825 614h1v1h-1zM826 614h1v1h-1zM830 617h1v1h-1zM831 618h1v1h-1zM832 619h1v1h-1zM836 621h1v1h-1zM837 622h1v1h-1zM838 622h1v1h-1zM842 624h1v1h-1zM843 625h1v1h-1zM844 625h1v1h-1zM848 627h1v1h-1zM849 628h1v1h-1zM850 628h1v1h-1zM854 631h1v1h-1zM855 632h1v1h-1zM856 633h1v1h-1zM860 636h1v1h-1zM861 636h1v1h-1zM862 637h1v1h-1zM866 638h1v1h-1zM867 639h1v1h-1zM868 639h1v1h-1zM872 641h1v1h-1zM873 641h1v1h-1zM874 642h1v1h-1zM878 643h1v1h-1zM879 644h1v1h-1zM880 644h1v1h-1zM884 645h1v1h-1zM885 646h1v1h-1zM886 646h1v1h-1zM890 647h1v1h-1zM891 647h1v1h-1zM892 648h1v1h-1zM896 649h1v1h-1zM897 649h1v1h-1zM898 649h1v1h-1zM902 650h1v1h-1zM903 650h1v1h-1zM904 650h1v1h-1zM908 651h1v1h-1zM909 651h1v1h-1zM910 651h1v1h-1zM914 651h1v1h-1zM915 652h1v1h-1zM916 652h1v1h-1zM920 653h1v1h-1zM921 653h1v1h-1zM922 654h1v1h-1zM926 655h1v1h-1zM927 655h1v1h-1zM928 655h1v1h-1zM932 656h1v1h-1zM933 657h1v1h-1zM934 657h1v1h-1zM938 658h1v1h-1zM939 658h1v1h-1zM940 659h1v1h-1zM944 661h1v1h-1zM945 661h1v1h-1zM946 661h1v1h-1zM950 663h1v1h-1zM951 664h1v1h-1zM952 664h1v1h-1zM956 666h1v1h-1zM957 666h1v1h-1zM958 667h1v1h-1zM962 668h1v1h-1zM963 669h1v1h-1zM964 669h1v1h-1zM968 671h1v1h-1zM969 672h1v1h-1zM970 672h1v1h-1zM974 673h1v1h-1zM975 673h1v1h-1zM976 673h1v1h-1zM980 674h1v1h-1zM981 674h1v1h-1zM982 674h1v1h-1zM986 675h1v1h-1zM987 675h1v1h-1zM988 675h1v1h-1zM992 676h1v1h-1zM993 676h1v1h-1zM994 676h1v1h-1zM998 676h1v1h-1zM999 676h1v1h-1zM1000 676h1v1h-1zM1004 676h1v1h-1zM1005 676h1v1h-1zM1006 676h1v1h-1zM1010 676h1v1h-1zM1011 676h1v1h-1zM1012 676h1v1h-1zM1016 675h1v1h-1zM1017 675h1v1h-1zM1018 675h1v1h-1zM1022 674h1v1h-1zM1023 674h1v1h-1zM1024 674h1v1h-1zM1028 673h1v1h-1zM1029 672h1v1h-1zM1030 672h1v1h-1zM1034 671h1v1h-1zM1035 671h1v1h-1zM1036 671h1v1h-1zM1040 670h1v1h-1zM1041 669h1v1h-1zM1042 669h1v1h-1zM1046 668h1v1h-1zM1047 668h1v1h-1zM1048 668h1v1h-1zM1052 667h1v1h-1zM1053 666h1v1h-1zM1054 666h1v1h-1zM1058 665h1v1h-1zM1059 665h1v1h-1zM1060 665h1v1h-1zM1064 664h1v1h-1zM1065 664h1v1h-1zM1066 664h1v1h-1zM1070 663h1v1h-1zM1071 663h1v1h-1zM1072 663h1v1h-1zM1076 662h1v1h-1zM1077 662h1v1h-1zM1078 662h1v1h-1zM1082 662h1v1h-1zM1083 662h1v1h-1zM1084 662h1v1h-1zM1088 661h1v1h-1zM1089 661h1v1h-1zM1090 661h1v1h-1zM1094 660h1v1h-1zM1095 660h1v1h-1zM1096 660h1v1h-1zM1100 660h1v1h-1zM1101 660h1v1h-1zM1102 660h1v1h-1zM1106 659h1v1h-1zM1107 659h1v1h-1zM1108 659h1v1h-1zM1112 659h1v1h-1zM1113 659h1v1h-1zM1114 659h1v1h-1zM1118 659h1v1h-1zM1119 659h1v1h-1zM1120 659h1v1h-1zM1124 659h1v1h-1zM1125 659h1v1h-1zM1126 659h1v1h-1zM1130 659h1v1h-1zM1131 659h1v1h-1zM1132 659h1v1h-1zM1136 659h1v1h-1zM1137 659h1v1h-1zM1138 659h1v1h-1zM1142 658h1v1h-1zM1143 658h1v1h-1zM1144 658h1v1h-1zM1148 658h1v1h-1zM1149 658h1v1h-1zM1150 658h1v1h-1zM1154 658h1v1h-1zM1155 658h1v1h-1zM1156 657h1v1h-1zM1160 656h1v1h-1zM1161 656h1v1h-1zM1162 656h1v1h-1zM1166 655h1v1h-1zM1167 655h1v1h-1zM1168 655h1v1h-1zM1172 654h1v1h-1zM1173 654h1v1h-1zM1174 654h1v1h-1zM1178 653h1v1h-1zM1179 653h1v1h-1zM1180 652h1v1h-1zM1184 651h1v1h-1zM1185 651h1v1h-1zM1186 650h1v1h-1zM1190 649h1v1h-1zM1191 648h1v1h-1zM1192 648h1v1h-1zM1196 647h1v1h-1zM1197 646h1v1h-1zM1198 646h1v1h-1zM1202 645h1v1h-1zM1203 644h1v1h-1zM1204 644h1v1h-1zM1208 643h1v1h-1zM1209 643h1v1h-1zM1210 643h1v1h-1zM1214 642h1v1h-1zM1215 641h1v1h-1zM1216 641h1v1h-1zM1220 640h1v1h-1zM1221 640h1v1h-1zM1222 640h1v1h-1zM1226 638h1v1h-1zM1227 638h1v1h-1zM1228 637h1v1h-1zM1232 636h1v1h-1zM1233 635h1v1h-1zM1234 635h1v1h-1zM1238 634h1v1h-1zM1239 633h1v1h-1zM1240 633h1v1h-1zM1244 632h1v1h-1zM1245 632h1v1h-1zM1246 631h1v1h-1zM1250 630h1v1h-1zM1251 630h1v1h-1zM1252 630h1v1h-1zM1256 629h1v1h-1zM1257 629h1v1h-1zM1258 629h1v1h-1zM1262 628h1v1h-1zM1263 628h1v1h-1zM1264 628h1v1h-1zM1268 627h1v1h-1zM1269 627h1v1h-1zM1270 626h1v1h-1zM1274 625h1v1h-1zM1275 625h1v1h-1zM1276 625h1v1h-1zM1280 624h1v1h-1zM1281 624h1v1h-1zM1282 624h1v1h-1zM1286 624h1v1h-1zM1287 624h1v1h-1zM1288 624h1v1h-1zM1292 624h1v1h-1zM1293 623h1v1h-1zM1294 623h1v1h-1zM1298 623h1v1h-1zM1299 623h1v1h-1zM1300 623h1v1h-1zM1304 623h1v1h-1zM1305 624h1v1h-1zM1306 624h1v1h-1zM1310 625h1v1h-1zM1311 625h1v1h-1zM1312 625h1v1h-1zM1316 625h1v1h-1zM1317 625h1v1h-1zM1318 626h1v1h-1zM1322 626h1v1h-1zM1323 626h1v1h-1zM1324 626h1v1h-1zM1328 627h1v1h-1zM1329 627h1v1h-1zM1330 627h1v1h-1zM1334 627h1v1h-1zM1335 628h1v1h-1zM1336 628h1v1h-1zM1340 629h1v1h-1zM1341 629h1v1h-1zM1342 629h1v1h-1zM1346 630h1v1h-1zM1347 630h1v1h-1zM1348 631h1v1h-1zM1352 632h1v1h-1zM1353 633h1v1h-1zM1354 633h1v1h-1zM1358 634h1v1h-1zM1359 634h1v1h-1zM1360 634h1v1h-1zM1364 635h1v1h-1zM1365 635h1v1h-1zM1366 635h1v1h-1zM1370 636h1v1h-1zM1371 636h1v1h-1zM1372 636h1v1h-1zM1376 637h1v1h-1zM1377 637h1v1h-1zM1378 637h1v1h-1zM1382 638h1v1h-1zM1383 638h1v1h-1zM1384 638h1v1h-1zM1388 638h1v1h-1zM1389 638h1v1h-1zM1390 638h1v1h-1zM1394 638h1v1h-1zM1395 638h1v1h-1zM1396 638h1v1h-1zM1400 638h1v1h-1zM1401 638h1v1h-1zM1402 637h1v1h-1zM1406 637h1v1h-1zM1407 637h1v1h-1zM1408 637h1v1h-1zM1412 636h1v1h-1zM1413 636h1v1h-1zM1414 636h1v1h-1zM1418 635h1v1h-1zM1419 635h1v1h-1zM1420 635h1v1h-1zM1424 634h1v1h-1zM1425 633h1v1h-1zM1426 633h1v1h-1zM1430 632h1v1h-1zM1431 632h1v1h-1zM1432 632h1v1h-1zM1436 631h1v1h-1zM1437 630h1v1h-1zM1438 630h1v1h-1zM1442 629h1v1h-1zM1443 629h1v1h-1zM1444 629h1v1h-1zM1448 627h1v1h-1zM1449 627h1v1h-1zM1450 627h1v1h-1zM1454 625h1v1h-1zM1455 625h1v1h-1zM1456 625h1v1h-1zM1460 623h1v1h-1zM1461 623h1v1h-1zM1462 623h1v1h-1zM1466 622h1v1h-1zM1467 622h1v1h-1zM1468 622h1v1h-1zM1472 621h1v1h-1zM1473 621h1v1h-1zM1474 621h1v1h-1zM1478 620h1v1h-1zM1479 620h1v1h-1zM1480 620h1v1h-1zM1484 620h1v1h-1zM1485 620h1v1h-1zM1486 620h1v1h-1zM1490 620h1v1h-1zM1491 619h1v1h-1zM1492 619h1v1h-1zM1496 619h1v1h-1zM1497 619h1v1h-1zM1498 619h1v1h-1zM1502 619h1v1h-1zM1503 619h1v1h-1zM1504 619h1v1h-1zM1508 618h1v1h-1zM1509 618h1v1h-1zM1510 618h1v1h-1zM1514 618h1v1h-1zM1515 618h1v1h-1zM1516 618h1v1h-1zM1520 618h1v1h-1zM1521 618h1v1h-1zM1522 618h1v1h-1zM1526 617h1v1h-1zM1527 617h1v1h-1zM1528 617h1v1h-1zM1532 617h1v1h-1zM1533 617h1v1h-1zM1534 617h1v1h-1zM1538 617h1v1h-1zM1539 617h1v1h-1zM1540 617h1v1h-1zM1544 617h1v1h-1zM1545 617h1v1h-1zM1546 617h1v1h-1zM1550 618h1v1h-1zM1551 618h1v1h-1zM1552 618h1v1h-1zM1556 618h1v1h-1zM1557 618h1v1h-1zM1558 618h1v1h-1zM1562 618h1v1h-1zM1563 618h1v1h-1zM1564 618h1v1h-1zM1568 618h1v1h-1zM1569 618h1v1h-1zM1570 618h1v1h-1zM1574 618h1v1h-1zM1575 618h1v1h-1zM1576 618h1v1h-1zM1580 619h1v1h-1zM1581 619h1v1h-1zM1582 620h1v1h-1zM1586 620h1v1h-1zM1587 621h1v1h-1zM1588 621h1v1h-1zM1592 622h1v1h-1zM1593 622h1v1h-1zM1594 622h1v1h-1zM1598 623h1v1h-1zM1599 623h1v1h-1zM1600 623h1v1h-1zM1604 624h1v1h-1zM1605 625h1v1h-1zM1606 625h1v1h-1zM1610 626h1v1h-1zM1611 626h1v1h-1zM1612 626h1v1h-1zM1616 627h1v1h-1zM1617 627h1v1h-1zM1618 627h1v1h-1zM1622 628h1v1h-1zM1623 628h1v1h-1zM1624 629h1v1h-1zM1628 629h1v1h-1zM1629 630h1v1h-1zM1630 630h1v1h-1zM1634 631h1v1h-1zM1635 631h1v1h-1zM1636 631h1v1h-1zM1640 631h1v1h-1zM1641 631h1v1h-1zM1642 631h1v1h-1zM1646 631h1v1h-1zM1647 631h1v1h-1zM1648 631h1v1h-1zM1652 631h1v1h-1zM1653 630h1v1h-1zM1654 630h1v1h-1zM1658 630h1v1h-1zM1659 630h1v1h-1zM1660 630h1v1h-1zM1664 629h1v1h-1zM1665 629h1v1h-1zM1666 629h1v1h-1z" fill="#ff0000"/></g><g clip-path="url(#c3)"><path d="M3 729h3v1h-3zM9 729h3v1h-3zM15 729h3v1h-3zM21 729h3v1h-3zM27 729h3v1h-3zM33 729h3v1h-3zM39 729h3v1h-3zM45 729h3v1h-3zM51 729h3v1h-3zM57 729h3v1h-3zM63 729h3v1h-3zM69 729h3v1h-3zM75 729h3v1h-3zM81 729h3v1h-3zM87 729h3v1h-3zM93 729h3v1h-3zM99 729h3v1h-3zM105 729h3v1h-3zM111 729h3v1h-3zM117 729h3v1h-3zM123 729h3v1h-3zM129 729h3v1h-3zM135 729h3v1h-3zM141 729h3v1h-3zM147 729h3v1h-3zM153 729h3v1h-3zM159 729h3v1h-3zM165 729h3v1h-3zM171 729h3v1h-3zM177 729h3v1h-3zM183 729h3v1h-3zM189 729h3v1h-3zM195 729h3v1h-3zM201 729h3v1h-3zM207 729h3v1h-3zM213 729h3v1h-3zM219 729h3v1h-3zM225 729h3v1h-3zM231 729h3v1h-3zM237 729h3v1h-3zM243 729h3v1h-3zM249 729h3v1h-3zM255 729h3v1h-3zM261 729h3v1h-3zM267 729h3v1h-3zM273 729h3v1h-3zM279 729h3v1h-3zM285 729h3v1h-3zM291 729h3v1h-3zM297 729h3v1h-3zM303 729h3v1h-3zM309 729h3v1h-3zM315 729h3v1h-3zM321 729h3v1h-3zM327 729h3v1h-3zM333 729h3v1h-3zM339 729h3v1h-3zM345 729h3v1h-3zM351 729h3v1h-3zM357 729h3v1h-3zM363 729h3v1h-3zM369 729h3v1h-3zM375 729h3v1h-3zM381 729h3v1h-3zM387 729h3v1h-3zM393 729h3v1h-3zM399 729h3v1h-3zM405 729h3v1h-3zM411 729h3v1h-3zM417 729h3v1h-3zM423 729h3v1h-3zM429 729h3v1h-3zM435 729h3v1h-3zM441 729h3v1h-3zM447 729h3v1h-3zM453 729h3v1h-3zM459 729h3v1h-3zM465 729h3v1h-3zM471 729h3v1h-3zM477 729h3v1h-3zM483 729h3v1h-3zM489 729h3v1h-3zM495 729h3v1h-3zM501 729h3v1h-3zM507 729h3v1h-3zM513 729h3v1h-3zM519 729h3v1h-3zM525 729h3v1h-3zM531 729h3v1h-3zM537 729h3v1h-3zM543 729h3v1h-3zM549 729h3v1h-3zM555 729h3v1h-3zM561 729h3v1h-3zM567 729h3v1h-3zM573 729h3v1h-3zM579 729h3v1h-3zM585 729h3v1h-3zM591 729h3v1h-3zM597 729h3v1h-3zM603 729h3v1h-3zM609 729h3v1h-3zM615 729h3v1h-3zM621 729h3v1h-3zM627 729h3v1h-3zM633 729h3v1h-3zM639 729h3v1h-3zM645 729h3v1h-3zM651 729h3v1h-3zM657 729h3v1h-3zM663 729h3v1h-3zM669 729h3v1h-3zM675 729h3v1h-3zM681 729h3v1h-3zM687 729h3v1h-3zM693 729h3v1h-3zM699 729h3v1h-3zM705 729h3v1h-3zM711 729h3v1h-3zM717 729h3v1h-3zM723 729h3v1h-3zM729 729h3v1h-3zM735 729h3v1h-3zM741 729h3v1h-3zM747 729h3v1h-3zM753 729h3v1h-3zM759 729h3v1h-3zM765 729h3v1h-3zM771 729h3v1h-3zM777 729h3v1h-3zM783 729h3v1h-3zM789 729h3v1h-3zM795 729h3v1h-3zM801 729h3v1h-3zM807 729h3v1h-3zM813 729h3v1h-3zM819 729h3v1h-3zM825 729h3v1h-3zM831 729h3v1h-3zM837 729h3v1h-3zM843 729h3v1h-3zM849 729h3v1h-3zM855 729h3v1h-3zM861 729h3v1h-3zM867 729h3v1h-3zM873 729h3v1h-3zM879 729h3v1h-3zM885 729h3v1h-3zM891 729h3v1h-3zM897 729h3v1h-3zM903 729h3v1h-3zM909 729h3v1h-3zM915 729h3v1h-3zM921 729h3v1h-3zM927 729h3v1h-3zM933 729h3v1h-3zM939 729h3v1h-3zM945 729h3v1h-3zM951 729h3v1h-3zM957 729h3v1h-3zM963 729h3v1h-3zM969 729h3v1h-3zM975 729h3v1h-3zM981 729h3v1h-3zM987 729h3v1h-3zM993 729h3v1h-3zM999 729h3v1h-3zM1005 729h3v1h-3zM1011 729h3v1h-3zM1017 729h3v1h-3zM1023 729h3v1h-3zM1029 729h3v1h-3zM1035 729h3v1h-3zM1041 729h3v1h-3zM1047 729h3v1h-3zM1053 729h3v1h-3zM1059 729h3v1h-3zM1065 729h3v1h-3zM1071 729h3v1h-3zM1077 729h3v1h-3zM1083 729h3v1h-3zM1089 729h3v1h-3zM1095 729h3v1h-3zM1101 729h3v1h-3zM1107 729h3v1h-3zM1113 729h3v1h-3zM1119 729h3v1h-3zM1125 729h3v1h-3zM1131 729h3v1h-3zM1137 729h3v1h-3zM1143 729h3v1h-3zM1149 729h3v1h-3zM1155 729h3v1h-3zM1161 729h3v1h-3zM1167 729h3v1h-3zM1173 729h3v1h-3zM1179 729h3v1h-3zM1185 729h3v1h-3zM1191 729h3v1h-3zM1197 729h3v1h-3zM1203 729h3v1h-3zM1209 729h3v1h-3zM1215 729h3v1h-3zM1221 729h3v1h-3zM1227 729h3v1h-3zM1233 729h3v1h-3zM1239 729h3v1h-3zM1245 729h3v1h-3zM1251 729h3v1h-3zM1257 729h3v1h-3zM1263 729h3v1h-3zM1269 729h3v1h-3zM1275 729h3v1h-3zM1281 729h3v1h-3zM1287 729h3v1h-3zM1293 729h3v1h-3zM1299 729h3v1h-3zM1305 729h3v1h-3zM1311 729h3v1h-3zM1317 729h3v1h-3zM1323 729h3v1h-3zM1329 729h3v1h-3zM1335 729h3v1h-3zM1341 729h3v1h-3zM1347 729h3v1h-3zM1353 729h3v1h-3zM1359 729h3v1h-3zM1365 729h3v1h-3zM1371 729h3v1h-3zM1377 729h3v1h-3zM1383 729h3v1h-3zM1389 729h3v1h-3zM1395 729h3v1h-3zM1401 729h3v1h-3zM1407 729h3v1h-3zM1413 729h3v1h-3zM1419 729h3v1h-3zM1425 729h3v1h-3zM1431 729h3v1h-3zM1437 729h3v1h-3zM1443 729h3v1h-3zM1449 729h3v1h-3zM1455 729h3v1h-3zM1461 729h3v1h-3zM1467 729h3v1h-3zM1473 729h3v1h-3zM1479 729h3v1h-3zM1485 729h3v1h-3zM1491 729h3v1h-3zM1497 729h3v1h-3zM1503 729h3v1h-3zM1509 729h3v1h-3zM1515 729h3v1h-3zM1521 729h3v1h-3zM1527 729h3v1h-3zM1533 729h3v1h-3zM1539 729h3v1h-3zM1545 729h3v1h-3zM1551 729h3v1h-3zM1557 729h3v1h-3zM1563 729h3v1h-3zM1569 729h3v1h-3zM1575 729h3v1h-3zM1581 729h3v1h-3zM1587 729h3v1h-3zM1593 729h3v1h-3zM1599 729h3v1h-3zM1605 729h3v1h-3zM1611 729h3v1h-3zM1617 729h3v1h-3zM1623 729h3v1h-3zM1629 729h3v1h-3zM1635 729h3v1h-3zM1641 729h3v1h-3zM1647 729h3v1h-3zM1653 729h3v1h-3zM1659 729h3v1h-3zM1665 729h3v1h-3zM1671 729h3v1h-3zM1677 729h3v1h-3zM1683 729h3v1h-3z" fill="#c0c0c0"/><path d="M3 779h3v1h-3zM9 779h3v1h-3zM15 779h3v1h-3zM21 779h3v1h-3zM27 779h3v1h-3zM33 779h3v1h-3zM39 779h3v1h-3zM45 779h3v1h-3zM51 779h3v1h-3zM57 779h3v1h-3zM63 779h3v1h-3zM69 779h3v1h-3zM75 779h3v1h-3zM81 779h3v1h-3zM87 779h3v1h-3zM93 779h3v1h-3zM99 779h3v1h-3zM105 779h3v1h-3zM111 779h3v1h-3zM117 779h3v1h-3zM123 779h3v1h-3zM129 779h3v1h-3zM135 779h3v1h-3zM141 779h3v1h-3zM147 779h3v1h-3zM153 779h3v1h-3zM159 779h3v1h-3zM165 779h3v1h-3zM171 779h3v1h-3zM177 779h3v1h-3zM183 779h3v1h-3zM189 779h3v1h-3zM195 779h3v1h-3zM201 779h3v1h-3zM207 779h3v1h-3zM213 779h3v1h-3zM219 779h3v1h-3zM225 779h3v1h-3zM231 779h3v1h-3zM237 779h3v1h-3zM243 779h3v1h-3zM249 779h3v1h-3zM255 779h3v1h-3zM261 779h3v1h-3zM267 779h3v1h-3zM273 779h3v1h-3zM279 779h3v1h-3zM285 779h3v1h-3zM291 779h3v1h-3zM297 779h3v1h-3zM303 779h3v1h-3zM309 779h3v1h-3zM315 779h3v1h-3zM321 779h3v1h-3zM327 779h3v1h-3zM333 779h3v1h-3zM339 779h3v1h-3zM345 779h3v1h-3zM351 779h3v1h-3zM357 779h3v1h-3zM363 779h3v1h-3zM369 779h3v1h-3zM375 779h3v1h-3zM381 779h3v1h-3zM387 779h3v1h-3zM393 779h3v1h-3zM399 779h3v1h-3zM405 779h3v1h-3zM411 779h3v1h-3zM417 779h3v1h-3zM423 779h3v1h-3zM429 779h3v1h-3zM435 779h3v1h-3zM441 779h3v1h-3zM447 779h3v1h-3zM453 779h3v1h-3zM459 779h3v1h-3zM465 779h3v1h-3zM471 779h3v1h-3zM477 779h3v1h-3zM483 779h3v1h-3zM489 779h3v1h-3zM495 779h3v1h-3zM501 779h3v1h-3zM507 779h3v1h-3zM513 779h3v1h-3zM519 779h3v1h-3zM525 779h3v1h-3zM531 779h3v1h-3zM537 779h3v1h-3zM543 779h3v1h-3zM549 779h3v1h-3zM555 779h3v1h-3zM561 779h3v1h-3zM567 779h3v1h-3zM573 779h3v1h-3zM579 779h3v1h-3zM585 779h3v1h-3zM591 779h3v1h-3zM597 779h3v1h-3zM603 779h3v1h-3zM609 779h3v1h-3zM615 779h3v1h-3zM621 779h3v1h-3zM627 779h3v1h-3zM633 779h3v1h-3zM639 779h3v1h-3zM645 779h3v1h-3zM651 779h3v1h-3zM657 779h3v1h-3zM663 779h3v1h-3zM669 779h3v1h-3zM675 779h3v1h-3zM681 779h3v1h-3zM687 779h3v1h-3zM693 779h3v1h-3zM699 779h3v1h-3zM705 779h3v1h-3zM711 779h3v1h-3zM717 779h3v1h-3zM723 779h3v1h-3zM729 779h3v1h-3zM735 779h3v1h-3zM741 779h3v1h-3zM747 779h3v1h-3zM753 779h3v1h-3zM759 779h3v1h-3zM765 779h3v1h-3zM771 779h3v1h-3zM777 779h3v1h-3zM783 779h3v1h-3zM789 779h3v1h-3zM795 779h3v1h-3zM801 779h3v1h-3zM807 779h3v1h-3zM813 779h3v1h-3zM819 779h3v1h-3zM825 779h3v1h-3zM831 779h3v1h-3zM837 779h3v1h-3zM843 779h3v1h-3zM849 779h3v1h-3zM855 779h3v1h-3zM861 779h3v1h-3zM867 779h3v1h-3zM873 779h3v1h-3zM879 779h3v1h-3zM885 779h3v1h-3zM891 779h3v1h-3zM897 779h3v1h-3zM903 779h3v1h-3zM909 779h3v1h-3zM915 779h3v1h-3zM921 779h3v1h-3zM927 779h3v1h-3zM933 779h3v1h-3zM939 779h3v1h-3zM945 779h3v1h-3zM951 779h3v1h-3zM957 779h3v1h-3zM963 779h3v1h-3zM969 779h3v1h-3zM975 779h3v1h-3zM981 779h3v1h-3zM987 779h3v1h-3zM993 779h3v1h-3zM999 779h3v1h-3zM1005 779h3v1h-3zM1011 779h3v1h-3zM1017 779h3v1h-3zM1023 779h3v1h-3zM1029 779h3v1h-3zM1035 779h3v1h-3zM1041 779h3v1h-3zM1047 779h3v1h-3zM1053 779h3v1h-3zM1059 779h3v1h-3zM1065 779h3v1h-3zM1071 779h3v1h-3zM1077 779h3v1h-3zM1083 779h3v1h-3zM1089 779h3v1h-3zM1095 779h3v1h-3zM1101 779h3v1h-3zM1107 779h3v1h-3zM1113 779h3v1h-3zM1119 779h3v1h-3zM1125 779h3v1h-3zM1131 779h3v1h-3zM1137 779h3v1h-3zM1143 779h3v1h-3zM1149 779h3v1h-3zM1155 779h3v1h-3zM1161 779h3v1h-3zM1167 779h3v1h-3zM1173 779h3v1h-3zM1179 779h3v1h-3zM1185 779h3v1h-3zM1191 779h3v1h-3zM1197 779h3v1h-3zM1203 779h3v1h-3zM1209 779h3v1h-3zM1215 779h3v1h-3zM1221 779h3v1h-3zM1227 779h3v1h-3zM1233 779h3v1h-3zM1239 779h3v1h-3zM1245 779h3v1h-3zM1251 779h3v1h-3zM1257 779h3v1h-3zM1263 779h3v1h-3zM1269 779h3v1h-3zM1275 779h3v1h-3zM1281 779h3v1h-3zM1287 779h3v1h-3zM1293 779h3v1h-3zM1299 779h3v1h-3zM1305 779h3v1h-3zM1311 779h3v1h-3zM1317 779h3v1h-3zM1323 779h3v1h-3zM1329 779h3v1h-3zM1335 779h3v1h-3zM1341 779h3v1h-3zM1347 779h3v1h-3zM1353 779h3v1h-3zM1359 779h3v1h-3zM1365 779h3v1h-3zM1371 779h3v1h-3zM1377 779h3v1h-3zM1383 779h3v1h-3zM1389 779h3v1h-3zM1395 779h3v1h-3zM1401 779h3v1h-3zM1407 779h3v1h-3zM1413 779h3v1h-3zM1419 779h3v1h-3zM1425 779h3v1h-3zM1431 779h3v1h-3zM1437 779h3v1h-3zM1443 779h3v1h-3zM1449 779h3v1h-3zM1455 779h3v1h-3zM1461 779h3v1h-3zM1467 779h3v1h-3zM1473 779h3v1h-3zM1479 779h3v1h-3zM1485 779h3v1h-3zM1491 779h3v1h-3zM1497 779h3v1h-3zM1503 779h3v1h-3zM1509 779h3v1h-3zM1515 779h3v1h-3zM1521 779h3v1h-3zM1527 779h3v1h-3zM1533 779h3v1h-3zM1539 779h3v1h-3zM1545 779h3v1h-3zM1551 779h3v1h-3zM1557 779h3v1h-3zM1563 779h3v1h-3zM1569 779h3v1h-3zM1575 779h3v1h-3zM1581 779h3v1h-3zM1587 779h3v1h-3zM1593 779h3v1h-3zM1599 779h3v1h-3zM1605 779h3v1h-3zM1611 779h3v1h-3zM1617 779h3v1h-3zM1623 779h3v1h-3zM1629 779h3v1h-3zM1635 779h3v1h-3zM1641 779h3v1h-3zM1647 779h3v1h-3zM1653 779h3v1h-3zM1659 779h3v1h-3zM1665 779h3v1h-3zM1671 779h3v1h-3zM1677 779h3v1h-3zM1683 779h3v1h-3z" fill="#c0c0c0"/><path d="M2 750h1v1h-1zM3 750h1v1h-1zM4 750h1v1h-1zM5 750h1v1h-1zM6 750h1v1h-1zM7 750h1v1h-1zM8 750h1v1h-1zM9 751h1v1h-1zM10 751h1v1h-1zM11 751h1v2h-1zM12 753h1v1h-1zM13 754h1v1h-1zM14 755h1v1h-1zM15 756h1v2h-1zM16 758h1v1h-1zM17 759h1v1h-1zM18 760h1v1h-1zM19 761h1v1h-1zM20 760h1v1h-1zM21 760h1v1h-1zM22 760h1v1h-1zM23 760h1v1h-1zM24 759h1v1h-1zM25 759h1v1h-1zM26 759h1v1h-1zM27 759h1v1h-1zM28 759h1v1h-1zM29 760h1v1h-1zM30 760h1v1h-1zM31 761h1v1h-1zM32 761h1v1h-1zM33 762h1v1h-1zM34 762h1v1h-1zM35 763h1v1h-1zM36 764h1v1h-1zM37 765h1v2h-1zM38 767h1v1h-1zM39 768h1v1h-1zM40 769h1v1h-1zM41 770h1v1h-1zM42 771h1v1h-1zM43 772h1v1h-1zM44 772h1v1h-1zM45 771h1v1h-1zM46 771h1v1h-1zM47 771h1v1h-1zM48 770h1v1h-1zM49 770h1v1h-1zM50 770h1v1h-1zM51 769h1v1h-1zM52 768h1v1h-1zM53 768h1v1h-1zM54 767h1v1h-1zM55 766h1v1h-1zM56 766h1v1h-1zM57 765h1v1h-1zM58 764h1v1h-1zM59 764h1v1h-1zM60 763h1v1h-1zM61 763h1v1h-1zM62 762h1v1h-1zM63 762h1v1h-1zM64 761h1v1h-1zM65 761h1v1h-1zM66 760h1v1h-1zM67 760h1v1h-1zM68 761h1v1h-1zM69 761h1v1h-1zM70 761h1v1h-1zM71 762h1v1h-1zM72 762h1v1h-1zM73 762h1v1h-1zM74 763h1v1h-1zM75 763h1v1h-1zM76 762h1v1h-1zM77 761h1v1h-1zM78 760h1v1h-1zM79 759h1v1h-1zM80 759h1v1h-1zM81 758h1v1h-1zM82 757h1v1h-1zM83 757h1v1h-1zM84 757h1v1h-1zM85 757h1v1h-1zM86 757h1v1h-1zM87 757h1v1h-1zM88 758h1v1h-1zM89 758h1v1h-1zM90 758h1v1h-1zM91 758h1v1h-1zM92 758h1v1h-1zM93 758h1v1h-1zM94 758h1v1h-1zM95 757h1v1h-1zM96 757h1v1h-1zM97 757h1v1h-1zM98 757h1v1h-1zM99 756h1v1h-1zM100 755h1v1h-1zM101 754h1v1h-1zM102 752h1v2h-1zM103 751h1v1h-1zM104 750h1v1h-1zM105 749h1v1h-1zM106 748h1v1h-1zM107 747h1v1h-1zM108 746h1v1h-1zM109 745h1v1h-1zM110 745h1v1h-1zM111 744h1v1h-1zM112 743h1v1h-1zM113 743h1v1h-1zM114 742h1v1h-1zM115 742h1v1h-1zM116 742h1v1h-1zM117 743h1v1h-1zM118 743h1v1h-1zM119 744h1v1h-1zM120 744h1v1h-1zM121 744h1v1h-1zM122 745h1v1h-1zM123 745h1v1h-1zM124 746h1v1h-1zM125 746h1v1h-1zM126 747h1v1h-1zM127 748h1v1h-1zM128 748h1v1h-1zM129 749h1v1h-1zM130 749h1v1h-1zM131 749h1v1h-1zM132 748h1v1h-1zM133 747h1v1h-1zM134 746h1v1h-1zM135 746h1v1h-1zM136 745h1v1h-1zM137 744h1v1h-1zM138 743h1v1h-1zM139 742h1v1h-1zM140 742h1v1h-1zM141 742h1v1h-1zM142 742h1v1h-1zM143 742h1v1h-1zM144 741h1v1h-1zM145 741h1v1h-1zM146 741h1v1h-1zM147 741h1v1h-1zM148 741h1v1h-1zM149 741h1v1h-1zM150 741h1v1h-1zM151 741h1v1h-1zM152 741h1v1h-1zM153 741h1v1h-1zM154 741h1v1h-1zM155 742h1v2h-1zM156 744h1v2h-1zM157 746h1v2h-1zM158 748h1v2h-1zM159 750h1v2h-1zM160 752h1v2h-1zM161 754h1v2h-1zM162 756h1v1h-1zM163 756h1v1h-1zM164 755h1v1h-1zM165 754h1v1h-1zM166 753h1v1h-1zM167 752h1v1h-1zM168 751h1v1h-1zM169 750h1v1h-1zM170 749h1v1h-1zM171 749h1v1h-1zM172 749h1v1h-1zM173 749h1v1h-1zM174 750h1v1h-1zM175 750h1v1h-1zM176 750h1v1h-1zM177 751h1v1h-1zM178 751h1v1h-1zM179 751h1v1h-1zM180 751h1v1h-1zM181 751h1v1h-1zM182 751h1v1h-1zM183 751h1v1h-1zM184 751h1v1h-1zM185 751h1v1h-1zM186 751h1v1h-1zM187 751h1v1h-1zM188 751h1v1h-1zM189 751h1v1h-1zM190 751h1v1h-1zM191 751h1v1h-1zM192 751h1v1h-1zM193 751h1v1h-1zM194 751h1v1h-1zM195 751h1v1h-1zM196 750h1v1h-1zM197 750h1v1h-1zM198 749h1v1h-1zM199 748h1v1h-1zM200 748h1v1h-1zM201 747h1v1h-1zM202 747h1v1h-1zM203 746h1v1h-1zM204 746h1v1h-1zM205 745h1v1h-1zM206 745h1v1h-1zM207 745h1v1h-1zM208 745h1v1h-1zM209 744h1v1h-1zM210 744h1v1h-1zM211 743h1v1h-1zM212 743h1v1h-1zM213 742h1v1h-1zM214 742h1v1h-1zM215 741h1v1h-1zM216 740h1v1h-1zM217 740h1v1h-1zM218 739h1v1h-1zM219 739h1v1h-1zM220 740h1v1h-1zM221 740h1v1h-1zM222 740h1v1h-1zM223 741h1v1h-1zM224 741h1v1h-1zM225 741h1v1h-1zM226 742h1v1h-1zM227 742h1v1h-1zM228 742h1v1h-1zM229 742h1v1h-1zM230 743h1v1h-1zM231 743h1v1h-1zM232 743h1v1h-1zM233 744h1v1h-1zM234 744h1v1h-1zM235 744h1v1h-1zM236 744h1v1h-1zM237 744h1v1h-1zM238 744h1v1h-1zM239 745h1v1h-1zM240 745h1v1h-1zM241 745h1v1h-1zM242 745h1v1h-1zM243 744h1v1h-1zM244 743h1v1h-1zM245 742h1v1h-1zM246 741h1v1h-1zM247 740h1v1h-1zM248 739h1v1h-1zM249 738h1v1h-1zM250 737h1v1h-1zM251 736h1v1h-1zM252 736h1v1h-1zM253 736h1v1h-1zM254 735h1v1h-1zM255 735h1v1h-1zM256 735h1v1h-1zM257 735h1v1h-1zM258 735h1v1h-1zM259 734h1v1h-1zM260 733h1v1h-1zM261 732h1v1h-1zM262 731h1v1h-1zM263 731h1v1h-1zM264 730h1v1h-1zM265 729h1v1h-1zM266 728h1v1h-1zM267 727h1v1h-1zM268 726h1v1h-1zM269 726h1v1h-1zM270 725h1v1h-1zM271 724h1v1h-1zM272 723h1v1h-1zM273 722h1v1h-1zM274 722h1v1h-1zM275 721h1v1h-1zM276 721h1v1h-1zM277 720h1v1h-1zM278 720h1v1h-1zM279 719h1v1h-1zM280 719h1v1h-1zM281 719h1v1h-1zM282 718h1v1h-1zM283 718h1v1h-1zM284 719h1v1h-1zM285 720h1v1h-1zM286 721h1v1h-1zM287 721h1v1h-1zM288 722h1v1h-1zM289 723h1v1h-1zM290 723h1v1h-1zM291 724h1v1h-1zM292 723h1v1h-1zM293 723h1v1h-1zM294 723h1v1h-1zM295 723h1v1h-1zM296 723h1v1h-1zM297 722h1v1h-1zM298 722h1v1h-1zM299 722h1v1h-1zM300 721h1v1h-1zM301 720h1v1h-1zM302 720h1v1h-1zM303 719h1v1h-1zM304 719h1v1h-1zM305 718h1v1h-1zM306 717h1v1h-1zM307 717h1v1h-1zM308 717h1v1h-1zM309 717h1v1h-1zM310 717h1v1h-1zM311 717h1v1h-1zM312 717h1v1h-1zM313 717h1v1h-1zM314 717h1v1h-1zM315 717h1v1h-1zM316 716h1v1h-1zM317 716h1v1h-1zM318 716h1v1h-1zM319 715h1v1h-1zM320 715h1v1h-1zM321 715h1v1h-1zM322 715h1v1h-1zM323 714h1v1h-1zM324 714h1v1h-1zM325 713h1v1h-1zM326 713h1v1h-1zM327 712h1v1h-1zM328 712h1v1h-1zM329 711h1v1h-1zM330 711h1v1h-1zM331 711h1v1h-1zM332 710h1v1h-1zM333 710h1v1h-1zM334 710h1v1h-1zM335 710h1v1h-1zM336 710h1v1h-1zM337 709h1v1h-1zM338 709h1v1h-1zM339 710h1v2h-1zM340 712h1v2h-1zM341 714h1v1h-1zM342 715h1v2h-1zM343 717h1v2h-1zM344 719h1v2h-1zM345 721h1v2h-1zM346 723h1v1h-1zM347 724h1v1h-1zM348 723h1v1h-1zM349 723h1v1h-1zM350 722h1v1h-1zM351 722h1v1h-1zM352 722h1v1h-1zM353 721h1v1h-1zM354 721h1v1h-1zM355 721h1v1h-1zM356 721h1v1h-1zM357 722h1v1h-1zM358 722h1v1h-1zM359 723h1v1h-1zM360 723h1v1h-1zM361 724h1v1h-1zM362 724h1v1h-1zM363 725h1v1h-1zM364 726h1v1h-1zM365 727h1v1h-1zM366 728h1v1h-1zM367 729h1v1h-1zM368 730h1v1h-1zM369 731h1v1h-1zM370 732h1v1h-1zM371 733h1v1h-1zM372 732h1v1h-1zM373 732h1v1h-1zM374 731h1v1h-1zM375 731h1v1h-1zM376 730h1v1h-1zM377 730h1v1h-1zM378 729h1v1h-1zM379 728h1v1h-1zM380 728h1v1h-1zM381 727h1v1h-1zM382 726h1v1h-1zM383 726h1v1h-1zM384 725h1v1h-1zM385 724h1v1h-1zM386 723h1v1h-1zM387 723h1v1h-1zM388 723h1v1h-1zM389 723h1v1h-1zM390 723h1v1h-1zM391 723h1v1h-1zM392 723h1v1h-1zM393 723h1v1h-1zM394 723h1v1h-1zM395 723h1v1h-1zM396 723h1v1h-1zM397 723h1v1h-1zM398 724h1v1h-1zM399 724h1v1h-1zM400 724h1v1h-1zM401 725h1v1h-1zM402 725h1v1h-1zM403 726h1v1h-1zM404 727h1v2h-1zM405 729h1v1h-1zM406 730h1v1h-1zM407 731h1v2h-1zM408 733h1v1h-1zM409 734h1v2h-1zM410 736h1v1h-1zM411 737h1v1h-1zM412 737h1v1h-1zM413 738h1v1h-1zM414 738h1v1h-1zM415 739h1v1h-1zM416 740h1v1h-1zM417 740h1v1h-1zM418 741h1v1h-1zM419 742h1v1h-1zM420 743h1v1h-1zM421 743h1v1h-1zM422 744h1v1h-1zM423 745h1v1h-1zM424 746h1v1h-1zM425 747h1v1h-1zM426 748h1v1h-1zM427 748h1v1h-1zM428 747h1v1h-1zM429 747h1v1h-1zM430 746h1v1h-1zM431 746h1v1h-1zM432 746h1v1h-1zM433 745h1v1h-1zM434 745h1v1h-1zM435 744h1v1h-1zM436 744h1v1h-1zM437 743h1v1h-1zM438 743h1v1h-1zM439 742h1v1h-1zM440 742h1v1h-1zM441 741h1v1h-1zM442 741h1v1h-1zM443 741h1v1h-1zM444 741h1v1h-1zM445 740h1v1h-1zM446 740h1v1h-1zM447 740h1v1h-1zM448 740h1v1h-1zM449 740h1v1h-1zM450 740h1v1h-1zM451 740h1v1h-1zM452 740h1v1h-1zM453 740h1v1h-1zM454 740h1v1h-1zM455 740h1v1h-1zM456 741h1v1h-1zM457 741h1v1h-1zM458 741h1v1h-1zM459 742h1v1h-1zM460 743h1v1h-1zM461 744h1v1h-1zM462 745h1v1h-1zM463 746h1v1h-1zM464 747h1v1h-1zM465 748h1v1h-1zM466 749h1v1h-1zM467 750h1v1h-1zM468 750h1v1h-1zM469 750h1v1h-1zM470 749h1v1h-1zM471 749h1v1h-1zM472 749h1v1h-1zM473 749h1v1h-1zM474 749h1v1h-1zM475 749h1v1h-1zM476 748h1v1h-1zM477 748h1v1h-1zM478 748h1v1h-1zM479 748h1v1h-1zM480 747h1v1h-1zM481 747h1v1h-1zM482 747h1v1h-1zM483 746h1v1h-1zM484 744h1v2h-1zM485 743h1v1h-1zM486 741h1v2h-1zM487 740h1v1h-1zM488 739h1v1h-1zM489 737h1v2h-1zM490 736h1v1h-1zM491 736h1v1h-1zM492 736h1v1h-1zM493 737h1v1h-1zM494 737h1v1h-1zM495 738h1v1h-1zM496 738h1v1h-1zM497 739h1v1h-1zM498 739h1v1h-1zM499 740h1v1h-1zM500 740h1v1h-1zM501 741h1v1h-1zM502 741h1v1h-1zM503 742h1v1h-1zM504 743h1v1h-1zM505 743h1v1h-1zM506 744h1v1h-1zM507 744h1v1h-1zM508 744h1v1h-1zM509 743h1v1h-1zM510 743h1v1h-1zM511 743h1v1h-1zM512 742h1v1h-1zM513 742h1v1h-1zM514 742h1v1h-1zM515 741h1v1h-1zM516 741h1v1h-1zM517 740h1v1h-1zM518 739h1v1h-1zM519 739h1v1h-1zM520 738h1v1h-1zM521 738h1v1h-1zM522 737h1v1h-1zM523 737h1v1h-1zM524 737h1v1h-1zM525 737h1v1h-1zM526 737h1v1h-1zM527 738h1v1h-1zM528 738h1v1h-1zM529 738h1v1h-1zM530 738h1v1h-1zM531 739h1v1h-1zM532 740h1v1h-1zM533 741h1v2h-1zM534 743h1v1h-1zM535 744h1v1h-1zM536 745h1v1h-1zM537 746h1v1h-1zM538 747h1v1h-1zM539 748h1v1h-1zM540 749h1v1h-1zM541 749h1v1h-1zM542 749h1v1h-1zM543 750h1v1h-1zM544 750h1v1h-1zM545 750h1v1h-1zM546 751h1v1h-1zM547 751h1v1h-1zM548 751h1v1h-1zM549 751h1v1h-1zM550 751h1v1h-1zM551 751h1v1h-1zM552 751h1v1h-1zM553 751h1v1h-1zM554 751h1v1h-1zM555 751h1v1h-1zM556 751h1v1h-1zM557 751h1v1h-1zM558 751h1v1h-1zM559 751h1v1h-1zM560 751h1v1h-1zM561 751h1v1h-1zM562 751h1v1h-1zM563 752h1v2h-1zM564 754h1v1h-1zM565 755h1v2h-1zM566 757h1v2h-1zM567 759h1v2h-1zM568 761h1v1h-1zM569 762h1v2h-1zM570 764h1v1h-1zM571 765h1v1h-1zM572 765h1v1h-1zM573 765h1v1h-1zM574 765h1v1h-1zM575 765h1v1h-1zM576 765h1v1h-1zM577 765h1v1h-1zM578 765h1v1h-1zM579 765h1v1h-1zM580 764h1v1h-1zM581 764h1v1h-1zM582 764h1v1h-1zM583 763h1v1h-1zM584 763h1v1h-1zM585 762h1v1h-1zM586 762h1v1h-1zM587 762h1v1h-1zM588 763h1v1h-1zM589 764h1v1h-1zM590 764h1v1h-1zM591 765h1v1h-1zM592 766h1v1h-1zM593 767h1v1h-1zM594 768h1v1h-1zM595 768h1v1h-1zM596 767h1v1h-1zM597 766h1v1h-1zM598 766h1v1h-1zM599 765h1v1h-1zM600 765h1v1h-1zM601 764h1v1h-1zM602 763h1v1h-1zM603 763h1v1h-1zM604 762h1v1h-1zM605 762h1v1h-1zM606 761h1v1h-1zM607 761h1v1h-1zM608 760h1v1h-1zM609 760h1v1h-1zM610 759h1v1h-1zM611 758h1v1h-1zM612 757h1v1h-1zM613 757h1v1h-1zM614 756h1v1h-1zM615 755h1v1h-1zM616 754h1v1h-1zM617 753h1v1h-1zM618 752h1v1h-1zM619 752h1v1h-1zM620 752h1v1h-1zM621 752h1v1h-1zM622 751h1v1h-1zM623 751h1v1h-1zM624 751h1v1h-1zM625 751h1v1h-1zM626 751h1v1h-1zM627 751h1v1h-1zM628 750h1v1h-1zM629 750h1v1h-1zM630 749h1v1h-1zM631 749h1v1h-1zM632 748h1v1h-1zM633 748h1v1h-1zM634 747h1v1h-1zM635 747h1v1h-1zM636 748h1v1h-1zM637 748h1v1h-1zM638 749h1v1h-1zM639 749h1v1h-1zM640 750h1v1h-1zM641 750h1v1h-1zM642 751h1v1h-1zM643 751h1v1h-1zM644 752h1v1h-1zM645 753h1v1h-1zM646 753h1v1h-1zM647 754h1v1h-1zM648 755h1v1h-1zM649 756h1v1h-1zM650 757h1v1h-1zM651 757h1v1h-1zM652 756h1v1h-1zM653 755h1v1h-1zM654 754h1v1h-1zM655 753h1v1h-1zM656 753h1v1h-1zM657 752h1v1h-1zM658 751h1v1h-1zM659 750h1v1h-1zM660 750h1v1h-1zM661 749h1v1h-1zM662 749h1v1h-1zM663 748h1v1h-1zM664 748h1v1h-1zM665 747h1v1h-1zM666 747h1v1h-1zM667 747h1v1h-1zM668 747h1v1h-1zM669 748h1v1h-1zM670 749h1v1h-1zM671 749h1v1h-1zM672 750h1v1h-1zM673 751h1v1h-1zM674 752h1v1h-1zM675 751h1v1h-1zM676 750h1v1h-1zM677 749h1v1h-1zM678 748h1v1h-1zM679 746h1v2h-1zM680 745h1v1h-1zM681 744h1v1h-1zM682 743h1v1h-1zM683 743h1v1h-1zM684 743h1v1h-1zM685 744h1v1h-1zM686 744h1v1h-1zM687 745h1v1h-1zM688 745h1v1h-1zM689 746h1v1h-1zM690 746h1v1h-1zM691 746h1v1h-1zM692 744h1v2h-1zM693 743h1v1h-1zM694 742h1v1h-1zM695 741h1v1h-1zM696 740h1v1h-1zM697 739h1v1h-1zM698 738h1v1h-1zM699 737h1v1h-1zM700 736h1v1h-1zM701 736h1v1h-1zM702 736h1v1h-1zM703 735h1v1h-1zM704 735h1v1h-1zM705 734h1v1h-1zM706 734h1v1h-1zM707 733h1v1h-1zM708 732h1v1h-1zM709 732h1v1h-1zM710 731h1v1h-1zM711 730h1v1h-1zM712 729h1v1h-1zM713 728h1v1h-1zM714 727h1v1h-1zM715 727h1v1h-1zM716 727h1v1h-1zM717 727h1v1h-1zM718 726h1v1h-1zM719 726h1v1h-1zM720 726h1v1h-1zM721 726h1v1h-1zM722 726h1v1h-1zM723 726h1v1h-1zM724 727h1v2h-1zM725 729h1v1h-1zM726 730h1v1h-1zM727 731h1v2h-1zM728 733h1v1h-1zM729 734h1v1h-1zM730 735h1v1h-1zM731 736h1v1h-1zM732 736h1v1h-1zM733 736h1v1h-1zM734 735h1v1h-1zM735 735h1v1h-1zM736 735h1v1h-1zM737 735h1v1h-1zM738 735h1v1h-1zM739 735h1v1h-1zM740 735h1v1h-1zM741 736h1v1h-1zM742 736h1v1h-1zM743 737h1v1h-1zM744 738h1v1h-1zM745 738h1v1h-1zM746 739h1v1h-1zM747 739h1v1h-1zM748 738h1v1h-1zM749 738h1v1h-1zM750 738h1v1h-1zM751 737h1v1h-1zM752 737h1v1h-1zM753 736h1v1h-1zM754 736h1v1h-1zM755 736h1v2h-1zM756 738h1v1h-1zM757 739h1v1h-1zM758 740h1v1h-1zM759 741h1v1h-1zM760 742h1v2h-1zM761 744h1v1h-1zM762 745h1v1h-1zM763 746h1v1h-1zM764 747h1v1h-1zM765 748h1v2h-1zM766 750h1v1h-1zM767 751h1v1h-1zM768 752h1v1h-1zM769 753h1v1h-1zM770 754h1v1h-1zM771 755h1v1h-1zM772 755h1v1h-1zM773 755h1v1h-1zM774 754h1v1h-1zM775 754h1v1h-1zM776 754h1v1h-1zM777 754h1v1h-1zM778 754h1v1h-1zM779 754h1v1h-1zM780 754h1v1h-1zM781 755h1v1h-1zM782 755h1v1h-1zM783 756h1v1h-1zM784 756h1v1h-1zM785 756h1v1h-1zM786 757h1v1h-1zM787 758h1v1h-1zM788 759h1v1h-1zM789 760h1v1h-1zM790 761h1v1h-1zM791 762h1v1h-1zM792 763h1v1h-1zM793 764h1v1h-1zM794 765h1v1h-1zM795 765h1v1h-1zM796 766h1v1h-1zM797 766h1v1h-1zM798 766h1v1h-1zM799 767h1v1h-1zM800 767h1v1h-1zM801 768h1v1h-1zM802 768h1v1h-1zM803 768h1v1h-1zM804 767h1v1h-1zM805 766h1v1h-1zM806 764h1v2h-1zM807 763h1v1h-1zM808 762h1v1h-1zM809 761h1v1h-1zM810 760h1v1h-1zM811 760h1v1h-1zM812 760h1v1h-1zM813 761h1v1h-1zM814 761h1v1h-1zM815 762h1v1h-1zM816 762h1v1h-1zM817 762h1v1h-1zM818 763h1v1h-1zM819 763h1v1h-1zM820 764h1v1h-1zM821 765h1v1h-1zM822 766h1v1h-1zM823 767h1v1h-1zM824 768h1v1h-1zM825 769h1v1h-1zM826 770h1v1h-1zM827 771h1v1h-1zM828 771h1v1h-1zM829 771h1v1h-1zM830 772h1v1h-1zM831 772h1v1h-1zM832 772h1v1h-1zM833 773h1v1h-1zM834 773h1v1h-1zM835 773h1v1h-1zM836 772h1v1h-1zM837 771h1v1h-1zM838 771h1v1h-1zM839 770h1v1h-1zM840 770h1v1h-1zM841 769h1v1h-1zM842 768h1v1h-1zM843 768h1v1h-1zM844 767h1v1h-1zM845 767h1v1h-1zM846 767h1v1h-1zM847 766h1v1h-1zM848 766h1v1h-1zM849 765h1v1h-1zM850 765h1v1h-1zM851 765h1v1h-1zM852 766h1v1h-1zM853 766h1v1h-1zM854 767h1v1h-1zM855 767h1v1h-1zM856 768h1v1h-1zM857 768h1v1h-1zM858 769h1v1h-1zM859 769h1v1h-1zM860 769h1v1h-1zM861 769h1v1h-1zM862 769h1v1h-1zM863 769h1v1h-1zM864 770h1v1h-1zM865 770h1v1h-1zM866 770h1v1h-1zM867 769h1v1h-1zM868 768h1v1h-1zM869 767h1v1h-1zM870 766h1v1h-1zM871 765h1v1h-1zM872 763h1v2h-1zM873 762h1v1h-1zM874 761h1v1h-1zM875 761h1v1h-1zM876 760h1v1h-1zM877 760h1v1h-1zM878 760h1v1h-1zM879 760h1v1h-1zM880 760h1v1h-1zM881 759h1v1h-1zM882 759h1v1h-1zM883 760h1v1h-1zM884 761h1v1h-1zM885 762h1v1h-1zM886 763h1v1h-1zM887 764h1v2h-1zM888 766h1v1h-1zM889 767h1v1h-1zM890 768h1v1h-1zM891 769h1v1h-1zM892 769h1v1h-1zM893 769h1v1h-1zM894 769h1v1h-1zM895 769h1v1h-1zM896 770h1v1h-1zM897 770h1v1h-1zM898 770h1v1h-1zM899 770h1v1h-1zM900 770h1v1h-1zM901 771h1v1h-1zM902 771h1v1h-1zM903 771h1v1h-1zM904 771h1v1h-1zM905 772h1v1h-1zM906 772h1v1h-1zM907 772h1v1h-1zM908 771h1v1h-1zM909 771h1v1h-1zM910 771h1v1h-1zM911 770h1v1h-1zM912 770h1v1h-1zM913 769h1v1h-1zM914 769h1v1h-1zM915 769h1v1h-1zM916 770h1v1h-1zM917 771h1v1h-1zM918 772h1v1h-1zM919 773h1v1h-1zM920 774h1v1h-1zM921 775h1v1h-1zM922 776h1v1h-1zM923 777h1v1h-1zM924 777h1v1h-1zM925 778h1v1h-1zM926 778h1v1h-1zM927 779h1v1h-1zM928 779h1v1h-1zM929 780h1v1h-1zM930 780h1v1h-1zM931 781h1v1h-1zM932 780h1v1h-1zM933 780h1v1h-1zM934 779h1v1h-1zM935 779h1v1h-1zM936 778h1v1h-1zM937 778h1v1h-1zM938 777h1v1h-1zM939 777h1v1h-1zM940 778h1v1h-1zM941 779h1v1h-1zM942 779h1v1h-1zM943 780h1v1h-1zM944 781h1v1h-1zM945 782h1v1h-1zM946 783h1v1h-1zM947 783h1v1h-1zM948 782h1v1h-1zM949 781h1v1h-1zM950 780h1v1h-1zM951 779h1v1h-1zM952 778h1v1h-1zM953 777h1v1h-1zM954 776h1v1h-1zM955 776h1v1h-1zM956 776h1v1h-1zM957 776h1v1h-1zM958 776h1v1h-1zM959 777h1v1h-1zM960 777h1v1h-1zM961 777h1v1h-1zM962 777h1v1h-1zM963 776h1v2h-1zM964 775h1v1h-1zM965 774h1v1h-1zM966 772h1v2h-1zM967 771h1v1h-1zM968 770h1v1h-1zM969 768h1v2h-1zM970 767h1v1h-1zM971 767h1v1h-1zM972 766h1v1h-1zM973 766h1v1h-1zM974 766h1v1h-1zM975 766h1v1h-1zM976 766h1v1h-1zM977 765h1v1h-1zM978 765h1v1h-1zM979 765h1v1h-1zM980 765h1v1h-1zM981 765h1v1h-1zM982 765h1v1h-1zM983 766h1v1h-1zM984 766h1v1h-1zM985 766h1v1h-1zM986 766h1v1h-1zM987 766h1v1h-1zM988 766h1v1h-1zM989 766h1v1h-1zM990 766h1v1h-1zM991 765h1v1h-1zM992 765h1v1h-1zM993 765h1v1h-1zM994 765h1v1h-1zM995 765h1v1h-1zM996 766h1v1h-1zM997 766h1v1h-1zM998 767h1v1h-1zM999 768h1v1h-1zM1000 768h1v1h-1zM1001 769h1v1h-1zM1002 769h1v1h-1zM1003 770h1v1h-1zM1004 770h1v1h-1zM1005 770h1v1h-1zM1006 770h1v1h-1zM1007 770h1v1h-1zM1008 771h1v1h-1zM1009 771h1v1h-1zM1010 771h1v1h-1zM1011 771h1v1h-1zM1012 771h1v1h-1zM1013 770h1v1h-1zM1014 770h1v1h-1zM1015 770h1v1h-1zM1016 770h1v1h-1zM1017 769h1v1h-1zM1018 769h1v1h-1zM1019 769h1v1h-1zM1020 769h1v1h-1zM1021 769h1v1h-1zM1022 769h1v1h-1zM1023 768h1v1h-1zM1024 768h1v1h-1zM1025 768h1v1h-1zM1026 768h1v1h-1zM1027 768h1v1h-1zM1028 768h1v1h-1zM1029 768h1v1h-1zM1030 768h1v1h-1zM1031 767h1v1h-1zM1032 767h1v1h-1zM1033 767h1v1h-1zM1034 767h1v1h-1zM1035 767h1v1h-1zM1036 767h1v1h-1zM1037 766h1v1h-1zM1038 766h1v1h-1zM1039 766h1v1h-1zM1040 766h1v1h-1zM1041 765h1v1h-1zM1042 765h1v1h-1zM1043 765h1v1h-1zM1044 765h1v1h-1zM1045 765h1v1h-1zM1046 764h1v1h-1zM1047 764h1v1h-1zM1048 764h1v1h-1zM1049 764h1v1h-1zM1050 764h1v1h-1zM1051 764h1v1h-1zM1052 764h1v1h-1zM1053 764h1v1h-1zM1054 764h1v1h-1zM1055 764h1v1h-1zM1056 764h1v1h-1zM1057 764h1v1h-1zM1058 764h1v1h-1zM1059 764h1v1h-1zM1060 765h1v2h-1zM1061 767h1v1h-1zM1062 768h1v1h-1zM1063 769h1v2h-1zM1064 771h1v1h-1zM1065 772h1v1h-1zM1066 773h1v1h-1zM1067 774h1v1h-1zM1068 774h1v1h-1zM1069 774h1v1h-1zM1070 775h1v1h-1zM1071 775h1v1h-1zM1072 775h1v1h-1zM1073 776h1v1h-1zM1074 776h1v1h-1zM1075 776h1v1h-1zM1076 775h1v1h-1zM1077 774h1v1h-1zM1078 773h1v1h-1zM1079 772h1v1h-1zM1080 771h1v1h-1zM1081 771h1v1h-1zM1082 770h1v1h-1zM1083 769h1v1h-1zM1084 769h1v1h-1zM1085 769h1v1h-1zM1086 769h1v1h-1zM1087 768h1v1h-1zM1088 768h1v1h-1zM1089 768h1v1h-1zM1090 768h1v1h-1zM1091 768h1v1h-1zM1092 769h1v1h-1zM1093 770h1v1h-1zM1094 770h1v1h-1zM1095 771h1v1h-1zM1096 772h1v1h-1zM1097 773h1v1h-1zM1098 774h1v1h-1zM1099 774h1v1h-1zM1100 773h1v1h-1zM1101 772h1v1h-1zM1102 771h1v1h-1zM1103 770h1v1h-1zM1104 769h1v1h-1zM1105 768h1v1h-1zM1106 767h1v1h-1zM1107 767h1v1h-1zM1108 768h1v1h-1zM1109 768h1v1h-1zM1110 769h1v1h-1zM1111 769h1v1h-1zM1112 770h1v1h-1zM1113 770h1v1h-1zM1114 771h1v1h-1zM1115 771h1v1h-1zM1116 771h1v1h-1zM1117 771h1v1h-1zM1118 771h1v1h-1zM1119 771h1v1h-1zM1120 772h1v1h-1zM1121 772h1v1h-1zM1122 772h1v1h-1zM1123 772h1v1h-1zM1124 772h1v1h-1zM1125 772h1v1h-1zM1126 772h1v1h-1zM1127 773h1v1h-1zM1128 773h1v1h-1zM1129 773h1v1h-1zM1130 773h1v1h-1zM1131 773h1v1h-1zM1132 773h1v1h-1zM1133 772h1v1h-1zM1134 772h1v1h-1zM1135 772h1v1h-1zM1136 772h1v1h-1zM1137 771h1v1h-1zM1138 771h1v1h-1zM1139 769h1v2h-1zM1140 768h1v1h-1zM1141 766h1v2h-1zM1142 764h1v2h-1zM1143 762h1v2h-1zM1144 760h1v2h-1zM1145 759h1v1h-1zM1146 758h1v1h-1zM1147 757h1v1h-1zM1148 757h1v1h-1zM1149 757h1v1h-1zM1150 757h1v1h-1zM1151 757h1v1h-1zM1152 757h1v1h-1zM1153 757h1v1h-1zM1154 757h1v1h-1zM1155 757h1v1h-1zM1156 756h1v1h-1zM1157 756h1v1h-1zM1158 755h1v1h-1zM1159 755h1v1h-1zM1160 755h1v1h-1zM1161 754h1v1h-1zM1162 754h1v1h-1zM1163 754h1v1h-1zM1164 755h1v1h-1zM1165 755h1v1h-1zM1166 756h1v1h-1zM1167 756h1v1h-1zM1168 757h1v1h-1zM1169 757h1v1h-1zM1170 758h1v1h-1zM1171 758h1v1h-1zM1172 757h1v1h-1zM1173 756h1v1h-1zM1174 755h1v1h-1zM1175 754h1v1h-1zM1176 753h1v1h-1zM1177 752h1v1h-1zM1178 751h1v1h-1zM1179 751h1v1h-1zM1180 751h1v1h-1zM1181 751h1v1h-1zM1182 752h1v1h-1zM1183 752h1v1h-1zM1184 752h1v1h-1zM1185 752h1v1h-1zM1186 752h1v1h-1zM1187 753h1v1h-1zM1188 754h1v1h-1zM1189 755h1v1h-1zM1190 756h1v1h-1zM1191 757h1v1h-1zM1192 758h1v1h-1zM1193 759h1v1h-1zM1194 760h1v1h-1zM1195 760h1v1h-1zM1196 759h1v1h-1zM1197 759h1v1h-1zM1198 758h1v1h-1zM1199 758h1v1h-1zM1200 758h1v1h-1zM1201 757h1v1h-1zM1202 757h1v1h-1zM1203 756h1v1h-1zM1204 756h1v1h-1zM1205 755h1v1h-1zM1206 755h1v1h-1zM1207 755h1v1h-1zM1208 754h1v1h-1zM1209 754h1v1h-1zM1210 753h1v1h-1zM1211 753h1v1h-1zM1212 752h1v1h-1zM1213 752h1v1h-1zM1214 751h1v1h-1zM1215 750h1v1h-1zM1216 750h1v1h-1zM1217 749h1v1h-1zM1218 749h1v1h-1zM1219 748h1v1h-1zM1220 747h1v1h-1zM1221 747h1v1h-1zM1222 746h1v1h-1zM1223 746h1v1h-1zM1224 745h1v1h-1zM1225 745h1v1h-1zM1226 744h1v1h-1zM1227 744h1v1h-1zM1228 744h1v1h-1zM1229 743h1v1h-1zM1230 743h1v1h-1zM1231 743h1v1h-1zM1232 742h1v1h-1zM1233 742h1v1h-1zM1234 742h1v1h-1zM1235 742h1v1h-1zM1236 743h1v1h-1zM1237 744h1v1h-1zM1238 745h1v1h-1zM1239 746h1v1h-1zM1240 747h1v1h-1zM1241 748h1v1h-1zM1242 749h1v1h-1zM1243 749h1v1h-1zM1244 749h1v1h-1zM1245 749h1v1h-1zM1246 748h1v1h-1zM1247 748h1v1h-1zM1248 748h1v1h-1zM1249 748h1v1h-1zM1250 748h1v1h-1zM1251 748h1v1h-1zM1252 749h1v1h-1zM1253 750h1v1h-1zM1254 751h1v1h-1zM1255 752h1v1h-1zM1256 753h1v1h-1zM1257 753h1v1h-1zM1258 754h1v1h-1zM1259 755h1v1h-1zM1260 754h1v1h-1zM1261 754h1v1h-1zM1262 754h1v1h-1zM1263 753h1v1h-1zM1264 753h1v1h-1zM1265 753h1v1h-1zM1266 753h1v1h-1zM1267 752h1v1h-1zM1268 752h1v1h-1zM1269 752h1v1h-1zM1270 751h1v1h-1zM1271 751h1v1h-1zM1272 750h1v1h-1zM1273 750h1v1h-1zM1274 750h1v1h-1zM1275 750h1v1h-1zM1276 750h1v1h-1zM1277 750h1v1h-1zM1278 750h1v1h-1zM1279 750h1v1h-1zM1280 750h1v1h-1zM1281 750h1v1h-1zM1282 750h1v1h-1zM1283 750h1v1h-1zM1284 751h1v1h-1zM1285 752h1v2h-1zM1286 754h1v1h-1zM1287 755h1v1h-1zM1288 756h1v1h-1zM1289 757h1v1h-1zM1290 758h1v1h-1zM1291 759h1v1h-1zM1292 759h1v1h-1zM1293 759h1v1h-1zM1294 759h1v1h-1zM1295 760h1v1h-1zM1296 760h1v1h-1zM1297 760h1v1h-1zM1298 760h1v1h-1zM1299 760h1v1h-1zM1300 761h1v1h-1zM1301 762h1v1h-1zM1302 763h1v1h-1zM1303 764h1v1h-1zM1304 765h1v1h-1zM1305 765h1v1h-1zM1306 766h1v1h-1zM1307 767h1v1h-1zM1308 767h1v1h-1zM1309 767h1v1h-1zM1310 767h1v1h-1zM1311 767h1v1h-1zM1312 768h1v1h-1zM1313 768h1v1h-1zM1314 768h1v1h-1zM1315 768h1v1h-1zM1316 767h1v1h-1zM1317 767h1v1h-1zM1318 766h1v1h-1zM1319 766h1v1h-1zM1320 765h1v1h-1zM1321 765h1v1h-1zM1322 764h1v1h-1zM1323 764h1v1h-1zM1324 764h1v1h-1zM1325 765h1v1h-1zM1326 765h1v1h-1zM1327 766h1v1h-1zM1328 766h1v1h-1zM1329 766h1v1h-1zM1330 767h1v1h-1zM1331 767h1v1h-1zM1332 767h1v1h-1zM1333 767h1v1h-1zM1334 766h1v1h-1zM1335 766h1v1h-1zM1336 766h1v1h-1zM1337 766h1v1h-1zM1338 766h1v1h-1zM1339 766h1v1h-1zM1340 765h1v1h-1zM1341 765h1v1h-1zM1342 764h1v1h-1zM1343 764h1v1h-1zM1344 763h1v1h-1zM1345 763h1v1h-1zM1346 762h1v1h-1zM1347 763h1v1h-1zM1348 764h1v2h-1zM1349 766h1v2h-1zM1350 768h1v1h-1zM1351 769h1v2h-1zM1352 771h1v2h-1zM1353 773h1v1h-1zM1354 774h1v1h-1zM1355 774h1v1h-1zM1356 773h1v1h-1zM1357 772h1v1h-1zM1358 771h1v1h-1zM1359 770h1v1h-1zM1360 769h1v1h-1zM1361 768h1v1h-1zM1362 767h1v1h-1zM1363 766h1v1h-1zM1364 766h1v1h-1zM1365 766h1v1h-1zM1366 766h1v1h-1zM1367 765h1v1h-1zM1368 765h1v1h-1zM1369 765h1v1h-1zM1370 765h1v1h-1zM1371 765h1v1h-1zM1372 764h1v1h-1zM1373 764h1v1h-1zM1374 763h1v1h-1zM1375 763h1v1h-1zM1376 763h1v1h-1zM1377 762h1v1h-1zM1378 762h1v1h-1zM1379 760h1v2h-1zM1380 758h1v2h-1zM1381 756h1v2h-1zM1382 754h1v2h-1zM1383 752h1v2h-1zM1384 750h1v2h-1zM1385 748h1v2h-1zM1386 747h1v1h-1zM1387 746h1v1h-1zM1388 746h1v1h-1zM1389 746h1v1h-1zM1390 746h1v1h-1zM1391 746h1v1h-1zM1392 745h1v1h-1zM1393 745h1v1h-1zM1394 745h1v1h-1zM1395 745h1v1h-1zM1396 745h1v1h-1zM1397 744h1v1h-1zM1398 744h1v1h-1zM1399 744h1v1h-1zM1400 744h1v1h-1zM1401 744h1v1h-1zM1402 744h1v1h-1zM1403 744h1v1h-1zM1404 744h1v1h-1zM1405 745h1v1h-1zM1406 745h1v1h-1zM1407 745h1v1h-1zM1408 746h1v1h-1zM1409 746h1v1h-1zM1410 747h1v1h-1zM1411 747h1v1h-1zM1412 746h1v1h-1zM1413 746h1v1h-1zM1414 746h1v1h-1zM1415 746h1v1h-1zM1416 746h1v1h-1zM1417 745h1v1h-1zM1418 745h1v1h-1zM1419 745h1v1h-1zM1420 745h1v1h-1zM1421 746h1v1h-1zM1422 746h1v1h-1zM1423 746h1v1h-1zM1424 746h1v1h-1zM1425 746h1v1h-1zM1426 747h1v1h-1zM1427 747h1v1h-1zM1428 747h1v1h-1zM1429 747h1v1h-1zM1430 748h1v1h-1zM1431 748h1v1h-1zM1432 748h1v1h-1zM1433 748h1v1h-1zM1434 749h1v1h-1zM1435 749h1v1h-1zM1436 749h1v1h-1zM1437 749h1v1h-1zM1438 749h1v1h-1zM1439 749h1v1h-1zM1440 749h1v1h-1zM1441 749h1v1h-1zM1442 749h1v1h-1zM1443 748h1v1h-1zM1444 747h1v1h-1zM1445 746h1v1h-1zM1446 745h1v1h-1zM1447 745h1v1h-1zM1448 744h1v1h-1zM1449 743h1v1h-1zM1450 742h1v1h-1zM1451 741h1v1h-1zM1452 741h1v1h-1zM1453 741h1v1h-1zM1454 741h1v1h-1zM1455 740h1v1h-1zM1456 740h1v1h-1zM1457 740h1v1h-1zM1458 740h1v1h-1zM1459 740h1v1h-1zM1460 740h1v1h-1zM1461 739h1v1h-1zM1462 739h1v1h-1zM1463 739h1v1h-1zM1464 739h1v1h-1zM1465 739h1v1h-1zM1466 739h1v1h-1zM1467 740h1v2h-1zM1468 742h1v1h-1zM1469 743h1v2h-1zM1470 745h1v2h-1zM1471 747h1v2h-1zM1472 749h1v2h-1zM1473 751h1v2h-1zM1474 753h1v1h-1zM1475 754h1v1h-1zM1476 754h1v1h-1zM1477 754h1v1h-1zM1478 754h1v1h-1zM1479 754h1v1h-1zM1480 755h1v1h-1zM1481 755h1v1h-1zM1482 755h1v1h-1zM1483 755h1v1h-1zM1484 754h1v1h-1zM1485 754h1v1h-1zM1486 754h1v1h-1zM1487 753h1v1h-1zM1488 753h1v1h-1zM1489 753h1v1h-1zM1490 752h1v1h-1zM1491 752h1v1h-1zM1492 752h1v1h-1zM1493 751h1v1h-1zM1494 751h1v1h-1zM1495 751h1v1h-1zM1496 750h1v1h-1zM1497 750h1v1h-1zM1498 750h1v1h-1zM1499 749h1v1h-1zM1500 749h1v1h-1zM1501 748h1v1h-1zM1502 748h1v1h-1zM1503 747h1v1h-1zM1504 746h1v1h-1zM1505 746h1v1h-1zM1506 745h1v1h-1zM1507 745h1v1h-1zM1508 745h1v1h-1zM1509 744h1v1h-1zM1510 744h1v1h-1zM1511 744h1v1h-1zM1512 743h1v1h-1zM1513 743h1v1h-1zM1514 743h1v1h-1zM1515 742h1v1h-1zM1516 742h1v1h-1zM1517 741h1v1h-1zM1518 741h1v1h-1zM1519 740h1v1h-1zM1520 739h1v1h-1zM1521 739h1v1h-1zM1522 738h1v1h-1zM1523 738h1v1h-1zM1524 738h1v1h-1zM1525 739h1v1h-1zM1526 739h1v1h-1zM1527 739h1v1h-1zM1528 740h1v1h-1zM1529 740h1v1h-1zM1530 740h1v1h-1zM1531 741h1v1h-1zM1532 742h1v1h-1zM1533 743h1v1h-1zM1534 743h1v1h-1zM1535 744h1v1h-1zM1536 745h1v1h-1zM1537 746h1v1h-1zM1538 747h1v1h-1zM1539 748h1v1h-1zM1540 749h1v2h-1zM1541 751h1v1h-1zM1542 752h1v2h-1zM1543 754h1v1h-1zM1544 755h1v2h-1zM1545 757h1v1h-1zM1546 758h1v1h-1zM1547 759h1v1h-1zM1548 759h1v1h-1zM1549 758h1v1h-1zM1550 758h1v1h-1zM1551 758h1v1h-1zM1552 758h1v1h-1zM1553 758h1v1h-1zM1554 758h1v1h-1zM1555 758h1v1h-1zM1556 757h1v1h-1zM1557 757h1v1h-1zM1558 756h1v1h-1zM1559 756h1v1h-1zM1560 756h1v1h-1zM1561 755h1v1h-1zM1562 755h1v1h-1zM1563 755h1v2h-1zM1564 757h1v1h-1zM1565 758h1v2h-1zM1566 760h1v1h-1zM1567 761h1v1h-1zM1568 762h1v2h-1zM1569 764h1v1h-1zM1570 765h1v1h-1zM1571 766h1v1h-1zM1572 766h1v1h-1zM1573 766h1v1h-1zM1574 766h1v1h-1zM1575 766h1v1h-1zM1576 766h1v1h-1zM1577 766h1v1h-1zM1578 766h1v1h-1zM1579 766h1v1h-1zM1580 766h1v1h-1zM1581 765h1v1h-1zM1582 765h1v1h-1zM1583 765h1v1h-1zM1584 765h1v1h-1zM1585 765h1v1h-1zM1586 765h1v1h-1zM1587 765h1v1h-1zM1588 765h1v1h-1zM1589 765h1v1h-1zM1590 766h1v1h-1zM1591 766h1v1h-1zM1592 766h1v1h-1zM1593 767h1v1h-1zM1594 767h1v1h-1zM1595 766h1v1h-1zM1596 765h1v1h-1zM1597 764h1v1h-1zM1598 763h1v1h-1zM1599 762h1v1h-1zM1600 760h1v2h-1zM1601 759h1v1h-1zM1602 758h1v1h-1zM1603 758h1v1h-1zM1604 758h1v1h-1zM1605 759h1v1h-1zM1606 759h1v1h-1zM1607 760h1v1h-1zM1608 760h1v1h-1zM1609 760h1v1h-1zM1610 761h1v1h-1zM1611 761h1v1h-1zM1612 760h1v1h-1zM1613 759h1v1h-1zM1614 758h1v1h-1zM1615 757h1v1h-1zM1616 756h1v1h-1zM1617 755h1v1h-1zM1618 754h1v1h-1zM1619 753h1v1h-1zM1620 754h1v1h-1zM1621 755h1v1h-1zM1622 756h1v1h-1zM1623 757h1v1h-1zM1624 758h1v1h-1zM1625 759h1v1h-1zM1626 760h1v1h-1zM1627 761h1v1h-1zM1628 761h1v1h-1zM1629 761h1v1h-1zM1630 761h1v1h-1zM1631 761h1v1h-1zM1632 761h1v1h-1zM1633 761h1v1h-1zM1634 761h1v1h-1zM1635 759h1v2h-1zM1636 757h1v2h-1zM1637 756h1v1h-1zM1638 754h1v2h-1zM1639 752h1v2h-1zM1640 750h1v2h-1zM1641 748h1v2h-1zM1642 747h1v1h-1zM1643 746h1v1h-1zM1644 746h1v1h-1zM1645 745h1v1h-1zM1646 745h1v1h-1zM1647 745h1v1h-1zM1648 744h1v1h-1zM1649 744h1v1h-1zM1650 743h1v1h-1zM1651 743h1v1h-1zM1652 742h1v1h-1zM1653 741h1v1h-1zM1654 740h1v1h-1zM1655 739h1v1h-1zM1656 738h1v1h-1zM1657 737h1v1h-1zM1658 736h1v1h-1zM1659 736h1v1h-1zM1660 736h1v1h-1zM1661 736h1v1h-1zM1662 737h1v1h-1zM1663 737h1v1h-1zM1664 737h1v1h-1zM1665 737h1v1h-1zM1666 738h1v1h-1z" fill="#1e90ff"/></g><rect x="1" y="0" width="1687" height="1" fill="#000"/><rect x="1" y="562" width="1687" height="1" fill="#000"/><rect x="1" y="0" width="1" height="563" fill="#000"/><rect x="1687" y="0" width="1" height="563" fill="#000"/><rect x="1" y="564" width="1687" height="1" fill="#000"/><rect x="1" y="689" width="1687" height="1" fill="#000"/><rect x="1" y="564" width="1" height="126" fill="#000"/><rect x="1687" y="564" width="1" height="126" fill="#000"/><rect x="1" y="691" width="1687" height="1" fill="#000"/><rect x="1" y="816" width="1687" height="1" fill="#000"/><rect x="1" y="691" width="1" height="126" fill="#000"/><rect x="1687" y="691" width="1" height="126" fill="#000"/><rect x="0" y="837" width="1720" height="1" fill="#e3e3e3"/><rect x="0" y="839" width="340" height="1" fill="#000"/><rect x="446" y="839" width="1274" height="1" fill="#000"/><rect x="1688" y="31" width="2" height="1" fill="#000"/><rect x="1688" y="64" width="2" height="1" fill="#000"/><rect x="1688" y="97" width="2" height="1" fill="#000"/><rect x="1688" y="130" width="2" height="1" fill="#000"/><rect x="1688" y="163" width="2" height="1" fill="#000"/><rect x="1688" y="196" width="2" height="1" fill="#000"/><rect x="1688" y="229" width="2" height="1" fill="#000"/><rect x="1688" y="262" width="2" height="1" fill="#000"/><rect x="1688" y="295" width="2" height="1" fill="#000"/><rect x="1688" y="328" width="2" height="1" fill="#000"/><rect x="1688" y="361" width="2" height="1" fill="#000"/><rect x="1688" y="394" width="2" height="1" fill="#000"/><rect x="1688" y="427" width="2" height="1" fill="#000"/><rect x="1688" y="460" width="2" height="1" fill="#000"/><rect x="1688" y="493" width="2" height="1" fill="#000"/><rect x="1688" y="526" width="2" height="1" fill="#000"/><rect x="1688" y="559" width="2" height="1" fill="#000"/><rect x="1688" y="566" width="1" height="1" fill="#000"/><rect x="1688" y="626" width="1" height="1" fill="#000"/><rect x="1688" y="688" width="1" height="1" fill="#000"/><rect x="1688" y="693" width="1" height="1" fill="#000"/><rect x="1688" y="815" width="1" height="1" fill="#000"/><rect x="2" y="817" width="1" height="3" fill="#000"/><rect x="66" y="817" width="1" height="3" fill="#000"/><rect x="130" y="817" width="1" height="3" fill="#000"/><rect x="194" y="817" width="1" height="3" fill="#000"/><rect x="258" y="817" width="1" height="3" fill="#000"/><rect x="322" y="817" width="1" height="3" fill="#000"/><rect x="386" y="817" width="1" height="3" fill="#000"/><rect x="450" y="817" width="1" height="3" fill="#000"/><rect x="514" y="817" width="1" height="3" fill="#000"/><rect x="578" y="817" width="1" height="3" fill="#000"/><rect x="642" y="817" width="1" height="3" fill="#000"/><rect x="706" y="817" width="1" height="3" fill="#000"/><rect x="770" y="817" width="1" height="3" fill="#000"/><rect x="834" y="817" width="1" height="3" fill="#000"/><rect x="898" y="817" width="1" height="3" fill="#000"/><rect x="962" y="817" width="1" height="3" fill="#000"/><rect x="1026" y="817" width="1" height="3" fill="#000"/><rect x="1090" y="817" width="1" height="3" fill="#000"/><rect x="1154" y="817" width="1" height="3" fill="#000"/><rect x="1218" y="817" width="1" height="3" fill="#000"/><rect x="1282" y="817" width="1" height="3" fill="#000"/><rect x="1346" y="817" width="1" height="3" fill="#000"/><rect x="1410" y="817" width="1" height="3" fill="#000"/><rect x="1474" y="817" width="1" height="3" fill="#000"/><rect x="1538" y="817" width="1" height="3" fill="#000"/><rect x="1602" y="817" width="1" height="3" fill="#000"/><rect x="1666" y="817" width="1" height="3" fill="#000"/><path d="M5 7h7v1h-7zM6 8h5v1h-5zM7 9h3v1h-3zM8 10h1v1h-1z" fill="#000"/></svg><svg width="1720" height="840" viewBox="0 0 1720 840" style="position:absolute;left:0;top:0;font-family:'Liberation Sans',sans-serif;font-size:9.5px;white-space:pre" text-rendering="geometricPrecision" stroke-width="0.3"><text x="17" y="12" fill="#000" stroke="#000" textLength="64.5" lengthAdjust="spacing">CHINA300-,H4</text><text x="88" y="12" fill="#000" stroke="#000" textLength="121" lengthAdjust="spacing">5195.2 5207.4 5172.6 5183.6</text><text x="6" y="577" fill="#000" stroke="#000" textLength="116" lengthAdjust="spacing">MACD(12,26,9) 20.01 -5.66</text><text x="6" y="704" fill="#000" stroke="#000" textLength="68" lengthAdjust="spacing">RSI(14) 63.4120</text><text x="1693" y="35" fill="#000" stroke="#000" letter-spacing="-0.18">5904.00</text><text x="1693" y="68" fill="#000" stroke="#000" letter-spacing="-0.18">5838.00</text><text x="1693" y="101" fill="#000" stroke="#000" letter-spacing="-0.18">5770.00</text><text x="1693" y="134" fill="#000" stroke="#000" letter-spacing="-0.18">5702.00</text><text x="1693" y="167" fill="#000" stroke="#000" letter-spacing="-0.18">5636.00</text><text x="1693" y="200" fill="#000" stroke="#000" letter-spacing="-0.18">5568.00</text><text x="1693" y="233" fill="#000" stroke="#000" letter-spacing="-0.18">5500.00</text><text x="1693" y="266" fill="#000" stroke="#000" letter-spacing="-0.18">5434.00</text><text x="1693" y="299" fill="#000" stroke="#000" letter-spacing="-0.18">5366.00</text><text x="1693" y="332" fill="#000" stroke="#000" letter-spacing="-0.18">5298.00</text><text x="1693" y="365" fill="#000" stroke="#000" letter-spacing="-0.18">5232.00</text><text x="1693" y="398" fill="#000" stroke="#000" letter-spacing="-0.18">5164.00</text><text x="1693" y="431" fill="#000" stroke="#000" letter-spacing="-0.18">5096.00</text><text x="1693" y="464" fill="#000" stroke="#000" letter-spacing="-0.18">5030.00</text><text x="1693" y="497" fill="#000" stroke="#000" letter-spacing="-0.18">4962.00</text><text x="1693" y="530" fill="#000" stroke="#000" letter-spacing="-0.18">4894.00</text><text x="1693" y="563" fill="#000" stroke="#000" letter-spacing="-0.18">4828.00</text><text x="1690.5" y="575" fill="#000" stroke="#000" letter-spacing="-0.18">139.86</text><text x="1691" y="630" fill="#000" stroke="#000" letter-spacing="-0.18">0.00</text><text x="1690.5" y="686" fill="#000" stroke="#000" letter-spacing="-0.18">-143.82</text><text x="1690.5" y="702" fill="#000" stroke="#000" letter-spacing="-0.18">100</text><text x="1690" y="733" fill="#000" stroke="#000" letter-spacing="-0.18">70</text><text x="1690" y="783" fill="#000" stroke="#000" letter-spacing="-0.18">30</text><text x="1691" y="813" fill="#000" stroke="#000" letter-spacing="-0.18">0</text><text x="1" y="829" fill="#000" stroke="#000" letter-spacing="-0.17" word-spacing="0.5">8 Dec 2020</text><text x="65" y="829" fill="#000" stroke="#000" letter-spacing="-0.17" word-spacing="0.5">14 Dec 05:00</text><text x="129" y="829" fill="#000" stroke="#000" letter-spacing="-0.17" word-spacing="0.5">18 Dec 05:00</text><text x="193" y="829" fill="#000" stroke="#000" letter-spacing="-0.17" word-spacing="0.5">24 Dec 05:00</text><text x="257" y="829" fill="#000" stroke="#000" letter-spacing="-0.17" word-spacing="0.5">30 Dec 05:00</text><text x="321" y="829" fill="#000" stroke="#000" letter-spacing="-0.17" word-spacing="0.5">6 Jan 05:00</text><text x="385" y="829" fill="#000" stroke="#000" letter-spacing="-0.17" word-spacing="0.5">12 Jan 05:00</text><text x="449" y="829" fill="#000" stroke="#000" letter-spacing="-0.17" word-spacing="0.5">18 Jan 05:00</text><text x="513" y="829" fill="#000" stroke="#000" letter-spacing="-0.17" word-spacing="0.5">22 Jan 05:00</text><text x="577" y="829" fill="#000" stroke="#000" letter-spacing="-0.17" word-spacing="0.5">28 Jan 05:00</text><text x="641" y="829" fill="#000" stroke="#000" letter-spacing="-0.17" word-spacing="0.5">3 Feb 05:00</text><text x="705" y="829" fill="#000" stroke="#000" letter-spacing="-0.17" word-spacing="0.5">9 Feb 05:00</text><text x="769" y="829" fill="#000" stroke="#000" letter-spacing="-0.17" word-spacing="0.5">22 Feb 05:00</text><text x="833" y="829" fill="#000" stroke="#000" letter-spacing="-0.17" word-spacing="0.5">26 Feb 05:00</text><text x="897" y="829" fill="#000" stroke="#000" letter-spacing="-0.17" word-spacing="0.5">4 Mar 05:00</text><text x="961" y="829" fill="#000" stroke="#000" letter-spacing="-0.17" word-spacing="0.5">10 Mar 05:00</text><text x="1025" y="829" fill="#000" stroke="#000" letter-spacing="-0.17" word-spacing="0.5">16 Mar 05:00</text><text x="1089" y="829" fill="#000" stroke="#000" letter-spacing="-0.17" word-spacing="0.5">22 Mar 05:00</text><text x="1153" y="829" fill="#000" stroke="#000" letter-spacing="-0.17" word-spacing="0.5">26 Mar 05:00</text><text x="1217" y="829" fill="#000" stroke="#000" letter-spacing="-0.17" word-spacing="0.5">1 Apr 05:00</text><text x="1281" y="829" fill="#000" stroke="#000" letter-spacing="-0.17" word-spacing="0.5">8 Apr 05:00</text><text x="1345" y="829" fill="#000" stroke="#000" letter-spacing="-0.17" word-spacing="0.5">14 Apr 05:00</text><text x="1409" y="829" fill="#000" stroke="#000" letter-spacing="-0.17" word-spacing="0.5">20 Apr 05:00</text><text x="1473" y="829" fill="#000" stroke="#000" letter-spacing="-0.17" word-spacing="0.5">26 Apr 05:00</text><text x="1537" y="829" fill="#000" stroke="#000" letter-spacing="-0.17" word-spacing="0.5">30 Apr 05:00</text><text x="1601" y="829" fill="#000" stroke="#000" letter-spacing="-0.17" word-spacing="0.5">11 May 05:00</text><text x="1665" y="829" fill="#000" stroke="#000" letter-spacing="-0.17" word-spacing="0.5">17 May 05:00</text><rect x="1689" y="265" width="31" height="11" fill="#ff0000" stroke="none" shape-rendering="crispEdges"/><rect x="1689" y="329" width="31" height="11" fill="#ff0000" stroke="none" shape-rendering="crispEdges"/><rect x="1689" y="429" width="31" height="11" fill="#32cd32" stroke="none" shape-rendering="crispEdges"/><rect x="1689" y="530" width="31" height="11" fill="#4169e1" stroke="none" shape-rendering="crispEdges"/><rect x="1689" y="379" width="31" height="11" fill="#000" stroke="none" shape-rendering="crispEdges"/><text x="1693" y="274" fill="#fff" stroke="#fff" letter-spacing="-0.18">5415.00</text><text x="1693" y="338" fill="#fff" stroke="#fff" letter-spacing="-0.18">5285.00</text><text x="1693" y="438" fill="#fff" stroke="#fff" letter-spacing="-0.18">5080.00</text><text x="1693" y="539" fill="#fff" stroke="#fff" letter-spacing="-0.18">4875.00</text><text x="1693" y="388" fill="#fff" stroke="#fff" letter-spacing="-0.18">5183.60</text></svg><div style="position:absolute;left:1171px;top:135px;white-space:pre;color:#ed1c24;font-family:'Liberation Sans','Noto Sans CJK SC',sans-serif;font-size:37px;line-height:52px;">多空转折点</div><div style="position:absolute;left:1354px;top:132px;white-space:pre;color:#ed1c24;font-family:'Liberation Sans','Noto Sans CJK SC',sans-serif;font-size:40px;line-height:52px;letter-spacing:-1.6px">5080</div></div></body></html>
